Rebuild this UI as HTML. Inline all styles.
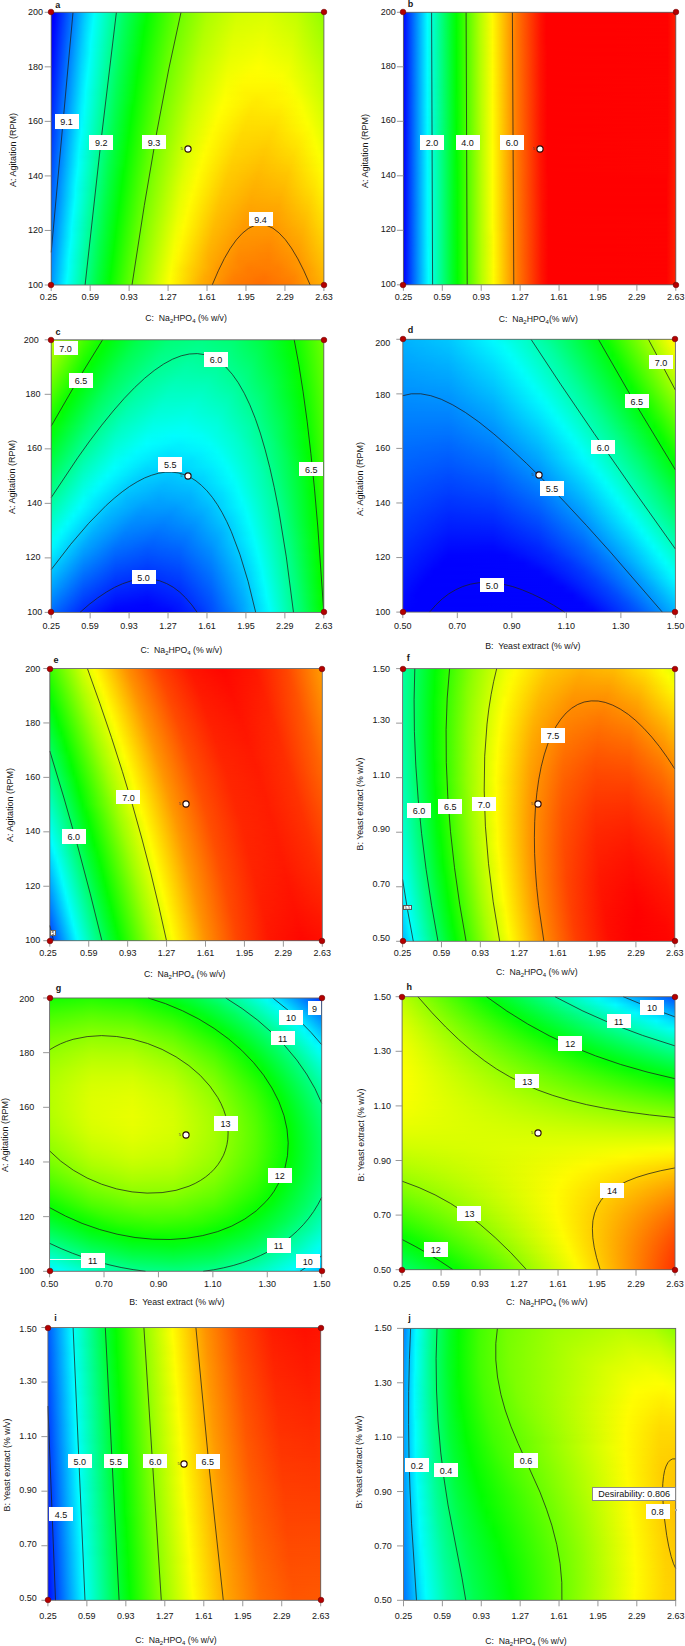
<!DOCTYPE html><html><head><meta charset="utf-8"><style>
*{margin:0;padding:0;box-sizing:border-box}
html,body{width:685px;height:1646px;background:#fff;overflow:hidden;position:relative;font-family:"Liberation Sans",sans-serif;color:#161616}
.F{position:absolute;overflow:hidden}
.L{position:absolute;left:0;top:0;width:100%;height:100%}
.t{position:absolute;font-size:9px;line-height:10px;white-space:nowrap}
.yt{text-align:right;transform:translateY(-50%)}
.xt{transform:translate(-50%,-50%)}
.ttl{position:absolute;font-size:9px;line-height:10px;white-space:nowrap;transform:translate(-50%,-50%)}
.ttl sub{font-size:6px;vertical-align:-2px;line-height:0}
.yl{transform:translate(-50%,-50%) rotate(-90deg)}
.lt{position:absolute;font-size:9px;font-weight:bold;line-height:10px}
.lb{position:absolute;background:#fff;font-size:9px;text-align:center;color:#111;white-space:nowrap;overflow:hidden}
.lb.n{padding-top:1px}
svg{position:absolute;left:0;top:0}
</style></head><body><div class="F" style="left:51.20px;top:12.30px;width:272.70px;height:272.70px"><div class="L" style="background:linear-gradient(90deg,#0000ff 0.5px,#0002ff 3.5px,#00c7ff 33.5px,#00fffc 43.5px,#00ff61 73.5px,#01ff00 96.5px,#66ff00 126.5px,#abff00 156.5px,#d1ff00 186.5px,#d8ff00 216.5px,#c0ff00 246.5px,#92ff00 272.5px)"></div><div class="L" style="background:linear-gradient(90deg,#0000ff 0.5px,#0000ff 2.5px,#00ccff 33.5px,#00fffd 42.5px,#00ff60 72.5px,#03ff00 95.5px,#68ff00 125.5px,#afff00 155.5px,#d6ff00 185.5px,#deff00 215.5px,#c7ff00 245.5px,#97ff00 272.5px);-webkit-mask-image:linear-gradient(180deg,transparent 0.0px,#000 8.0px);mask-image:linear-gradient(180deg,transparent 0.0px,#000 8.0px)"></div><div class="L" style="background:linear-gradient(90deg,#0000ff 0.5px,#000bff 3.5px,#00d1ff 33.5px,#00fffe 41.5px,#00ff60 71.5px,#00ff00 93.5px,#6aff00 124.5px,#b2ff00 154.5px,#daff00 184.5px,#e3ff00 214.5px,#cdff00 244.5px,#9dff00 272.5px);-webkit-mask-image:linear-gradient(180deg,transparent 8.0px,#000 16.0px);mask-image:linear-gradient(180deg,transparent 8.0px,#000 16.0px)"></div><div class="L" style="background:linear-gradient(90deg,#0000ff 0.5px,#0017ff 4.5px,#00dcff 34.5px,#00ffff 40.5px,#00ff60 70.5px,#01ff00 92.5px,#69ff00 122.5px,#b3ff00 152.5px,#deff00 182.5px,#e9ff00 212.5px,#d5ff00 242.5px,#a2ff00 272.5px);-webkit-mask-image:linear-gradient(180deg,transparent 16.0px,#000 24.0px);mask-image:linear-gradient(180deg,transparent 16.0px,#000 24.0px)"></div><div class="L" style="background:linear-gradient(90deg,#0000ff 0.5px,#00c8ff 30.5px,#00feff 39.5px,#00ff5b 70.5px,#02ff00 91.5px,#6cff00 121.5px,#b6ff00 151.5px,#e2ff00 181.5px,#eeff00 211.5px,#dbff00 241.5px,#aaff00 271.5px,#a7ff00 272.5px);-webkit-mask-image:linear-gradient(180deg,transparent 24.0px,#000 32.0px);mask-image:linear-gradient(180deg,transparent 24.0px,#000 32.0px)"></div><div class="L" style="background:linear-gradient(90deg,#0005ff 0.5px,#00cdff 30.5px,#00fffb 39.5px,#00ff5b 69.5px,#03ff00 90.5px,#6eff00 120.5px,#b9ff00 150.5px,#e6ff00 180.5px,#f4ff00 210.5px,#e2ff00 240.5px,#b1ff00 270.5px,#adff00 272.5px);-webkit-mask-image:linear-gradient(180deg,transparent 32.0px,#000 40.0px);mask-image:linear-gradient(180deg,transparent 32.0px,#000 40.0px)"></div><div class="L" style="background:linear-gradient(90deg,#0009ff 0.5px,#00d2ff 30.5px,#00fffc 38.5px,#00ff5b 68.5px,#00ff01 88.5px,#70ff00 119.5px,#bdff00 149.5px,#eaff00 179.5px,#f9ff00 209.5px,#e8ff00 239.5px,#b9ff00 269.5px,#b2ff00 272.5px);-webkit-mask-image:linear-gradient(180deg,transparent 40.0px,#000 48.0px);mask-image:linear-gradient(180deg,transparent 40.0px,#000 48.0px)"></div><div class="L" style="background:linear-gradient(90deg,#000eff 0.5px,#00d7ff 30.5px,#00fffd 37.5px,#00ff5b 67.5px,#00ff00 87.5px,#6eff00 117.5px,#beff00 147.5px,#edff00 177.5px,#feff00 207.5px,#f0ff00 237.5px,#c2ff00 267.5px,#b7ff00 272.5px);-webkit-mask-image:linear-gradient(180deg,transparent 48.0px,#000 56.0px);mask-image:linear-gradient(180deg,transparent 48.0px,#000 56.0px)"></div><div class="L" style="background:linear-gradient(90deg,#0013ff 0.5px,#00dcff 30.5px,#00fffe 36.5px,#00ff5a 66.5px,#01ff00 86.5px,#70ff00 116.5px,#c1ff00 146.5px,#f2ff00 176.5px,#fffc00 198.5px,#faff00 231.5px,#d3ff00 261.5px,#bdff00 272.5px);-webkit-mask-image:linear-gradient(180deg,transparent 56.0px,#000 64.0px);mask-image:linear-gradient(180deg,transparent 56.0px,#000 64.0px)"></div><div class="L" style="background:linear-gradient(90deg,#0018ff 0.5px,#00e1ff 30.5px,#00ffff 35.5px,#00ff5a 65.5px,#02ff00 85.5px,#72ff00 115.5px,#c4ff00 145.5px,#f6ff00 175.5px,#fffa00 192.5px,#fff900 222.5px,#f8ff00 239.5px,#c9ff00 269.5px,#c2ff00 272.5px);-webkit-mask-image:linear-gradient(180deg,transparent 64.0px,#000 72.0px);mask-image:linear-gradient(180deg,transparent 64.0px,#000 72.0px)"></div><div class="L" style="background:linear-gradient(90deg,#001dff 0.5px,#00e6ff 30.5px,#00feff 34.5px,#00ff55 65.5px,#03ff00 84.5px,#74ff00 114.5px,#c7ff00 144.5px,#faff00 174.5px,#fff400 194.5px,#fff400 224.5px,#faff00 242.5px,#c8ff00 272.5px);-webkit-mask-image:linear-gradient(180deg,transparent 72.0px,#000 80.0px);mask-image:linear-gradient(180deg,transparent 72.0px,#000 80.0px)"></div><div class="L" style="background:linear-gradient(90deg,#0022ff 0.5px,#00ebff 30.5px,#00fffb 34.5px,#00ff55 64.5px,#03ff00 83.5px,#76ff00 113.5px,#c9ff00 143.5px,#feff00 173.5px,#ffeb00 205.5px,#fff700 235.5px,#f8ff00 248.5px,#cdff00 272.5px);-webkit-mask-image:linear-gradient(180deg,transparent 80.0px,#000 88.0px);mask-image:linear-gradient(180deg,transparent 80.0px,#000 88.0px)"></div><div class="L" style="background:linear-gradient(90deg,#0027ff 0.5px,#00f0ff 30.5px,#00fffc 33.5px,#00ff55 63.5px,#00ff00 81.5px,#75ff00 111.5px,#caff00 141.5px,#ffff00 170.5px,#ffe700 200.5px,#ffee00 230.5px,#fbff00 250.5px,#d2ff00 272.5px);-webkit-mask-image:linear-gradient(180deg,transparent 88.0px,#000 96.0px);mask-image:linear-gradient(180deg,transparent 88.0px,#000 96.0px)"></div><div class="L" style="background:linear-gradient(90deg,#002cff 0.5px,#00f5ff 30.5px,#00fff7 33.5px,#00ff50 63.5px,#00ff00 80.5px,#76ff00 110.5px,#cdff00 140.5px,#fffe00 167.5px,#ffe200 197.5px,#ffe600 227.5px,#fbff00 253.5px,#d8ff00 272.5px);-webkit-mask-image:linear-gradient(180deg,transparent 96.0px,#000 104.0px);mask-image:linear-gradient(180deg,transparent 96.0px,#000 104.0px)"></div><div class="L" style="background:linear-gradient(90deg,#0031ff 0.5px,#00faff 30.5px,#00ffec 34.5px,#00ff46 64.5px,#01ff00 79.5px,#78ff00 109.5px,#d0ff00 139.5px,#fffd00 164.5px,#ffde00 194.5px,#ffdf00 224.5px,#fcff00 256.5px,#ddff00 272.5px);-webkit-mask-image:linear-gradient(180deg,transparent 104.0px,#000 112.0px);mask-image:linear-gradient(180deg,transparent 104.0px,#000 112.0px)"></div><div class="L" style="background:linear-gradient(90deg,#0036ff 0.5px,#00ffff 30.5px,#00ff55 60.5px,#02ff00 78.5px,#7aff00 108.5px,#d3ff00 138.5px,#fffc00 161.5px,#ffdb00 191.5px,#ffd800 221.5px,#fff500 251.5px,#f9ff00 261.5px,#e3ff00 272.5px);-webkit-mask-image:linear-gradient(180deg,transparent 112.0px,#000 120.0px);mask-image:linear-gradient(180deg,transparent 112.0px,#000 120.0px)"></div><div class="L" style="background:linear-gradient(90deg,#003bff 0.5px,#00feff 29.5px,#00ff4b 61.5px,#02ff00 77.5px,#7bff00 107.5px,#d5ff00 137.5px,#fffc00 158.5px,#ffd700 188.5px,#ffd200 218.5px,#ffeb00 248.5px,#fbff00 263.5px,#e8ff00 272.5px);-webkit-mask-image:linear-gradient(180deg,transparent 120.0px,#000 128.0px);mask-image:linear-gradient(180deg,transparent 120.0px,#000 128.0px)"></div><div class="L" style="background:linear-gradient(90deg,#0040ff 0.5px,#00fcff 28.5px,#00ff41 62.5px,#03ff00 76.5px,#7dff00 106.5px,#d8ff00 136.5px,#fffc00 155.5px,#ffd400 185.5px,#ffcb00 215.5px,#ffe200 245.5px,#fcff00 265.5px,#eeff00 272.5px);-webkit-mask-image:linear-gradient(180deg,transparent 128.0px,#000 136.0px);mask-image:linear-gradient(180deg,transparent 128.0px,#000 136.0px)"></div><div class="L" style="background:linear-gradient(90deg,#0045ff 0.5px,#00fbff 27.5px,#00ff37 63.5px,#03ff00 75.5px,#7fff00 105.5px,#dbff00 135.5px,#fffd00 152.5px,#ffd200 182.5px,#ffc600 212.5px,#ffd900 242.5px,#fcff00 268.5px,#f3ff00 272.5px);-webkit-mask-image:linear-gradient(180deg,transparent 136.0px,#000 144.0px);mask-image:linear-gradient(180deg,transparent 136.0px,#000 144.0px)"></div><div class="L" style="background:linear-gradient(90deg,#004aff 0.5px,#00fffe 27.5px,#00ff51 57.5px,#04ff00 74.5px,#80ff00 104.5px,#ddff00 134.5px,#fffc00 150.5px,#ffce00 180.5px,#ffc000 210.5px,#ffd100 240.5px,#fbff00 271.5px,#f9ff00 272.5px);-webkit-mask-image:linear-gradient(180deg,transparent 144.0px,#000 152.0px);mask-image:linear-gradient(180deg,transparent 144.0px,#000 152.0px)"></div><div class="L" style="background:linear-gradient(90deg,#004fff 0.5px,#00ffff 26.5px,#00ff51 56.5px,#00ff00 72.5px,#82ff00 103.5px,#e0ff00 133.5px,#fffd00 147.5px,#ffcc00 177.5px,#ffbb00 207.5px,#ffc800 237.5px,#fff500 267.5px,#feff00 272.5px);-webkit-mask-image:linear-gradient(180deg,transparent 152.0px,#000 160.0px);mask-image:linear-gradient(180deg,transparent 152.0px,#000 160.0px)"></div><div class="L" style="background:linear-gradient(90deg,#0054ff 0.5px,#00feff 25.5px,#00ff46 57.5px,#00ff00 71.5px,#80ff00 101.5px,#e0ff00 131.5px,#fffc00 145.5px,#ffc900 175.5px,#ffb500 205.5px,#ffc100 235.5px,#ffec00 265.5px,#fffa00 272.5px);-webkit-mask-image:linear-gradient(180deg,transparent 160.0px,#000 168.0px);mask-image:linear-gradient(180deg,transparent 160.0px,#000 168.0px)"></div><div class="L" style="background:linear-gradient(90deg,#0059ff 0.5px,#00fcff 24.5px,#00ff3c 58.5px,#00ff00 70.5px,#81ff00 100.5px,#e3ff00 130.5px,#fffb00 143.5px,#ffc600 173.5px,#ffb000 203.5px,#ffba00 233.5px,#ffe300 263.5px,#fff500 272.5px);-webkit-mask-image:linear-gradient(180deg,transparent 168.0px,#000 176.0px);mask-image:linear-gradient(180deg,transparent 168.0px,#000 176.0px)"></div><div class="L" style="background:linear-gradient(90deg,#005eff 0.5px,#00fffd 24.5px,#00ff4c 54.5px,#01ff00 69.5px,#82ff00 99.5px,#e5ff00 129.5px,#fffd00 140.5px,#ffc500 170.5px,#ffac00 200.5px,#ffb200 230.5px,#ffd800 260.5px,#ffef00 272.5px);-webkit-mask-image:linear-gradient(180deg,transparent 176.0px,#000 184.0px);mask-image:linear-gradient(180deg,transparent 176.0px,#000 184.0px)"></div><div class="L" style="background:linear-gradient(90deg,#0063ff 0.5px,#00fffe 23.5px,#00ff4c 53.5px,#01ff00 68.5px,#84ff00 98.5px,#e8ff00 128.5px,#fffc00 138.5px,#ffc200 168.5px,#ffa700 198.5px,#ffab00 228.5px,#ffcf00 258.5px,#ffea00 272.5px);-webkit-mask-image:linear-gradient(180deg,transparent 184.0px,#000 192.0px);mask-image:linear-gradient(180deg,transparent 184.0px,#000 192.0px)"></div><div class="L" style="background:linear-gradient(90deg,#0068ff 0.5px,#00ffff 22.5px,#00ff4c 52.5px,#01ff00 67.5px,#85ff00 97.5px,#eaff00 127.5px,#fffc00 136.5px,#ffc000 166.5px,#ffa200 196.5px,#ffa400 226.5px,#ffc600 256.5px,#ffe400 272.5px);-webkit-mask-image:linear-gradient(180deg,transparent 192.0px,#000 200.0px);mask-image:linear-gradient(180deg,transparent 192.0px,#000 200.0px)"></div><div class="L" style="background:linear-gradient(90deg,#006dff 0.5px,#00fdff 21.5px,#00ff3c 54.5px,#01ff00 66.5px,#87ff00 96.5px,#ecff00 126.5px,#fffc00 134.5px,#ffbd00 164.5px,#ff9e00 194.5px,#ff9e00 224.5px,#ffbd00 254.5px,#ffdf00 272.5px);-webkit-mask-image:linear-gradient(180deg,transparent 200.0px,#000 208.0px);mask-image:linear-gradient(180deg,transparent 200.0px,#000 208.0px)"></div><div class="L" style="background:linear-gradient(90deg,#0072ff 0.5px,#00fcff 20.5px,#00ff32 55.5px,#02ff00 65.5px,#88ff00 95.5px,#efff00 125.5px,#fffc00 132.5px,#ffbb00 162.5px,#ff9a00 192.5px,#ff9700 222.5px,#ffb400 252.5px,#ffd900 272.5px);-webkit-mask-image:linear-gradient(180deg,transparent 208.0px,#000 216.0px);mask-image:linear-gradient(180deg,transparent 208.0px,#000 216.0px)"></div><div class="L" style="background:linear-gradient(90deg,#0077ff 0.5px,#00fffd 20.5px,#00ff48 50.5px,#02ff00 64.5px,#89ff00 94.5px,#f1ff00 124.5px,#fff900 131.5px,#ffb700 161.5px,#ff9500 191.5px,#ff9200 221.5px,#ffad00 251.5px,#ffd300 272.5px);-webkit-mask-image:linear-gradient(180deg,transparent 216.0px,#000 224.0px);mask-image:linear-gradient(180deg,transparent 216.0px,#000 224.0px)"></div><div class="L" style="background:linear-gradient(90deg,#007cff 0.5px,#00fffe 19.5px,#00ff48 49.5px,#02ff00 63.5px,#8aff00 93.5px,#f4ff00 123.5px,#fff900 129.5px,#ffb500 159.5px,#ff9100 189.5px,#ff8b00 219.5px,#ffa500 249.5px,#ffce00 272.5px);-webkit-mask-image:linear-gradient(180deg,transparent 224.0px,#000 232.0px);mask-image:linear-gradient(180deg,transparent 224.0px,#000 232.0px)"></div><div class="L" style="background:linear-gradient(90deg,#0081ff 0.5px,#00feff 18.5px,#00ff43 49.5px,#02ff00 62.5px,#8cff00 92.5px,#f6ff00 122.5px,#fff900 127.5px,#ffb300 157.5px,#ff8d00 187.5px,#ff8500 217.5px,#ff9d00 247.5px,#ffc800 272.5px);-webkit-mask-image:linear-gradient(180deg,transparent 232.0px,#000 240.0px);mask-image:linear-gradient(180deg,transparent 232.0px,#000 240.0px)"></div><div class="L" style="background:linear-gradient(90deg,#0086ff 0.5px,#00fdff 17.5px,#00ff33 51.5px,#02ff00 61.5px,#8dff00 91.5px,#f8ff00 121.5px,#fff400 127.5px,#ffae00 157.5px,#ff8700 187.5px,#ff8000 217.5px,#ff9700 247.5px,#ffc300 272.5px);-webkit-mask-image:linear-gradient(180deg,transparent 240.0px,#000 248.0px);mask-image:linear-gradient(180deg,transparent 240.0px,#000 248.0px)"></div><div class="L" style="background:linear-gradient(90deg,#008cff 0.5px,#00fffc 17.5px,#00ff44 47.5px,#02ff00 60.5px,#8eff00 90.5px,#faff00 120.5px,#ffd400 137.5px,#ff9800 167.5px,#ff7c00 197.5px,#ff7f00 227.5px,#ffa000 257.5px,#ffbd00 272.5px);-webkit-mask-image:linear-gradient(180deg,transparent 248.0px,#000 256.0px);mask-image:linear-gradient(180deg,transparent 248.0px,#000 256.0px)"></div><div class="L" style="background:linear-gradient(90deg,#0091ff 0.5px,#00fffe 16.5px,#00ff44 46.5px,#02ff00 59.5px,#8fff00 89.5px,#fdff00 119.5px,#ffab00 153.5px,#ff8000 183.5px,#ff7400 213.5px,#ff8700 243.5px,#ffb700 272.5px);-webkit-mask-image:linear-gradient(180deg,transparent 256.0px,#000 264.0px);mask-image:linear-gradient(180deg,transparent 256.0px,#000 264.0px)"></div><div class="L" style="background:linear-gradient(90deg,#0096ff 0.5px,#00ffff 15.5px,#00ff45 45.5px,#02ff00 58.5px,#90ff00 88.5px,#ffff00 118.5px,#ffb000 148.5px,#ff7f00 178.5px,#ff6e00 208.5px,#ff7c00 238.5px,#ffa900 268.5px,#ffb200 272.5px);-webkit-mask-image:linear-gradient(180deg,transparent 264.0px,#000 272.0px);mask-image:linear-gradient(180deg,transparent 264.0px,#000 272.0px)"></div><div class="L" style="background:linear-gradient(90deg,#0096ff 0.5px,#00ffff 15.5px,#00ff44 45.5px,#03ff00 58.5px,#91ff00 88.5px,#fcff00 117.5px,#ffa900 151.5px,#ff7c00 181.5px,#ff6e00 211.5px,#ff7f00 241.5px,#ffaf00 271.5px,#ffb100 272.5px);-webkit-mask-image:linear-gradient(180deg,transparent 272.0px,#000 272.7px);mask-image:linear-gradient(180deg,transparent 272.0px,#000 272.7px)"></div></div><div class="F" style="left:403.40px;top:12.30px;width:272.40px;height:272.50px"><div class="L" style="background:linear-gradient(90deg,#0007ff 0.5px,#00ffff 24.5px,#00ff27 48.5px,#03ff00 53.5px,#b5ff00 77.5px,#fdff00 88.5px,#ff7200 114.5px,#ff0e00 138.5px,#ff0000 143.5px,#ff0200 264.5px,#ff1e00 272.5px)"></div><div class="L" style="background:linear-gradient(90deg,#0007ff 0.5px,#00ffff 24.5px,#00ff1f 49.5px,#02ff00 53.5px,#b5ff00 77.5px,#fffb00 89.5px,#ff7700 113.5px,#ff1200 137.5px,#ff0000 143.5px,#ff0200 264.5px,#ff1e00 272.5px);-webkit-mask-image:linear-gradient(180deg,transparent 0.0px,#000 8.0px);mask-image:linear-gradient(180deg,transparent 0.0px,#000 8.0px)"></div><div class="L" style="background:linear-gradient(90deg,#0007ff 0.5px,#00feff 24.5px,#00ff1f 49.5px,#02ff00 53.5px,#b5ff00 77.5px,#fffb00 89.5px,#ff7700 113.5px,#ff1200 137.5px,#ff0000 143.5px,#ff0200 264.5px,#ff1e00 272.5px);-webkit-mask-image:linear-gradient(180deg,transparent 8.0px,#000 16.0px);mask-image:linear-gradient(180deg,transparent 8.0px,#000 16.0px)"></div><div class="L" style="background:linear-gradient(90deg,#0006ff 0.5px,#00feff 24.5px,#00ff1f 49.5px,#02ff00 53.5px,#b5ff00 77.5px,#fffb00 89.5px,#ff7700 113.5px,#ff1200 137.5px,#ff0000 143.5px,#ff0200 264.5px,#ff1e00 272.5px);-webkit-mask-image:linear-gradient(180deg,transparent 16.0px,#000 24.0px);mask-image:linear-gradient(180deg,transparent 16.0px,#000 24.0px)"></div><div class="L" style="background:linear-gradient(90deg,#0006ff 0.5px,#00feff 24.5px,#00ff17 50.5px,#02ff00 53.5px,#b5ff00 77.5px,#fffc00 89.5px,#ff7700 113.5px,#ff1200 137.5px,#ff0000 143.5px,#ff0200 264.5px,#ff1e00 272.5px);-webkit-mask-image:linear-gradient(180deg,transparent 24.0px,#000 32.0px);mask-image:linear-gradient(180deg,transparent 24.0px,#000 32.0px)"></div><div class="L" style="background:linear-gradient(90deg,#0006ff 0.5px,#00fdff 24.5px,#00ff17 50.5px,#01ff00 53.5px,#b4ff00 77.5px,#fffc00 89.5px,#ff7800 113.5px,#ff1300 137.5px,#ff0000 144.5px,#ff0200 264.5px,#ff1e00 272.5px);-webkit-mask-image:linear-gradient(180deg,transparent 32.0px,#000 40.0px);mask-image:linear-gradient(180deg,transparent 32.0px,#000 40.0px)"></div><div class="L" style="background:linear-gradient(90deg,#0005ff 0.5px,#00fdff 24.5px,#00ff18 50.5px,#01ff00 53.5px,#b4ff00 77.5px,#fffc00 89.5px,#ff7800 113.5px,#ff1300 137.5px,#ff0000 144.5px,#ff0200 264.5px,#ff1e00 272.5px);-webkit-mask-image:linear-gradient(180deg,transparent 40.0px,#000 48.0px);mask-image:linear-gradient(180deg,transparent 40.0px,#000 48.0px)"></div><div class="L" style="background:linear-gradient(90deg,#0005ff 0.5px,#00fdff 24.5px,#00ff10 51.5px,#01ff00 53.5px,#b4ff00 77.5px,#fffc00 89.5px,#ff7800 113.5px,#ff1300 137.5px,#ff0000 144.5px,#ff0200 264.5px,#ff1f00 272.5px);-webkit-mask-image:linear-gradient(180deg,transparent 48.0px,#000 56.0px);mask-image:linear-gradient(180deg,transparent 48.0px,#000 56.0px)"></div><div class="L" style="background:linear-gradient(90deg,#0005ff 0.5px,#00fdff 24.5px,#00ff10 51.5px,#01ff00 53.5px,#b4ff00 77.5px,#fffd00 89.5px,#ff7800 113.5px,#ff1300 137.5px,#ff0000 144.5px,#ff0300 264.5px,#ff1f00 272.5px);-webkit-mask-image:linear-gradient(180deg,transparent 56.0px,#000 64.0px);mask-image:linear-gradient(180deg,transparent 56.0px,#000 64.0px)"></div><div class="L" style="background:linear-gradient(90deg,#0005ff 0.5px,#00fcff 24.5px,#00ff10 51.5px,#00ff00 53.5px,#b3ff00 77.5px,#fffd00 89.5px,#ff7900 113.5px,#ff1300 137.5px,#ff0000 144.5px,#ff0300 264.5px,#ff1f00 272.5px);-webkit-mask-image:linear-gradient(180deg,transparent 64.0px,#000 72.0px);mask-image:linear-gradient(180deg,transparent 64.0px,#000 72.0px)"></div><div class="L" style="background:linear-gradient(90deg,#0004ff 0.5px,#00fcff 24.5px,#00ff08 52.5px,#00ff00 53.5px,#b3ff00 77.5px,#fffd00 89.5px,#ff7900 113.5px,#ff1400 137.5px,#ff0000 144.5px,#ff0300 264.5px,#ff1f00 272.5px);-webkit-mask-image:linear-gradient(180deg,transparent 72.0px,#000 80.0px);mask-image:linear-gradient(180deg,transparent 72.0px,#000 80.0px)"></div><div class="L" style="background:linear-gradient(90deg,#0004ff 0.5px,#00fcff 24.5px,#00ff08 52.5px,#08ff00 54.5px,#baff00 78.5px,#fffd00 89.5px,#ff7900 113.5px,#ff1400 137.5px,#ff0000 144.5px,#ff0300 264.5px,#ff1f00 272.5px);-webkit-mask-image:linear-gradient(180deg,transparent 80.0px,#000 88.0px);mask-image:linear-gradient(180deg,transparent 80.0px,#000 88.0px)"></div><div class="L" style="background:linear-gradient(90deg,#0004ff 0.5px,#00fcff 24.5px,#00ff09 52.5px,#08ff00 54.5px,#b9ff00 78.5px,#fffd00 89.5px,#ff7900 113.5px,#ff1400 137.5px,#ff0000 144.5px,#ff0300 264.5px,#ff1f00 272.5px);-webkit-mask-image:linear-gradient(180deg,transparent 88.0px,#000 96.0px);mask-image:linear-gradient(180deg,transparent 88.0px,#000 96.0px)"></div><div class="L" style="background:linear-gradient(90deg,#0003ff 0.5px,#00fbff 24.5px,#00ff09 52.5px,#07ff00 54.5px,#b9ff00 78.5px,#fffe00 89.5px,#ff7900 113.5px,#ff1400 137.5px,#ff0000 144.5px,#ff0300 264.5px,#ff1f00 272.5px);-webkit-mask-image:linear-gradient(180deg,transparent 96.0px,#000 104.0px);mask-image:linear-gradient(180deg,transparent 96.0px,#000 104.0px)"></div><div class="L" style="background:linear-gradient(90deg,#0003ff 0.5px,#00fbff 24.5px,#00ff01 53.5px,#b9ff00 78.5px,#fffe00 89.5px,#ff7a00 113.5px,#ff1400 137.5px,#ff0000 144.5px,#ff0300 264.5px,#ff1f00 272.5px);-webkit-mask-image:linear-gradient(180deg,transparent 104.0px,#000 112.0px);mask-image:linear-gradient(180deg,transparent 104.0px,#000 112.0px)"></div><div class="L" style="background:linear-gradient(90deg,#0003ff 0.5px,#00fbff 24.5px,#00ff44 45.5px,#00ff01 53.5px,#bfff00 79.5px,#fffe00 89.5px,#ff7a00 113.5px,#ff1500 137.5px,#ff0000 144.5px,#ff0300 264.5px,#ff2000 272.5px);-webkit-mask-image:linear-gradient(180deg,transparent 112.0px,#000 120.0px);mask-image:linear-gradient(180deg,transparent 112.0px,#000 120.0px)"></div><div class="L" style="background:linear-gradient(90deg,#0003ff 0.5px,#00fbff 24.5px,#00ffaf 33.5px,#00ff01 53.5px,#bfff00 79.5px,#fffe00 89.5px,#ff7a00 113.5px,#ff1500 137.5px,#ff0000 144.5px,#ff0400 264.5px,#ff2000 272.5px);-webkit-mask-image:linear-gradient(180deg,transparent 120.0px,#000 128.0px);mask-image:linear-gradient(180deg,transparent 120.0px,#000 128.0px)"></div><div class="L" style="background:linear-gradient(90deg,#0002ff 0.5px,#00faff 24.5px,#00ffcb 30.5px,#00ff02 53.5px,#bfff00 79.5px,#ffff00 89.5px,#ff7a00 113.5px,#ff1500 137.5px,#ff0000 144.5px,#ff0400 264.5px,#ff2000 272.5px);-webkit-mask-image:linear-gradient(180deg,transparent 128.0px,#000 136.0px);mask-image:linear-gradient(180deg,transparent 128.0px,#000 136.0px)"></div><div class="L" style="background:linear-gradient(90deg,#0002ff 0.5px,#00faff 24.5px,#00ffd4 29.5px,#00ff02 53.5px,#bfff00 79.5px,#ffff00 89.5px,#ff7a00 113.5px,#ff1500 137.5px,#ff0000 144.5px,#ff0400 264.5px,#ff2000 272.5px);-webkit-mask-image:linear-gradient(180deg,transparent 136.0px,#000 144.0px);mask-image:linear-gradient(180deg,transparent 136.0px,#000 144.0px)"></div><div class="L" style="background:linear-gradient(90deg,#0002ff 0.5px,#00faff 24.5px,#00ffde 28.5px,#00ff0a 52.5px,#06ff00 54.5px,#b8ff00 78.5px,#ffff00 89.5px,#ff7b00 113.5px,#ff1500 137.5px,#ff0000 144.5px,#ff0400 264.5px,#ff2000 272.5px);-webkit-mask-image:linear-gradient(180deg,transparent 144.0px,#000 152.0px);mask-image:linear-gradient(180deg,transparent 144.0px,#000 152.0px)"></div><div class="L" style="background:linear-gradient(90deg,#0001ff 0.5px,#00f9ff 24.5px,#00ffe8 27.5px,#00ff13 51.5px,#06ff00 54.5px,#b8ff00 78.5px,#ffff00 89.5px,#ff7b00 113.5px,#ff1600 137.5px,#ff0000 144.5px,#ff0400 264.5px,#ff2000 272.5px);-webkit-mask-image:linear-gradient(180deg,transparent 152.0px,#000 160.0px);mask-image:linear-gradient(180deg,transparent 152.0px,#000 160.0px)"></div><div class="L" style="background:linear-gradient(90deg,#0001ff 0.5px,#00f9ff 24.5px,#00ffe8 27.5px,#00ff13 51.5px,#05ff00 54.5px,#b7ff00 78.5px,#feff00 89.5px,#ff7600 114.5px,#ff1200 138.5px,#ff0000 145.5px,#ff0100 263.5px,#ff2000 272.5px);-webkit-mask-image:linear-gradient(180deg,transparent 160.0px,#000 168.0px);mask-image:linear-gradient(180deg,transparent 160.0px,#000 168.0px)"></div><div class="L" style="background:linear-gradient(90deg,#0001ff 0.5px,#00f9ff 24.5px,#00fff2 26.5px,#00ff1c 50.5px,#05ff00 54.5px,#b7ff00 78.5px,#feff00 89.5px,#ff7600 114.5px,#ff1200 138.5px,#ff0000 145.5px,#ff0100 263.5px,#ff2000 272.5px);-webkit-mask-image:linear-gradient(180deg,transparent 168.0px,#000 176.0px);mask-image:linear-gradient(180deg,transparent 168.0px,#000 176.0px)"></div><div class="L" style="background:linear-gradient(90deg,#0001ff 0.5px,#00f9ff 24.5px,#00fff2 26.5px,#00ff1c 50.5px,#05ff00 54.5px,#b7ff00 78.5px,#feff00 89.5px,#ff7700 114.5px,#ff1300 138.5px,#ff0000 145.5px,#ff0100 263.5px,#ff2100 272.5px);-webkit-mask-image:linear-gradient(180deg,transparent 176.0px,#000 184.0px);mask-image:linear-gradient(180deg,transparent 176.0px,#000 184.0px)"></div><div class="L" style="background:linear-gradient(90deg,#0000ff 0.5px,#00f8ff 24.5px,#00fff2 26.5px,#00ff1c 50.5px,#05ff00 54.5px,#b7ff00 78.5px,#feff00 89.5px,#ff7200 115.5px,#ff0f00 139.5px,#ff0000 145.5px,#ff0100 263.5px,#ff2100 272.5px);-webkit-mask-image:linear-gradient(180deg,transparent 184.0px,#000 192.0px);mask-image:linear-gradient(180deg,transparent 184.0px,#000 192.0px)"></div><div class="L" style="background:linear-gradient(90deg,#0000ff 0.5px,#00f8ff 24.5px,#00fff3 26.5px,#00ff1c 50.5px,#04ff00 54.5px,#b6ff00 78.5px,#feff00 89.5px,#ff7200 115.5px,#ff1000 139.5px,#ff0000 145.5px,#ff0100 263.5px,#ff2100 272.5px);-webkit-mask-image:linear-gradient(180deg,transparent 192.0px,#000 200.0px);mask-image:linear-gradient(180deg,transparent 192.0px,#000 200.0px)"></div><div class="L" style="background:linear-gradient(90deg,#0000ff 0.5px,#00f8ff 24.5px,#00fff3 26.5px,#00ff1d 50.5px,#04ff00 54.5px,#b6ff00 78.5px,#fdff00 89.5px,#ff7300 115.5px,#ff1000 139.5px,#ff0000 145.5px,#ff0200 263.5px,#ff2100 272.5px);-webkit-mask-image:linear-gradient(180deg,transparent 200.0px,#000 208.0px);mask-image:linear-gradient(180deg,transparent 200.0px,#000 208.0px)"></div><div class="L" style="background:linear-gradient(90deg,#0000ff 0.5px,#00f8ff 24.5px,#00fff3 26.5px,#00ff1d 50.5px,#04ff00 54.5px,#b6ff00 78.5px,#fdff00 89.5px,#ff7300 115.5px,#ff1000 139.5px,#ff0000 145.5px,#ff0200 263.5px,#ff2100 272.5px);-webkit-mask-image:linear-gradient(180deg,transparent 208.0px,#000 216.0px);mask-image:linear-gradient(180deg,transparent 208.0px,#000 216.0px)"></div><div class="L" style="background:linear-gradient(90deg,#0000ff 0.5px,#00f7ff 24.5px,#00fff3 26.5px,#00ff1d 50.5px,#04ff00 54.5px,#b6ff00 78.5px,#fffb00 90.5px,#ff7800 114.5px,#ff1400 138.5px,#ff0000 145.5px,#ff0200 263.5px,#ff2100 272.5px);-webkit-mask-image:linear-gradient(180deg,transparent 216.0px,#000 224.0px);mask-image:linear-gradient(180deg,transparent 216.0px,#000 224.0px)"></div><div class="L" style="background:linear-gradient(90deg,#0000ff 0.5px,#00f7ff 24.5px,#00fff4 26.5px,#00ff1d 50.5px,#03ff00 54.5px,#b5ff00 78.5px,#fffb00 90.5px,#ff7800 114.5px,#ff1400 138.5px,#ff0000 145.5px,#ff0200 263.5px,#ff2100 272.5px);-webkit-mask-image:linear-gradient(180deg,transparent 224.0px,#000 232.0px);mask-image:linear-gradient(180deg,transparent 224.0px,#000 232.0px)"></div><div class="L" style="background:linear-gradient(90deg,#0000ff 0.5px,#00f7ff 24.5px,#00fffe 25.5px,#00ff26 49.5px,#03ff00 54.5px,#b5ff00 78.5px,#fffb00 90.5px,#ff7800 114.5px,#ff1400 138.5px,#ff0000 145.5px,#ff0200 263.5px,#ff2100 272.5px);-webkit-mask-image:linear-gradient(180deg,transparent 232.0px,#000 240.0px);mask-image:linear-gradient(180deg,transparent 232.0px,#000 240.0px)"></div><div class="L" style="background:linear-gradient(90deg,#0000ff 0.5px,#00f7ff 24.5px,#00fffe 25.5px,#00ff26 49.5px,#03ff00 54.5px,#b5ff00 78.5px,#fffc00 90.5px,#ff7800 114.5px,#ff1400 138.5px,#ff0000 145.5px,#ff0200 263.5px,#ff2100 272.5px);-webkit-mask-image:linear-gradient(180deg,transparent 240.0px,#000 248.0px);mask-image:linear-gradient(180deg,transparent 240.0px,#000 248.0px)"></div><div class="L" style="background:linear-gradient(90deg,#0000ff 0.5px,#00fffe 25.5px,#00ff26 49.5px,#03ff00 54.5px,#b5ff00 78.5px,#fffc00 90.5px,#ff7900 114.5px,#ff1400 138.5px,#ff0000 145.5px,#ff0200 263.5px,#ff2200 272.5px);-webkit-mask-image:linear-gradient(180deg,transparent 248.0px,#000 256.0px);mask-image:linear-gradient(180deg,transparent 248.0px,#000 256.0px)"></div><div class="L" style="background:linear-gradient(90deg,#0000ff 0.5px,#00fffe 25.5px,#00ff27 49.5px,#02ff00 54.5px,#b4ff00 78.5px,#fffc00 90.5px,#ff7900 114.5px,#ff1500 138.5px,#ff0000 145.5px,#ff0200 263.5px,#ff2200 272.5px);-webkit-mask-image:linear-gradient(180deg,transparent 256.0px,#000 264.0px);mask-image:linear-gradient(180deg,transparent 256.0px,#000 264.0px)"></div><div class="L" style="background:linear-gradient(90deg,#0000ff 0.5px,#00ffff 25.5px,#00ff27 49.5px,#02ff00 54.5px,#b4ff00 78.5px,#fffc00 90.5px,#ff7900 114.5px,#ff1500 138.5px,#ff0000 145.5px,#ff0300 263.5px,#ff2200 272.5px);-webkit-mask-image:linear-gradient(180deg,transparent 264.0px,#000 272.0px);mask-image:linear-gradient(180deg,transparent 264.0px,#000 272.0px)"></div><div class="L" style="background:linear-gradient(90deg,#0000ff 0.5px,#00ffff 25.5px,#00ff27 49.5px,#02ff00 54.5px,#b4ff00 78.5px,#fffc00 90.5px,#ff7900 114.5px,#ff1500 138.5px,#ff0000 145.5px,#ff0300 263.5px,#ff2200 272.5px);-webkit-mask-image:linear-gradient(180deg,transparent 272.0px,#000 272.5px);mask-image:linear-gradient(180deg,transparent 272.0px,#000 272.5px)"></div></div><div class="F" style="left:51.20px;top:339.80px;width:272.60px;height:272.60px"><div class="L" style="background:linear-gradient(90deg,#c8ff00 0.5px,#47ff00 32.5px,#00ff02 55.5px,#00ff4d 87.5px,#00ff78 119.5px,#00ff84 151.5px,#00ff70 183.5px,#00ff3c 215.5px,#02ff00 240.5px,#6eff00 272.5px)"></div><div class="L" style="background:linear-gradient(90deg,#b6ff00 0.5px,#37ff00 32.5px,#00ff03 50.5px,#00ff51 82.5px,#00ff7f 114.5px,#00ff8e 146.5px,#00ff7d 178.5px,#00ff4d 210.5px,#03ff00 242.5px,#6bff00 272.5px);-webkit-mask-image:linear-gradient(180deg,transparent 0.0px,#000 8.0px);mask-image:linear-gradient(180deg,transparent 0.0px,#000 8.0px)"></div><div class="L" style="background:linear-gradient(90deg,#a4ff00 0.5px,#27ff00 32.5px,#00ff03 45.5px,#00ff54 77.5px,#00ff86 109.5px,#00ff98 141.5px,#00ff8a 173.5px,#00ff5d 205.5px,#00ff10 237.5px,#05ff00 244.5px,#68ff00 272.5px);-webkit-mask-image:linear-gradient(180deg,transparent 8.0px,#000 16.0px);mask-image:linear-gradient(180deg,transparent 8.0px,#000 16.0px)"></div><div class="L" style="background:linear-gradient(90deg,#93ff00 0.5px,#17ff00 32.5px,#00ff03 40.5px,#00ff58 72.5px,#00ff8c 104.5px,#00ffa2 136.5px,#00ff97 168.5px,#00ff6d 200.5px,#00ff24 232.5px,#03ff00 245.5px,#65ff00 272.5px);-webkit-mask-image:linear-gradient(180deg,transparent 16.0px,#000 24.0px);mask-image:linear-gradient(180deg,transparent 16.0px,#000 24.0px)"></div><div class="L" style="background:linear-gradient(90deg,#81ff00 0.5px,#07ff00 32.5px,#00ff0a 37.5px,#00ff5f 69.5px,#00ff95 101.5px,#00ffac 133.5px,#00ffa2 165.5px,#00ff7a 197.5px,#00ff31 229.5px,#02ff00 246.5px,#62ff00 272.5px);-webkit-mask-image:linear-gradient(180deg,transparent 24.0px,#000 32.0px);mask-image:linear-gradient(180deg,transparent 24.0px,#000 32.0px)"></div><div class="L" style="background:linear-gradient(90deg,#6fff00 0.5px,#00ff00 29.5px,#00ff5b 61.5px,#00ff98 93.5px,#00ffb4 125.5px,#00ffb1 157.5px,#00ff8e 189.5px,#00ff4c 221.5px,#04ff00 248.5px,#5fff00 272.5px);-webkit-mask-image:linear-gradient(180deg,transparent 32.0px,#000 40.0px);mask-image:linear-gradient(180deg,transparent 32.0px,#000 40.0px)"></div><div class="L" style="background:linear-gradient(90deg,#5dff00 0.5px,#00ff02 25.5px,#00ff60 57.5px,#00ff9f 89.5px,#00ffbe 121.5px,#00ffbd 153.5px,#00ff9c 185.5px,#00ff5c 217.5px,#03ff00 249.5px,#5bff00 272.5px);-webkit-mask-image:linear-gradient(180deg,transparent 40.0px,#000 48.0px);mask-image:linear-gradient(180deg,transparent 40.0px,#000 48.0px)"></div><div class="L" style="background:linear-gradient(90deg,#4bff00 0.5px,#00ff02 20.5px,#00ff63 52.5px,#00ffa4 84.5px,#00ffc6 116.5px,#00ffc9 148.5px,#00ffac 180.5px,#00ff6f 212.5px,#00ff12 244.5px,#02ff00 250.5px,#58ff00 272.5px);-webkit-mask-image:linear-gradient(180deg,transparent 48.0px,#000 56.0px);mask-image:linear-gradient(180deg,transparent 48.0px,#000 56.0px)"></div><div class="L" style="background:linear-gradient(90deg,#39ff00 0.5px,#00ff01 15.5px,#00ff65 47.5px,#00ffaa 79.5px,#00ffcf 111.5px,#00ffd5 143.5px,#00ffbb 175.5px,#00ff81 207.5px,#00ff28 239.5px,#02ff00 251.5px,#55ff00 272.5px);-webkit-mask-image:linear-gradient(180deg,transparent 56.0px,#000 64.0px);mask-image:linear-gradient(180deg,transparent 56.0px,#000 64.0px)"></div><div class="L" style="background:linear-gradient(90deg,#27ff00 0.5px,#00ff03 11.5px,#00ff6a 43.5px,#00ffb1 75.5px,#00ffd8 107.5px,#00ffe0 139.5px,#00ffc8 171.5px,#00ff91 203.5px,#00ff3a 235.5px,#01ff00 252.5px,#52ff00 272.5px);-webkit-mask-image:linear-gradient(180deg,transparent 64.0px,#000 72.0px);mask-image:linear-gradient(180deg,transparent 64.0px,#000 72.0px)"></div><div class="L" style="background:linear-gradient(90deg,#16ff00 0.5px,#00ff02 6.5px,#00ff6b 38.5px,#00ffb6 70.5px,#00ffe0 102.5px,#00ffeb 134.5px,#00ffd7 166.5px,#00ffa2 198.5px,#00ff4f 230.5px,#01ff00 253.5px,#4fff00 272.5px);-webkit-mask-image:linear-gradient(180deg,transparent 72.0px,#000 80.0px);mask-image:linear-gradient(180deg,transparent 72.0px,#000 80.0px)"></div><div class="L" style="background:linear-gradient(90deg,#04ff00 0.5px,#00ff7b 38.5px,#00ffc4 70.5px,#00ffec 102.5px,#00fff6 134.5px,#00ffdf 166.5px,#00ffaa 198.5px,#00ff54 230.5px,#01ff00 254.5px,#4cff00 272.5px);-webkit-mask-image:linear-gradient(180deg,transparent 80.0px,#000 88.0px);mask-image:linear-gradient(180deg,transparent 80.0px,#000 88.0px)"></div><div class="L" style="background:linear-gradient(90deg,#00ff0e 0.5px,#00ff7a 32.5px,#00ffc7 64.5px,#00fff4 96.5px,#00fdff 122.5px,#00fff8 150.5px,#00ffd0 182.5px,#00ff89 214.5px,#00ff22 246.5px,#05ff00 256.5px,#49ff00 272.5px);-webkit-mask-image:linear-gradient(180deg,transparent 88.0px,#000 96.0px);mask-image:linear-gradient(180deg,transparent 88.0px,#000 96.0px)"></div><div class="L" style="background:linear-gradient(90deg,#00ff20 0.5px,#00ff8a 32.5px,#00ffd5 64.5px,#00ffff 95.5px,#00f2ff 127.5px,#00fffa 158.5px,#00ffc9 190.5px,#00ff78 222.5px,#00ff07 254.5px,#09ff00 258.5px,#46ff00 272.5px);-webkit-mask-image:linear-gradient(180deg,transparent 96.0px,#000 104.0px);mask-image:linear-gradient(180deg,transparent 96.0px,#000 104.0px)"></div><div class="L" style="background:linear-gradient(90deg,#00ff31 0.5px,#00ff9a 32.5px,#00ffe3 64.5px,#00fcff 85.5px,#00e7ff 117.5px,#00f2ff 149.5px,#00fffa 166.5px,#00ffbf 198.5px,#00ff64 230.5px,#01ff00 257.5px,#43ff00 272.5px);-webkit-mask-image:linear-gradient(180deg,transparent 104.0px,#000 112.0px);mask-image:linear-gradient(180deg,transparent 104.0px,#000 112.0px)"></div><div class="L" style="background:linear-gradient(90deg,#00ff43 0.5px,#00ffaa 32.5px,#00fff2 64.5px,#00faff 76.5px,#00deff 108.5px,#00e1ff 140.5px,#00fffb 171.5px,#00ffb9 203.5px,#00ff58 235.5px,#02ff00 258.5px,#40ff00 272.5px);-webkit-mask-image:linear-gradient(180deg,transparent 112.0px,#000 120.0px);mask-image:linear-gradient(180deg,transparent 112.0px,#000 120.0px)"></div><div class="L" style="background:linear-gradient(90deg,#00ff55 0.5px,#00ffba 32.5px,#00fffe 63.5px,#00d8ff 96.5px,#00d2ff 128.5px,#00ebff 160.5px,#00fffb 176.5px,#00ffb3 208.5px,#00ff4b 240.5px,#02ff00 259.5px,#3dff00 272.5px);-webkit-mask-image:linear-gradient(180deg,transparent 120.0px,#000 128.0px);mask-image:linear-gradient(180deg,transparent 120.0px,#000 128.0px)"></div><div class="L" style="background:linear-gradient(90deg,#00ff67 0.5px,#00ffca 32.5px,#00feff 56.5px,#00d2ff 88.5px,#00c5ff 120.5px,#00d8ff 152.5px,#00fffc 180.5px,#00ffae 212.5px,#00ff40 244.5px,#03ff00 260.5px,#3aff00 272.5px);-webkit-mask-image:linear-gradient(180deg,transparent 128.0px,#000 136.0px);mask-image:linear-gradient(180deg,transparent 128.0px,#000 136.0px)"></div><div class="L" style="background:linear-gradient(90deg,#00ff78 0.5px,#00ffda 32.5px,#00fdff 49.5px,#00cbff 81.5px,#00b9ff 113.5px,#00c7ff 145.5px,#00f5ff 177.5px,#00fff9 185.5px,#00ffa4 217.5px,#00ff30 249.5px,#04ff00 261.5px,#37ff00 272.5px);-webkit-mask-image:linear-gradient(180deg,transparent 136.0px,#000 144.0px);mask-image:linear-gradient(180deg,transparent 136.0px,#000 144.0px)"></div><div class="L" style="background:linear-gradient(90deg,#00ff8a 0.5px,#00ffea 32.5px,#00faff 43.5px,#00c5ff 75.5px,#00afff 107.5px,#00b8ff 139.5px,#00e1ff 171.5px,#00fffc 187.5px,#00ffa4 219.5px,#00ff2c 251.5px,#00ff00 261.5px,#34ff00 272.5px);-webkit-mask-image:linear-gradient(180deg,transparent 144.0px,#000 152.0px);mask-image:linear-gradient(180deg,transparent 144.0px,#000 152.0px)"></div><div class="L" style="background:linear-gradient(90deg,#00ff9c 0.5px,#00fffa 32.5px,#00ebff 43.5px,#00b7ff 75.5px,#00a3ff 107.5px,#00aeff 139.5px,#00d9ff 171.5px,#00fffd 190.5px,#00ffa0 222.5px,#00ff23 254.5px,#01ff00 262.5px,#31ff00 272.5px);-webkit-mask-image:linear-gradient(180deg,transparent 152.0px,#000 160.0px);mask-image:linear-gradient(180deg,transparent 152.0px,#000 160.0px)"></div><div class="L" style="background:linear-gradient(90deg,#00ffad 0.5px,#00feff 28.5px,#00bdff 60.5px,#009cff 92.5px,#009aff 124.5px,#00b8ff 156.5px,#00f5ff 188.5px,#00fffa 194.5px,#00ff97 226.5px,#00ff15 258.5px,#03ff00 263.5px,#2eff00 272.5px);-webkit-mask-image:linear-gradient(180deg,transparent 160.0px,#000 168.0px);mask-image:linear-gradient(180deg,transparent 160.0px,#000 168.0px)"></div><div class="L" style="background:linear-gradient(90deg,#00ffbf 0.5px,#00fdff 22.5px,#00b8ff 54.5px,#0092ff 86.5px,#008cff 118.5px,#00a6ff 150.5px,#00dfff 182.5px,#00fffc 196.5px,#00ff95 228.5px,#00ff0f 260.5px,#04ff00 264.5px,#2bff00 272.5px);-webkit-mask-image:linear-gradient(180deg,transparent 168.0px,#000 176.0px);mask-image:linear-gradient(180deg,transparent 168.0px,#000 176.0px)"></div><div class="L" style="background:linear-gradient(90deg,#00ffd1 0.5px,#00fdff 16.5px,#00b4ff 48.5px,#008aff 80.5px,#0080ff 112.5px,#0095ff 144.5px,#00caff 176.5px,#00fffd 198.5px,#00ff93 230.5px,#00ff09 262.5px,#06ff00 265.5px,#29ff00 272.5px);-webkit-mask-image:linear-gradient(180deg,transparent 176.0px,#000 184.0px);mask-image:linear-gradient(180deg,transparent 176.0px,#000 184.0px)"></div><div class="L" style="background:linear-gradient(90deg,#00ffe2 0.5px,#00fdff 10.5px,#00b0ff 42.5px,#0082ff 74.5px,#0073ff 106.5px,#0084ff 138.5px,#00b5ff 170.5px,#00fffb 201.5px,#00ff8c 233.5px,#02ff00 265.5px,#26ff00 272.5px);-webkit-mask-image:linear-gradient(180deg,transparent 184.0px,#000 192.0px);mask-image:linear-gradient(180deg,transparent 184.0px,#000 192.0px)"></div><div class="L" style="background:linear-gradient(90deg,#00fff4 0.5px,#00f8ff 6.5px,#00a8ff 38.5px,#0078ff 70.5px,#0067ff 102.5px,#0076ff 134.5px,#00a5ff 166.5px,#00f3ff 198.5px,#00fffc 203.5px,#00ff89 235.5px,#04ff00 266.5px,#23ff00 272.5px);-webkit-mask-image:linear-gradient(180deg,transparent 192.0px,#000 200.0px);mask-image:linear-gradient(180deg,transparent 192.0px,#000 200.0px)"></div><div class="L" style="background:linear-gradient(90deg,#00f9ff 0.5px,#00a5ff 32.5px,#0070ff 64.5px,#005bff 96.5px,#0066ff 128.5px,#0091ff 160.5px,#00dbff 192.5px,#00fffc 205.5px,#00ff86 237.5px,#01ff00 266.5px,#20ff00 272.5px);-webkit-mask-image:linear-gradient(180deg,transparent 200.0px,#000 208.0px);mask-image:linear-gradient(180deg,transparent 200.0px,#000 208.0px)"></div><div class="L" style="background:linear-gradient(90deg,#00e7ff 0.5px,#0095ff 32.5px,#0062ff 64.5px,#004fff 96.5px,#005cff 128.5px,#0088ff 160.5px,#00d4ff 192.5px,#00fffc 207.5px,#00ff82 239.5px,#03ff00 267.5px,#1dff00 272.5px);-webkit-mask-image:linear-gradient(180deg,transparent 208.0px,#000 216.0px);mask-image:linear-gradient(180deg,transparent 208.0px,#000 216.0px)"></div><div class="L" style="background:linear-gradient(90deg,#00d5ff 0.5px,#0085ff 32.5px,#0054ff 64.5px,#0043ff 96.5px,#0051ff 128.5px,#007fff 160.5px,#00ccff 192.5px,#00fffc 209.5px,#00ff7e 241.5px,#00ff00 267.5px,#1aff00 272.5px);-webkit-mask-image:linear-gradient(180deg,transparent 216.0px,#000 224.0px);mask-image:linear-gradient(180deg,transparent 216.0px,#000 224.0px)"></div><div class="L" style="background:linear-gradient(90deg,#00c4ff 0.5px,#0075ff 32.5px,#0046ff 64.5px,#0036ff 96.5px,#0046ff 128.5px,#0076ff 160.5px,#00c5ff 192.5px,#00fffb 211.5px,#00ff79 243.5px,#02ff00 268.5px,#17ff00 272.5px);-webkit-mask-image:linear-gradient(180deg,transparent 224.0px,#000 232.0px);mask-image:linear-gradient(180deg,transparent 224.0px,#000 232.0px)"></div><div class="L" style="background:linear-gradient(90deg,#00b2ff 0.5px,#0065ff 32.5px,#0038ff 64.5px,#002aff 96.5px,#003cff 128.5px,#006dff 160.5px,#00beff 192.5px,#00fffd 212.5px,#00ff79 244.5px,#00ff01 268.5px,#15ff00 272.5px);-webkit-mask-image:linear-gradient(180deg,transparent 232.0px,#000 240.0px);mask-image:linear-gradient(180deg,transparent 232.0px,#000 240.0px)"></div><div class="L" style="background:linear-gradient(90deg,#00a1ff 0.5px,#0055ff 32.5px,#002aff 64.5px,#001eff 96.5px,#0031ff 128.5px,#0064ff 160.5px,#00b7ff 192.5px,#00fffc 214.5px,#00ff74 246.5px,#01ff00 269.5px,#12ff00 272.5px);-webkit-mask-image:linear-gradient(180deg,transparent 240.0px,#000 248.0px);mask-image:linear-gradient(180deg,transparent 240.0px,#000 248.0px)"></div><div class="L" style="background:linear-gradient(90deg,#008fff 0.5px,#0046ff 32.5px,#001cff 64.5px,#0011ff 96.5px,#0027ff 128.5px,#005bff 160.5px,#00b0ff 192.5px,#00fffe 215.5px,#00ff73 247.5px,#04ff00 270.5px,#0fff00 272.5px);-webkit-mask-image:linear-gradient(180deg,transparent 248.0px,#000 256.0px);mask-image:linear-gradient(180deg,transparent 248.0px,#000 256.0px)"></div><div class="L" style="background:linear-gradient(90deg,#007eff 0.5px,#0036ff 32.5px,#000eff 64.5px,#0005ff 96.5px,#001cff 128.5px,#0053ff 160.5px,#00a9ff 192.5px,#00fffc 217.5px,#00ff6e 249.5px,#01ff00 270.5px,#0cff00 272.5px);-webkit-mask-image:linear-gradient(180deg,transparent 256.0px,#000 264.0px);mask-image:linear-gradient(180deg,transparent 256.0px,#000 264.0px)"></div><div class="L" style="background:linear-gradient(90deg,#006cff 0.5px,#0026ff 32.5px,#0000ff 63.5px,#0004ff 116.5px,#0031ff 148.5px,#007dff 180.5px,#00e9ff 212.5px,#00fffa 219.5px,#00ff68 251.5px,#04ff00 271.5px,#09ff00 272.5px);-webkit-mask-image:linear-gradient(180deg,transparent 264.0px,#000 272.0px);mask-image:linear-gradient(180deg,transparent 264.0px,#000 272.0px)"></div><div class="L" style="background:linear-gradient(90deg,#006bff 0.5px,#0025ff 32.5px,#0000ff 62.5px,#0004ff 116.5px,#0030ff 148.5px,#007cff 180.5px,#00e8ff 212.5px,#00fffa 219.5px,#00ff68 251.5px,#04ff00 271.5px,#09ff00 272.5px);-webkit-mask-image:linear-gradient(180deg,transparent 272.0px,#000 272.6px);mask-image:linear-gradient(180deg,transparent 272.0px,#000 272.6px)"></div></div><div class="F" style="left:402.80px;top:339.30px;width:272.60px;height:272.80px"><div class="L" style="background:linear-gradient(90deg,#00b3ff 0.5px,#00c8ff 45.5px,#00fcff 90.5px,#00ffc8 123.5px,#00ff5d 168.5px,#02ff00 200.5px,#a3ff00 245.5px,#fffd00 268.5px,#ffec00 272.5px)"></div><div class="L" style="background:linear-gradient(90deg,#00aeff 0.5px,#00c1ff 45.5px,#00f3ff 90.5px,#00fffa 101.5px,#00ffa1 146.5px,#00ff28 191.5px,#04ff00 205.5px,#a6ff00 250.5px,#fffd00 272.5px);-webkit-mask-image:linear-gradient(180deg,transparent 0.0px,#000 8.0px);mask-image:linear-gradient(180deg,transparent 0.0px,#000 8.0px)"></div><div class="L" style="background:linear-gradient(90deg,#00a9ff 0.5px,#00baff 45.5px,#00eaff 90.5px,#00fffc 106.5px,#00ffa1 151.5px,#00ff27 196.5px,#02ff00 209.5px,#a5ff00 254.5px,#efff00 272.5px);-webkit-mask-image:linear-gradient(180deg,transparent 8.0px,#000 16.0px);mask-image:linear-gradient(180deg,transparent 8.0px,#000 16.0px)"></div><div class="L" style="background:linear-gradient(90deg,#00a4ff 0.5px,#00b2ff 45.5px,#00e0ff 90.5px,#00fffc 112.5px,#00ff9f 157.5px,#00ff22 202.5px,#04ff00 214.5px,#a8ff00 259.5px,#ddff00 272.5px);-webkit-mask-image:linear-gradient(180deg,transparent 16.0px,#000 24.0px);mask-image:linear-gradient(180deg,transparent 16.0px,#000 24.0px)"></div><div class="L" style="background:linear-gradient(90deg,#009fff 0.5px,#00abff 45.5px,#00d7ff 90.5px,#00fffc 118.5px,#00ff9d 163.5px,#00ff1e 208.5px,#02ff00 218.5px,#a7ff00 263.5px,#ccff00 272.5px);-webkit-mask-image:linear-gradient(180deg,transparent 24.0px,#000 32.0px);mask-image:linear-gradient(180deg,transparent 24.0px,#000 32.0px)"></div><div class="L" style="background:linear-gradient(90deg,#009aff 0.5px,#00a4ff 45.5px,#00ceff 90.5px,#00fffb 124.5px,#00ff9a 169.5px,#00ff1a 214.5px,#04ff00 223.5px,#aaff00 268.5px,#baff00 272.5px);-webkit-mask-image:linear-gradient(180deg,transparent 32.0px,#000 40.0px);mask-image:linear-gradient(180deg,transparent 32.0px,#000 40.0px)"></div><div class="L" style="background:linear-gradient(90deg,#0095ff 0.5px,#009dff 45.5px,#00c5ff 90.5px,#00fffb 130.5px,#00ff98 175.5px,#00ff16 220.5px,#05ff00 228.5px,#a9ff00 272.5px);-webkit-mask-image:linear-gradient(180deg,transparent 40.0px,#000 48.0px);mask-image:linear-gradient(180deg,transparent 40.0px,#000 48.0px)"></div><div class="L" style="background:linear-gradient(90deg,#008fff 0.5px,#0096ff 45.5px,#00bcff 90.5px,#00fffb 136.5px,#00ff96 181.5px,#00ff11 226.5px,#03ff00 232.5px,#97ff00 272.5px);-webkit-mask-image:linear-gradient(180deg,transparent 48.0px,#000 56.0px);mask-image:linear-gradient(180deg,transparent 48.0px,#000 56.0px)"></div><div class="L" style="background:linear-gradient(90deg,#008aff 0.5px,#008fff 45.5px,#00b2ff 90.5px,#00f5ff 135.5px,#00fff9 143.5px,#00ff91 188.5px,#00ff0a 233.5px,#07ff00 238.5px,#85ff00 272.5px);-webkit-mask-image:linear-gradient(180deg,transparent 56.0px,#000 64.0px);mask-image:linear-gradient(180deg,transparent 56.0px,#000 64.0px)"></div><div class="L" style="background:linear-gradient(90deg,#0085ff 0.5px,#0087ff 45.5px,#00a9ff 90.5px,#00eaff 135.5px,#00fffb 148.5px,#00ff92 193.5px,#00ff09 238.5px,#09ff00 243.5px,#74ff00 272.5px);-webkit-mask-image:linear-gradient(180deg,transparent 64.0px,#000 72.0px);mask-image:linear-gradient(180deg,transparent 64.0px,#000 72.0px)"></div><div class="L" style="background:linear-gradient(90deg,#0080ff 0.5px,#0080ff 45.5px,#00a0ff 90.5px,#00dfff 135.5px,#00fffb 154.5px,#00ff90 199.5px,#00ff04 244.5px,#2dff00 258.5px,#62ff00 272.5px);-webkit-mask-image:linear-gradient(180deg,transparent 72.0px,#000 80.0px);mask-image:linear-gradient(180deg,transparent 72.0px,#000 80.0px)"></div><div class="L" style="background:linear-gradient(90deg,#007bff 0.5px,#0079ff 45.5px,#0096ff 90.5px,#00d3ff 135.5px,#00fffb 160.5px,#00ff8d 205.5px,#03ff00 251.5px,#50ff00 272.5px);-webkit-mask-image:linear-gradient(180deg,transparent 80.0px,#000 88.0px);mask-image:linear-gradient(180deg,transparent 80.0px,#000 88.0px)"></div><div class="L" style="background:linear-gradient(90deg,#0076ff 0.5px,#0072ff 45.5px,#008dff 90.5px,#00c8ff 135.5px,#00fffb 166.5px,#00ff8b 211.5px,#04ff00 256.5px,#3fff00 272.5px);-webkit-mask-image:linear-gradient(180deg,transparent 88.0px,#000 96.0px);mask-image:linear-gradient(180deg,transparent 88.0px,#000 96.0px)"></div><div class="L" style="background:linear-gradient(90deg,#0071ff 0.5px,#006aff 45.5px,#0084ff 90.5px,#00bdff 135.5px,#00fffb 172.5px,#00ff89 217.5px,#01ff00 260.5px,#2dff00 272.5px);-webkit-mask-image:linear-gradient(180deg,transparent 96.0px,#000 104.0px);mask-image:linear-gradient(180deg,transparent 96.0px,#000 104.0px)"></div><div class="L" style="background:linear-gradient(90deg,#006bff 0.5px,#0063ff 45.5px,#007aff 90.5px,#00b1ff 135.5px,#00fffb 178.5px,#00ff87 223.5px,#02ff00 265.5px,#1bff00 272.5px);-webkit-mask-image:linear-gradient(180deg,transparent 104.0px,#000 112.0px);mask-image:linear-gradient(180deg,transparent 104.0px,#000 112.0px)"></div><div class="L" style="background:linear-gradient(90deg,#0066ff 0.5px,#005cff 45.5px,#0071ff 90.5px,#00a6ff 135.5px,#00faff 180.5px,#00ffeb 191.5px,#00ff70 236.5px,#02ff00 270.5px,#0aff00 272.5px);-webkit-mask-image:linear-gradient(180deg,transparent 112.0px,#000 120.0px);mask-image:linear-gradient(180deg,transparent 112.0px,#000 120.0px)"></div><div class="L" style="background:linear-gradient(90deg,#0061ff 0.5px,#0055ff 45.5px,#0068ff 90.5px,#009aff 135.5px,#00ecff 180.5px,#00fffb 190.5px,#00ff83 235.5px,#00ff08 272.5px);-webkit-mask-image:linear-gradient(180deg,transparent 120.0px,#000 128.0px);mask-image:linear-gradient(180deg,transparent 120.0px,#000 128.0px)"></div><div class="L" style="background:linear-gradient(90deg,#005cff 0.5px,#004dff 45.5px,#005eff 90.5px,#008fff 135.5px,#00dfff 180.5px,#00fffb 196.5px,#00ff81 241.5px,#00ff1a 272.5px);-webkit-mask-image:linear-gradient(180deg,transparent 128.0px,#000 136.0px);mask-image:linear-gradient(180deg,transparent 128.0px,#000 136.0px)"></div><div class="L" style="background:linear-gradient(90deg,#0056ff 0.5px,#0046ff 45.5px,#0055ff 90.5px,#0083ff 135.5px,#00d1ff 180.5px,#00fffb 202.5px,#00ff7f 247.5px,#00ff2c 272.5px);-webkit-mask-image:linear-gradient(180deg,transparent 136.0px,#000 144.0px);mask-image:linear-gradient(180deg,transparent 136.0px,#000 144.0px)"></div><div class="L" style="background:linear-gradient(90deg,#0051ff 0.5px,#003fff 45.5px,#004cff 90.5px,#0078ff 135.5px,#00c4ff 180.5px,#00fffb 208.5px,#00ff7d 253.5px,#00ff3e 272.5px);-webkit-mask-image:linear-gradient(180deg,transparent 144.0px,#000 152.0px);mask-image:linear-gradient(180deg,transparent 144.0px,#000 152.0px)"></div><div class="L" style="background:linear-gradient(90deg,#004cff 0.5px,#0037ff 45.5px,#0042ff 90.5px,#006cff 135.5px,#00b6ff 180.5px,#00fffb 214.5px,#00ff7a 259.5px,#00ff4f 272.5px);-webkit-mask-image:linear-gradient(180deg,transparent 152.0px,#000 160.0px);mask-image:linear-gradient(180deg,transparent 152.0px,#000 160.0px)"></div><div class="L" style="background:linear-gradient(90deg,#0047ff 0.5px,#0030ff 45.5px,#0039ff 90.5px,#0061ff 135.5px,#00a8ff 180.5px,#00fffb 220.5px,#00ff78 265.5px,#00ff61 272.5px);-webkit-mask-image:linear-gradient(180deg,transparent 160.0px,#000 168.0px);mask-image:linear-gradient(180deg,transparent 160.0px,#000 168.0px)"></div><div class="L" style="background:linear-gradient(90deg,#0041ff 0.5px,#0028ff 45.5px,#002fff 90.5px,#0055ff 135.5px,#009bff 180.5px,#00fffc 226.5px,#00ff76 271.5px,#00ff73 272.5px);-webkit-mask-image:linear-gradient(180deg,transparent 168.0px,#000 176.0px);mask-image:linear-gradient(180deg,transparent 168.0px,#000 176.0px)"></div><div class="L" style="background:linear-gradient(90deg,#003cff 0.5px,#0021ff 45.5px,#0026ff 90.5px,#004aff 135.5px,#008dff 180.5px,#00f0ff 225.5px,#00fff9 233.5px,#00ff85 272.5px);-webkit-mask-image:linear-gradient(180deg,transparent 176.0px,#000 184.0px);mask-image:linear-gradient(180deg,transparent 176.0px,#000 184.0px)"></div><div class="L" style="background:linear-gradient(90deg,#0037ff 0.5px,#001aff 45.5px,#001cff 90.5px,#003eff 135.5px,#0080ff 180.5px,#00e0ff 225.5px,#00fffc 238.5px,#00ff97 272.5px);-webkit-mask-image:linear-gradient(180deg,transparent 184.0px,#000 192.0px);mask-image:linear-gradient(180deg,transparent 184.0px,#000 192.0px)"></div><div class="L" style="background:linear-gradient(90deg,#0031ff 0.5px,#0012ff 45.5px,#0013ff 90.5px,#0033ff 135.5px,#0072ff 180.5px,#00d1ff 225.5px,#00fffc 244.5px,#00ffa9 272.5px);-webkit-mask-image:linear-gradient(180deg,transparent 192.0px,#000 200.0px);mask-image:linear-gradient(180deg,transparent 192.0px,#000 200.0px)"></div><div class="L" style="background:linear-gradient(90deg,#002cff 0.5px,#000bff 45.5px,#0009ff 90.5px,#0027ff 135.5px,#0064ff 180.5px,#00c1ff 225.5px,#00fffc 250.5px,#00ffbb 272.5px);-webkit-mask-image:linear-gradient(180deg,transparent 200.0px,#000 208.0px);mask-image:linear-gradient(180deg,transparent 200.0px,#000 208.0px)"></div><div class="L" style="background:linear-gradient(90deg,#0026ff 0.5px,#0003ff 45.5px,#0004ff 102.5px,#0028ff 147.5px,#006cff 192.5px,#00cfff 237.5px,#00fffc 256.5px,#00ffcc 272.5px);-webkit-mask-image:linear-gradient(180deg,transparent 208.0px,#000 216.0px);mask-image:linear-gradient(180deg,transparent 208.0px,#000 216.0px)"></div><div class="L" style="background:linear-gradient(90deg,#0021ff 0.5px,#0000ff 40.5px,#0004ff 120.5px,#0032ff 165.5px,#0080ff 210.5px,#00eeff 255.5px,#00fffc 262.5px,#00ffde 272.5px);-webkit-mask-image:linear-gradient(180deg,transparent 216.0px,#000 224.0px);mask-image:linear-gradient(180deg,transparent 216.0px,#000 224.0px)"></div><div class="L" style="background:linear-gradient(90deg,#001cff 0.5px,#0000ff 31.5px,#0004ff 135.5px,#003bff 180.5px,#0092ff 225.5px,#00fffc 268.5px,#00fff0 272.5px);-webkit-mask-image:linear-gradient(180deg,transparent 224.0px,#000 232.0px);mask-image:linear-gradient(180deg,transparent 224.0px,#000 232.0px)"></div><div class="L" style="background:linear-gradient(90deg,#0016ff 0.5px,#0000ff 24.5px,#0004ff 147.5px,#0041ff 192.5px,#009eff 237.5px,#00fcff 272.5px);-webkit-mask-image:linear-gradient(180deg,transparent 232.0px,#000 240.0px);mask-image:linear-gradient(180deg,transparent 232.0px,#000 240.0px)"></div><div class="L" style="background:linear-gradient(90deg,#0011ff 0.5px,#0000ff 18.5px,#0004ff 159.5px,#0048ff 204.5px,#00abff 249.5px,#00eaff 272.5px);-webkit-mask-image:linear-gradient(180deg,transparent 240.0px,#000 248.0px);mask-image:linear-gradient(180deg,transparent 240.0px,#000 248.0px)"></div><div class="L" style="background:linear-gradient(90deg,#000bff 0.5px,#0000ff 13.5px,#0003ff 169.5px,#004cff 214.5px,#00b4ff 259.5px,#00d8ff 272.5px);-webkit-mask-image:linear-gradient(180deg,transparent 248.0px,#000 256.0px);mask-image:linear-gradient(180deg,transparent 248.0px,#000 256.0px)"></div><div class="L" style="background:linear-gradient(90deg,#0006ff 0.5px,#0000ff 15.5px,#0003ff 179.5px,#0050ff 224.5px,#00bdff 269.5px,#00c6ff 272.5px);-webkit-mask-image:linear-gradient(180deg,transparent 256.0px,#000 264.0px);mask-image:linear-gradient(180deg,transparent 256.0px,#000 264.0px)"></div><div class="L" style="background:linear-gradient(90deg,#0000ff 0.5px,#0003ff 189.5px,#0056ff 234.5px,#00b4ff 272.5px);-webkit-mask-image:linear-gradient(180deg,transparent 264.0px,#000 272.0px);mask-image:linear-gradient(180deg,transparent 264.0px,#000 272.0px)"></div><div class="L" style="background:linear-gradient(90deg,#0000ff 0.5px,#0003ff 190.5px,#0056ff 235.5px,#00b2ff 272.5px);-webkit-mask-image:linear-gradient(180deg,transparent 272.0px,#000 272.8px);mask-image:linear-gradient(180deg,transparent 272.0px,#000 272.8px)"></div></div><div class="F" style="left:49.80px;top:668.50px;width:272.50px;height:272.20px"><div class="L" style="background:linear-gradient(90deg,#39ff00 0.5px,#d0ff00 32.5px,#fffd00 44.5px,#ff9100 76.5px,#ff4300 108.5px,#ff1500 140.5px,#ff0600 172.5px,#ff1600 204.5px,#ff4500 236.5px,#ff9300 268.5px,#ff9f00 272.5px)"></div><div class="L" style="background:linear-gradient(90deg,#2bff00 0.5px,#c4ff00 32.5px,#fffd00 47.5px,#ff9100 79.5px,#ff4500 111.5px,#ff1700 143.5px,#ff0900 175.5px,#ff1900 207.5px,#ff4900 239.5px,#ff9800 271.5px,#ff9b00 272.5px);-webkit-mask-image:linear-gradient(180deg,transparent 0.0px,#000 8.0px);mask-image:linear-gradient(180deg,transparent 0.0px,#000 8.0px)"></div><div class="L" style="background:linear-gradient(90deg,#1cff00 0.5px,#b8ff00 32.5px,#fffd00 50.5px,#ff9200 82.5px,#ff4600 114.5px,#ff1900 146.5px,#ff0b00 178.5px,#ff1c00 210.5px,#ff4d00 242.5px,#ff9600 272.5px);-webkit-mask-image:linear-gradient(180deg,transparent 8.0px,#000 16.0px);mask-image:linear-gradient(180deg,transparent 8.0px,#000 16.0px)"></div><div class="L" style="background:linear-gradient(90deg,#0dff00 0.5px,#abff00 32.5px,#fffc00 53.5px,#ff9200 85.5px,#ff4700 117.5px,#ff1a00 149.5px,#ff0d00 181.5px,#ff1f00 213.5px,#ff5000 245.5px,#ff9200 272.5px);-webkit-mask-image:linear-gradient(180deg,transparent 16.0px,#000 24.0px);mask-image:linear-gradient(180deg,transparent 16.0px,#000 24.0px)"></div><div class="L" style="background:linear-gradient(90deg,#00ff01 0.5px,#acff00 35.5px,#fffc00 56.5px,#ff9200 88.5px,#ff4700 120.5px,#ff1c00 152.5px,#ff0f00 184.5px,#ff2200 216.5px,#ff5400 248.5px,#ff8d00 272.5px);-webkit-mask-image:linear-gradient(180deg,transparent 24.0px,#000 32.0px);mask-image:linear-gradient(180deg,transparent 24.0px,#000 32.0px)"></div><div class="L" style="background:linear-gradient(90deg,#00ff10 0.5px,#00ff00 3.5px,#a0ff00 35.5px,#ffff00 58.5px,#ff9500 90.5px,#ff4a00 122.5px,#ff1e00 154.5px,#ff1100 186.5px,#ff2300 218.5px,#ff5500 250.5px,#ff8900 272.5px);-webkit-mask-image:linear-gradient(180deg,transparent 32.0px,#000 40.0px);mask-image:linear-gradient(180deg,transparent 32.0px,#000 40.0px)"></div><div class="L" style="background:linear-gradient(90deg,#00ff1f 0.5px,#02ff00 6.5px,#a1ff00 38.5px,#fffe00 61.5px,#ff9500 93.5px,#ff4a00 125.5px,#ff1f00 157.5px,#ff1300 189.5px,#ff2600 221.5px,#ff5800 253.5px,#ff8400 272.5px);-webkit-mask-image:linear-gradient(180deg,transparent 40.0px,#000 48.0px);mask-image:linear-gradient(180deg,transparent 40.0px,#000 48.0px)"></div><div class="L" style="background:linear-gradient(90deg,#00ff2e 0.5px,#00ff01 8.5px,#a7ff00 42.5px,#fffd00 64.5px,#ff9400 96.5px,#ff4b00 128.5px,#ff2000 160.5px,#ff1500 192.5px,#ff2800 224.5px,#ff5b00 256.5px,#ff8000 272.5px);-webkit-mask-image:linear-gradient(180deg,transparent 48.0px,#000 56.0px);mask-image:linear-gradient(180deg,transparent 48.0px,#000 56.0px)"></div><div class="L" style="background:linear-gradient(90deg,#00ff3c 0.5px,#01ff00 11.5px,#a0ff00 43.5px,#feff00 66.5px,#ff9400 99.5px,#ff4b00 131.5px,#ff2100 163.5px,#ff1600 195.5px,#ff2a00 227.5px,#ff5e00 259.5px,#ff7c00 272.5px);-webkit-mask-image:linear-gradient(180deg,transparent 56.0px,#000 64.0px);mask-image:linear-gradient(180deg,transparent 56.0px,#000 64.0px)"></div><div class="L" style="background:linear-gradient(90deg,#00ff4b 0.5px,#04ff00 14.5px,#a2ff00 46.5px,#fffe00 69.5px,#ff9600 101.5px,#ff4d00 133.5px,#ff2200 165.5px,#ff1700 197.5px,#ff2b00 229.5px,#ff5e00 261.5px,#ff7700 272.5px);-webkit-mask-image:linear-gradient(180deg,transparent 64.0px,#000 72.0px);mask-image:linear-gradient(180deg,transparent 64.0px,#000 72.0px)"></div><div class="L" style="background:linear-gradient(90deg,#00ff5a 0.5px,#01ff00 16.5px,#9fff00 48.5px,#fffd00 72.5px,#ff9500 104.5px,#ff4d00 136.5px,#ff2300 168.5px,#ff1900 200.5px,#ff2d00 232.5px,#ff6100 264.5px,#ff7300 272.5px);-webkit-mask-image:linear-gradient(180deg,transparent 72.0px,#000 80.0px);mask-image:linear-gradient(180deg,transparent 72.0px,#000 80.0px)"></div><div class="L" style="background:linear-gradient(90deg,#00ff69 0.5px,#04ff00 19.5px,#a1ff00 51.5px,#ffff00 74.5px,#ff9700 106.5px,#ff4e00 138.5px,#ff2400 170.5px,#ff1a00 202.5px,#ff2e00 234.5px,#ff6100 266.5px,#ff6e00 272.5px);-webkit-mask-image:linear-gradient(180deg,transparent 80.0px,#000 88.0px);mask-image:linear-gradient(180deg,transparent 80.0px,#000 88.0px)"></div><div class="L" style="background:linear-gradient(90deg,#00ff77 0.5px,#01ff00 21.5px,#9fff00 53.5px,#fffd00 77.5px,#ff9600 109.5px,#ff4e00 141.5px,#ff2500 173.5px,#ff1a00 205.5px,#ff2f00 237.5px,#ff6400 269.5px,#ff6a00 272.5px);-webkit-mask-image:linear-gradient(180deg,transparent 88.0px,#000 96.0px);mask-image:linear-gradient(180deg,transparent 88.0px,#000 96.0px)"></div><div class="L" style="background:linear-gradient(90deg,#00ff86 0.5px,#00ff01 23.5px,#aaff00 58.5px,#fffc00 80.5px,#ff9500 112.5px,#ff4d00 144.5px,#ff2500 176.5px,#ff1b00 208.5px,#ff3100 240.5px,#ff6600 272.5px);-webkit-mask-image:linear-gradient(180deg,transparent 96.0px,#000 104.0px);mask-image:linear-gradient(180deg,transparent 96.0px,#000 104.0px)"></div><div class="L" style="background:linear-gradient(90deg,#00ff95 0.5px,#02ff00 26.5px,#9fff00 58.5px,#fffd00 82.5px,#ff9600 114.5px,#ff4e00 146.5px,#ff2600 178.5px,#ff1c00 210.5px,#ff3100 242.5px,#ff6100 272.5px);-webkit-mask-image:linear-gradient(180deg,transparent 104.0px,#000 112.0px);mask-image:linear-gradient(180deg,transparent 104.0px,#000 112.0px)"></div><div class="L" style="background:linear-gradient(90deg,#00ffa4 0.5px,#00ff00 28.5px,#a2ff00 61.5px,#ffff00 84.5px,#ff9800 116.5px,#ff4f00 148.5px,#ff2600 180.5px,#ff1c00 212.5px,#ff3100 244.5px,#ff5d00 272.5px);-webkit-mask-image:linear-gradient(180deg,transparent 112.0px,#000 120.0px);mask-image:linear-gradient(180deg,transparent 112.0px,#000 120.0px)"></div><div class="L" style="background:linear-gradient(90deg,#00ffb3 0.5px,#00ff02 30.5px,#adff00 66.5px,#fffd00 87.5px,#ff9600 119.5px,#ff4e00 151.5px,#ff2600 183.5px,#ff1c00 215.5px,#ff3200 247.5px,#ff5900 272.5px);-webkit-mask-image:linear-gradient(180deg,transparent 120.0px,#000 128.0px);mask-image:linear-gradient(180deg,transparent 120.0px,#000 128.0px)"></div><div class="L" style="background:linear-gradient(90deg,#00ffc2 0.5px,#00ff04 32.5px,#4aff00 47.5px,#daff00 79.5px,#fffe00 89.5px,#ff9700 121.5px,#ff4f00 153.5px,#ff2600 185.5px,#ff1d00 217.5px,#ff3200 249.5px,#ff5400 272.5px);-webkit-mask-image:linear-gradient(180deg,transparent 128.0px,#000 136.0px);mask-image:linear-gradient(180deg,transparent 128.0px,#000 136.0px)"></div><div class="L" style="background:linear-gradient(90deg,#00ffd1 0.5px,#00ff11 32.5px,#05ff00 36.5px,#a2ff00 68.5px,#ffff00 91.5px,#ff9800 123.5px,#ff5000 155.5px,#ff2600 187.5px,#ff1c00 219.5px,#ff3100 251.5px,#ff5000 272.5px);-webkit-mask-image:linear-gradient(180deg,transparent 136.0px,#000 144.0px);mask-image:linear-gradient(180deg,transparent 136.0px,#000 144.0px)"></div><div class="L" style="background:linear-gradient(90deg,#00ffe0 0.5px,#00ff1e 32.5px,#03ff00 38.5px,#a0ff00 70.5px,#fffc00 94.5px,#ff9600 126.5px,#ff4e00 158.5px,#ff2600 190.5px,#ff1c00 222.5px,#ff3200 254.5px,#ff4c00 272.5px);-webkit-mask-image:linear-gradient(180deg,transparent 144.0px,#000 152.0px);mask-image:linear-gradient(180deg,transparent 144.0px,#000 152.0px)"></div><div class="L" style="background:linear-gradient(90deg,#00ffee 0.5px,#00ff2a 32.5px,#02ff00 40.5px,#9fff00 72.5px,#fffd00 96.5px,#ff9600 128.5px,#ff4e00 160.5px,#ff2600 192.5px,#ff1c00 224.5px,#ff3100 256.5px,#ff4800 272.5px);-webkit-mask-image:linear-gradient(180deg,transparent 152.0px,#000 160.0px);mask-image:linear-gradient(180deg,transparent 152.0px,#000 160.0px)"></div><div class="L" style="background:linear-gradient(90deg,#00fffd 0.5px,#00ff37 32.5px,#01ff00 42.5px,#9eff00 74.5px,#fffe00 98.5px,#ff9700 130.5px,#ff4e00 162.5px,#ff2500 194.5px,#ff1b00 226.5px,#ff3000 258.5px,#ff4300 272.5px);-webkit-mask-image:linear-gradient(180deg,transparent 160.0px,#000 168.0px);mask-image:linear-gradient(180deg,transparent 160.0px,#000 168.0px)"></div><div class="L" style="background:linear-gradient(90deg,#00f2ff 0.5px,#00ffff 2.5px,#00ff38 34.5px,#00ff00 44.5px,#a2ff00 77.5px,#fffe00 100.5px,#ff9700 132.5px,#ff4e00 164.5px,#ff2500 196.5px,#ff1b00 228.5px,#ff2f00 260.5px,#ff3f00 272.5px);-webkit-mask-image:linear-gradient(180deg,transparent 168.0px,#000 176.0px);mask-image:linear-gradient(180deg,transparent 168.0px,#000 176.0px)"></div><div class="L" style="background:linear-gradient(90deg,#00e3ff 0.5px,#00feff 4.5px,#00ff2e 38.5px,#04ff00 47.5px,#a1ff00 79.5px,#ffff00 102.5px,#ff9700 134.5px,#ff4e00 166.5px,#ff2400 198.5px,#ff1a00 230.5px,#ff2e00 262.5px,#ff3b00 272.5px);-webkit-mask-image:linear-gradient(180deg,transparent 176.0px,#000 184.0px);mask-image:linear-gradient(180deg,transparent 176.0px,#000 184.0px)"></div><div class="L" style="background:linear-gradient(90deg,#00d4ff 0.5px,#00fffb 7.5px,#00ff34 39.5px,#03ff00 49.5px,#a1ff00 81.5px,#ffff00 104.5px,#ff9700 136.5px,#ff4e00 168.5px,#ff2400 200.5px,#ff1900 232.5px,#ff2d00 264.5px,#ff3700 272.5px);-webkit-mask-image:linear-gradient(180deg,transparent 184.0px,#000 192.0px);mask-image:linear-gradient(180deg,transparent 184.0px,#000 192.0px)"></div><div class="L" style="background:linear-gradient(90deg,#00c5ff 0.5px,#00fffc 9.5px,#00ff35 41.5px,#03ff00 51.5px,#a1ff00 83.5px,#ffff00 106.5px,#ff9700 138.5px,#ff4d00 170.5px,#ff2300 202.5px,#ff1800 234.5px,#ff2c00 266.5px,#ff3300 272.5px);-webkit-mask-image:linear-gradient(180deg,transparent 192.0px,#000 200.0px);mask-image:linear-gradient(180deg,transparent 192.0px,#000 200.0px)"></div><div class="L" style="background:linear-gradient(90deg,#00b6ff 0.5px,#00fffd 11.5px,#00ff36 43.5px,#02ff00 53.5px,#a0ff00 85.5px,#ffff00 108.5px,#ff9600 140.5px,#ff4d00 172.5px,#ff2200 204.5px,#ff1600 236.5px,#ff2a00 268.5px,#ff2f00 272.5px);-webkit-mask-image:linear-gradient(180deg,transparent 200.0px,#000 208.0px);mask-image:linear-gradient(180deg,transparent 200.0px,#000 208.0px)"></div><div class="L" style="background:linear-gradient(90deg,#00a7ff 0.5px,#00fffd 13.5px,#00ff36 45.5px,#02ff00 55.5px,#a0ff00 87.5px,#ffff00 110.5px,#ff9600 142.5px,#ff4c00 174.5px,#ff2100 206.5px,#ff1500 238.5px,#ff2800 270.5px,#ff2a00 272.5px);-webkit-mask-image:linear-gradient(180deg,transparent 208.0px,#000 216.0px);mask-image:linear-gradient(180deg,transparent 208.0px,#000 216.0px)"></div><div class="L" style="background:linear-gradient(90deg,#0098ff 0.5px,#00fffe 15.5px,#00ff36 47.5px,#02ff00 57.5px,#a0ff00 89.5px,#ffff00 112.5px,#ff9500 144.5px,#ff4b00 176.5px,#ff2000 208.5px,#ff1300 240.5px,#ff2600 272.5px);-webkit-mask-image:linear-gradient(180deg,transparent 216.0px,#000 224.0px);mask-image:linear-gradient(180deg,transparent 216.0px,#000 224.0px)"></div><div class="L" style="background:linear-gradient(90deg,#0089ff 0.5px,#00ffff 17.5px,#00ff37 49.5px,#02ff00 59.5px,#a1ff00 91.5px,#fffe00 114.5px,#ff9400 146.5px,#ff4a00 178.5px,#ff1e00 210.5px,#ff1200 242.5px,#ff2200 272.5px);-webkit-mask-image:linear-gradient(180deg,transparent 224.0px,#000 232.0px);mask-image:linear-gradient(180deg,transparent 224.0px,#000 232.0px)"></div><div class="L" style="background:linear-gradient(90deg,#007aff 0.5px,#00ffff 19.5px,#00ff37 51.5px,#02ff00 61.5px,#a1ff00 93.5px,#fffd00 116.5px,#ff9300 148.5px,#ff4800 180.5px,#ff1d00 212.5px,#ff1000 244.5px,#ff1e00 272.5px);-webkit-mask-image:linear-gradient(180deg,transparent 232.0px,#000 240.0px);mask-image:linear-gradient(180deg,transparent 232.0px,#000 240.0px)"></div><div class="L" style="background:linear-gradient(90deg,#006aff 0.5px,#00ffff 21.5px,#00ff36 53.5px,#02ff00 63.5px,#a2ff00 95.5px,#fffd00 118.5px,#ff9200 150.5px,#ff4700 182.5px,#ff1b00 214.5px,#ff0e00 246.5px,#ff1a00 272.5px);-webkit-mask-image:linear-gradient(180deg,transparent 240.0px,#000 248.0px);mask-image:linear-gradient(180deg,transparent 240.0px,#000 248.0px)"></div><div class="L" style="background:linear-gradient(90deg,#005bff 0.5px,#00ffff 23.5px,#00ff36 55.5px,#02ff00 65.5px,#a2ff00 97.5px,#fffc00 120.5px,#ff9100 152.5px,#ff4600 184.5px,#ff1900 216.5px,#ff0c00 248.5px,#ff1600 272.5px);-webkit-mask-image:linear-gradient(180deg,transparent 248.0px,#000 256.0px);mask-image:linear-gradient(180deg,transparent 248.0px,#000 256.0px)"></div><div class="L" style="background:linear-gradient(90deg,#004cff 0.5px,#00ffff 25.5px,#00ff36 57.5px,#03ff00 67.5px,#a3ff00 99.5px,#ffff00 121.5px,#ff9300 153.5px,#ff4600 185.5px,#ff1800 217.5px,#ff0900 249.5px,#ff1200 272.5px);-webkit-mask-image:linear-gradient(180deg,transparent 256.0px,#000 264.0px);mask-image:linear-gradient(180deg,transparent 256.0px,#000 264.0px)"></div><div class="L" style="background:linear-gradient(90deg,#003dff 0.5px,#00ffff 27.5px,#00ff35 59.5px,#03ff00 69.5px,#a4ff00 101.5px,#fffd00 123.5px,#ff9100 155.5px,#ff4400 187.5px,#ff1600 219.5px,#ff0700 251.5px,#ff0e00 272.5px);-webkit-mask-image:linear-gradient(180deg,transparent 264.0px,#000 272.0px);mask-image:linear-gradient(180deg,transparent 264.0px,#000 272.0px)"></div><div class="L" style="background:linear-gradient(90deg,#003dff 0.5px,#00ffff 27.5px,#00ff35 59.5px,#03ff00 69.5px,#a4ff00 101.5px,#fffe00 123.5px,#ff9100 155.5px,#ff4400 187.5px,#ff1600 219.5px,#ff0700 251.5px,#ff0e00 272.5px);-webkit-mask-image:linear-gradient(180deg,transparent 272.0px,#000 272.2px);mask-image:linear-gradient(180deg,transparent 272.0px,#000 272.2px)"></div></div><div class="F" style="left:402.60px;top:668.60px;width:272.20px;height:272.70px"><div class="L" style="background:linear-gradient(90deg,#00ff9e 0.5px,#00ff02 32.5px,#8aff00 68.5px,#eaff00 101.5px,#fffc00 112.5px,#ffc600 145.5px,#ffb100 178.5px,#ffbb00 211.5px,#ffe500 244.5px,#fcff00 259.5px,#ddff00 272.5px)"></div><div class="L" style="background:linear-gradient(90deg,#00ff9d 0.5px,#00ff04 31.5px,#95ff00 70.5px,#f4ff00 103.5px,#fffa00 110.5px,#ffc100 143.5px,#ffa800 176.5px,#ffaf00 209.5px,#ffd500 242.5px,#fcff00 265.5px,#ebff00 272.5px);-webkit-mask-image:linear-gradient(180deg,transparent 0.0px,#000 8.0px);mask-image:linear-gradient(180deg,transparent 0.0px,#000 8.0px)"></div><div class="L" style="background:linear-gradient(90deg,#00ff9c 0.5px,#00ff02 31.5px,#8fff00 67.5px,#f2ff00 100.5px,#fffb00 107.5px,#ffbe00 140.5px,#ffa000 173.5px,#ffa200 206.5px,#ffc400 239.5px,#fbff00 271.5px,#f9ff00 272.5px);-webkit-mask-image:linear-gradient(180deg,transparent 8.0px,#000 16.0px);mask-image:linear-gradient(180deg,transparent 8.0px,#000 16.0px)"></div><div class="L" style="background:linear-gradient(90deg,#00ff9c 0.5px,#00ff00 31.5px,#88ff00 64.5px,#efff00 97.5px,#fffa00 105.5px,#ffba00 138.5px,#ff9900 171.5px,#ff9700 204.5px,#ffb600 237.5px,#fff300 270.5px,#fff800 272.5px);-webkit-mask-image:linear-gradient(180deg,transparent 16.0px,#000 24.0px);mask-image:linear-gradient(180deg,transparent 16.0px,#000 24.0px)"></div><div class="L" style="background:linear-gradient(90deg,#00ff9c 0.5px,#00ff03 30.5px,#99ff00 68.5px,#ffff00 101.5px,#ffb800 135.5px,#ff9200 168.5px,#ff8d00 201.5px,#ffa600 234.5px,#ffe000 267.5px,#ffeb00 272.5px);-webkit-mask-image:linear-gradient(180deg,transparent 24.0px,#000 32.0px);mask-image:linear-gradient(180deg,transparent 24.0px,#000 32.0px)"></div><div class="L" style="background:linear-gradient(90deg,#00ff9d 0.5px,#00ff02 30.5px,#98ff00 67.5px,#feff00 99.5px,#ffb200 135.5px,#ff8b00 168.5px,#ff8300 201.5px,#ff9c00 234.5px,#ffd400 267.5px,#ffdf00 272.5px);-webkit-mask-image:linear-gradient(180deg,transparent 32.0px,#000 40.0px);mask-image:linear-gradient(180deg,transparent 32.0px,#000 40.0px)"></div><div class="L" style="background:linear-gradient(90deg,#00ff9d 0.5px,#00ff02 30.5px,#97ff00 66.5px,#ffff00 98.5px,#ffb300 131.5px,#ff8700 164.5px,#ff7a00 197.5px,#ff8d00 230.5px,#ffbf00 263.5px,#ffd300 272.5px);-webkit-mask-image:linear-gradient(180deg,transparent 40.0px,#000 48.0px);mask-image:linear-gradient(180deg,transparent 40.0px,#000 48.0px)"></div><div class="L" style="background:linear-gradient(90deg,#00ff9f 0.5px,#00ff01 30.5px,#95ff00 65.5px,#ffff00 97.5px,#ffb000 130.5px,#ff8100 163.5px,#ff7200 196.5px,#ff8200 229.5px,#ffb200 262.5px,#ffc700 272.5px);-webkit-mask-image:linear-gradient(180deg,transparent 48.0px,#000 56.0px);mask-image:linear-gradient(180deg,transparent 48.0px,#000 56.0px)"></div><div class="L" style="background:linear-gradient(90deg,#00ffa0 0.5px,#00ff01 30.5px,#97ff00 65.5px,#fffe00 96.5px,#ffad00 129.5px,#ff7c00 162.5px,#ff6a00 195.5px,#ff7800 228.5px,#ffa500 261.5px,#ffbb00 272.5px);-webkit-mask-image:linear-gradient(180deg,transparent 56.0px,#000 64.0px);mask-image:linear-gradient(180deg,transparent 56.0px,#000 64.0px)"></div><div class="L" style="background:linear-gradient(90deg,#00ffa2 0.5px,#00ff02 30.5px,#9cff00 66.5px,#ffff00 95.5px,#ffab00 128.5px,#ff7700 161.5px,#ff6300 194.5px,#ff6e00 227.5px,#ff9900 260.5px,#ffb000 272.5px);-webkit-mask-image:linear-gradient(180deg,transparent 64.0px,#000 72.0px);mask-image:linear-gradient(180deg,transparent 64.0px,#000 72.0px)"></div><div class="L" style="background:linear-gradient(90deg,#00ffa4 0.5px,#00ff03 30.5px,#a4ff00 68.5px,#feff00 94.5px,#ffa700 128.5px,#ff7200 161.5px,#ff5c00 194.5px,#ff6500 227.5px,#ff8f00 260.5px,#ffa500 272.5px);-webkit-mask-image:linear-gradient(180deg,transparent 72.0px,#000 80.0px);mask-image:linear-gradient(180deg,transparent 72.0px,#000 80.0px)"></div><div class="L" style="background:linear-gradient(90deg,#00ffa7 0.5px,#00ff04 30.5px,#a9ff00 69.5px,#fffe00 94.5px,#ffa600 127.5px,#ff6e00 160.5px,#ff5500 193.5px,#ff5c00 226.5px,#ff8300 259.5px,#ff9b00 272.5px);-webkit-mask-image:linear-gradient(180deg,transparent 80.0px,#000 88.0px);mask-image:linear-gradient(180deg,transparent 80.0px,#000 88.0px)"></div><div class="L" style="background:linear-gradient(90deg,#00ffaa 0.5px,#00ff00 31.5px,#95ff00 64.5px,#ffff00 93.5px,#ffa500 126.5px,#ff6a00 159.5px,#ff4f00 192.5px,#ff5400 225.5px,#ff7800 258.5px,#ff9100 272.5px);-webkit-mask-image:linear-gradient(180deg,transparent 88.0px,#000 96.0px);mask-image:linear-gradient(180deg,transparent 88.0px,#000 96.0px)"></div><div class="L" style="background:linear-gradient(90deg,#00ffad 0.5px,#00ff02 31.5px,#a1ff00 67.5px,#fffe00 93.5px,#ffa200 126.5px,#ff6600 159.5px,#ff4900 192.5px,#ff4c00 225.5px,#ff6f00 258.5px,#ff8700 272.5px);-webkit-mask-image:linear-gradient(180deg,transparent 96.0px,#000 104.0px);mask-image:linear-gradient(180deg,transparent 96.0px,#000 104.0px)"></div><div class="L" style="background:linear-gradient(90deg,#00ffb0 0.5px,#00ff04 31.5px,#8cff00 62.5px,#fdff00 92.5px,#ff9b00 128.5px,#ff5f00 161.5px,#ff4300 194.5px,#ff4600 227.5px,#ff6900 260.5px,#ff7e00 272.5px);-webkit-mask-image:linear-gradient(180deg,transparent 104.0px,#000 112.0px);mask-image:linear-gradient(180deg,transparent 104.0px,#000 112.0px)"></div><div class="L" style="background:linear-gradient(90deg,#00ffb4 0.5px,#00ff01 32.5px,#a4ff00 68.5px,#fffd00 93.5px,#ff9e00 126.5px,#ff5e00 159.5px,#ff3f00 192.5px,#ff3e00 225.5px,#ff5e00 258.5px,#ff7500 272.5px);-webkit-mask-image:linear-gradient(180deg,transparent 112.0px,#000 120.0px);mask-image:linear-gradient(180deg,transparent 112.0px,#000 120.0px)"></div><div class="L" style="background:linear-gradient(90deg,#00ffb9 0.5px,#00ff04 32.5px,#54ff00 50.5px,#deff00 83.5px,#fffd00 93.5px,#ff9c00 126.5px,#ff5b00 159.5px,#ff3a00 192.5px,#ff3800 225.5px,#ff5600 258.5px,#ff6c00 272.5px);-webkit-mask-image:linear-gradient(180deg,transparent 120.0px,#000 128.0px);mask-image:linear-gradient(180deg,transparent 120.0px,#000 128.0px)"></div><div class="L" style="background:linear-gradient(90deg,#00ffbd 0.5px,#00ff02 33.5px,#aaff00 70.5px,#fffd00 93.5px,#ff9b00 126.5px,#ff5800 159.5px,#ff3500 192.5px,#ff3200 225.5px,#ff4e00 258.5px,#ff6400 272.5px);-webkit-mask-image:linear-gradient(180deg,transparent 128.0px,#000 136.0px);mask-image:linear-gradient(180deg,transparent 128.0px,#000 136.0px)"></div><div class="L" style="background:linear-gradient(90deg,#00ffc2 0.5px,#00ff06 33.5px,#0fff00 37.5px,#a9ff00 70.5px,#fffd00 93.5px,#ff9a00 126.5px,#ff5500 159.5px,#ff3100 192.5px,#ff2c00 225.5px,#ff4700 258.5px,#ff5c00 272.5px);-webkit-mask-image:linear-gradient(180deg,transparent 136.0px,#000 144.0px);mask-image:linear-gradient(180deg,transparent 136.0px,#000 144.0px)"></div><div class="L" style="background:linear-gradient(90deg,#00ffc8 0.5px,#00ff09 33.5px,#06ff00 36.5px,#a2ff00 69.5px,#fffe00 93.5px,#ff9900 126.5px,#ff5300 159.5px,#ff2d00 192.5px,#ff2700 225.5px,#ff4000 258.5px,#ff5400 272.5px);-webkit-mask-image:linear-gradient(180deg,transparent 144.0px,#000 152.0px);mask-image:linear-gradient(180deg,transparent 144.0px,#000 152.0px)"></div><div class="L" style="background:linear-gradient(90deg,#00ffcd 0.5px,#00ff0d 33.5px,#08ff00 37.5px,#a4ff00 70.5px,#fffc00 94.5px,#ff9600 127.5px,#ff5000 160.5px,#ff2900 193.5px,#ff2200 226.5px,#ff3a00 259.5px,#ff4d00 272.5px);-webkit-mask-image:linear-gradient(180deg,transparent 152.0px,#000 160.0px);mask-image:linear-gradient(180deg,transparent 152.0px,#000 160.0px)"></div><div class="L" style="background:linear-gradient(90deg,#00ffd3 0.5px,#00ff12 33.5px,#03ff00 37.5px,#a1ff00 70.5px,#fffd00 94.5px,#ff9600 127.5px,#ff4e00 160.5px,#ff2600 193.5px,#ff1d00 226.5px,#ff3400 259.5px,#ff4600 272.5px);-webkit-mask-image:linear-gradient(180deg,transparent 160.0px,#000 168.0px);mask-image:linear-gradient(180deg,transparent 160.0px,#000 168.0px)"></div><div class="L" style="background:linear-gradient(90deg,#00ffda 0.5px,#00ff17 33.5px,#04ff00 38.5px,#a3ff00 71.5px,#ffff00 94.5px,#ff9600 127.5px,#ff4d00 160.5px,#ff2300 193.5px,#ff1900 226.5px,#ff2e00 259.5px,#ff3f00 272.5px);-webkit-mask-image:linear-gradient(180deg,transparent 168.0px,#000 176.0px);mask-image:linear-gradient(180deg,transparent 168.0px,#000 176.0px)"></div><div class="L" style="background:linear-gradient(90deg,#00ffe1 0.5px,#00ff1c 33.5px,#05ff00 39.5px,#a4ff00 72.5px,#fffe00 95.5px,#ff9400 128.5px,#ff4a00 161.5px,#ff2000 194.5px,#ff1500 227.5px,#ff2900 260.5px,#ff3900 272.5px);-webkit-mask-image:linear-gradient(180deg,transparent 176.0px,#000 184.0px);mask-image:linear-gradient(180deg,transparent 176.0px,#000 184.0px)"></div><div class="L" style="background:linear-gradient(90deg,#00ffe8 0.5px,#00ff21 33.5px,#00ff01 39.5px,#a5ff00 73.5px,#fffd00 96.5px,#ff9200 129.5px,#ff4800 162.5px,#ff1d00 195.5px,#ff1100 228.5px,#ff2500 261.5px,#ff3300 272.5px);-webkit-mask-image:linear-gradient(180deg,transparent 184.0px,#000 192.0px);mask-image:linear-gradient(180deg,transparent 184.0px,#000 192.0px)"></div><div class="L" style="background:linear-gradient(90deg,#00ffef 0.5px,#00ff27 33.5px,#00ff01 40.5px,#a5ff00 74.5px,#fffc00 97.5px,#ff9100 130.5px,#ff4600 163.5px,#ff1a00 196.5px,#ff0e00 229.5px,#ff2100 262.5px,#ff2d00 272.5px);-webkit-mask-image:linear-gradient(180deg,transparent 192.0px,#000 200.0px);mask-image:linear-gradient(180deg,transparent 192.0px,#000 200.0px)"></div><div class="L" style="background:linear-gradient(90deg,#00fff7 0.5px,#00ff2d 33.5px,#04ff00 42.5px,#a5ff00 75.5px,#ffff00 97.5px,#ff9200 130.5px,#ff4500 163.5px,#ff1800 196.5px,#ff0b00 229.5px,#ff1c00 262.5px,#ff2800 272.5px);-webkit-mask-image:linear-gradient(180deg,transparent 200.0px,#000 208.0px);mask-image:linear-gradient(180deg,transparent 200.0px,#000 208.0px)"></div><div class="L" style="background:linear-gradient(90deg,#00ffff 0.5px,#00ff34 33.5px,#03ff00 43.5px,#a5ff00 76.5px,#ffff00 98.5px,#ff9100 131.5px,#ff4400 164.5px,#ff1600 197.5px,#ff0800 230.5px,#ff1900 263.5px,#ff2300 272.5px);-webkit-mask-image:linear-gradient(180deg,transparent 208.0px,#000 216.0px);mask-image:linear-gradient(180deg,transparent 208.0px,#000 216.0px)"></div><div class="L" style="background:linear-gradient(90deg,#00f7ff 0.5px,#00fff3 3.5px,#00ff2a 36.5px,#02ff00 44.5px,#a5ff00 77.5px,#ffff00 99.5px,#ff9100 132.5px,#ff4300 165.5px,#ff1400 198.5px,#ff0500 231.5px,#ff1600 264.5px,#ff1f00 272.5px);-webkit-mask-image:linear-gradient(180deg,transparent 216.0px,#000 224.0px);mask-image:linear-gradient(180deg,transparent 216.0px,#000 224.0px)"></div><div class="L" style="background:linear-gradient(90deg,#00eeff 0.5px,#00fffc 3.5px,#00ff31 36.5px,#01ff00 45.5px,#a4ff00 78.5px,#ffff00 100.5px,#ff9000 133.5px,#ff4200 166.5px,#ff1300 199.5px,#ff0300 232.5px,#ff1300 265.5px,#ff1a00 272.5px);-webkit-mask-image:linear-gradient(180deg,transparent 224.0px,#000 232.0px);mask-image:linear-gradient(180deg,transparent 224.0px,#000 232.0px)"></div><div class="L" style="background:linear-gradient(90deg,#00e5ff 0.5px,#00fffe 4.5px,#00ff33 37.5px,#00ff01 46.5px,#a8ff00 80.5px,#fffb00 102.5px,#ff8d00 135.5px,#ff3f00 168.5px,#ff1000 201.5px,#ff0100 234.5px,#ff1100 267.5px,#ff1700 272.5px);-webkit-mask-image:linear-gradient(180deg,transparent 232.0px,#000 240.0px);mask-image:linear-gradient(180deg,transparent 232.0px,#000 240.0px)"></div><div class="L" style="background:linear-gradient(90deg,#00dbff 0.5px,#00fffa 6.5px,#00ff2f 39.5px,#03ff00 48.5px,#a6ff00 81.5px,#fffc00 103.5px,#ff8e00 136.5px,#ff3f00 169.5px,#ff0f00 202.5px,#ff0000 233.5px,#ff0c00 264.5px,#ff1300 272.5px);-webkit-mask-image:linear-gradient(180deg,transparent 240.0px,#000 248.0px);mask-image:linear-gradient(180deg,transparent 240.0px,#000 248.0px)"></div><div class="L" style="background:linear-gradient(90deg,#00d1ff 0.5px,#00fffd 7.5px,#00ff31 40.5px,#01ff00 49.5px,#a5ff00 82.5px,#fffd00 104.5px,#ff8e00 137.5px,#ff3e00 170.5px,#ff0e00 203.5px,#ff0000 232.5px,#ff0700 262.5px,#ff1000 272.5px);-webkit-mask-image:linear-gradient(180deg,transparent 248.0px,#000 256.0px);mask-image:linear-gradient(180deg,transparent 248.0px,#000 256.0px)"></div><div class="L" style="background:linear-gradient(90deg,#00c7ff 0.5px,#00fdff 8.5px,#00ff23 44.5px,#04ff00 51.5px,#a8ff00 84.5px,#ffff00 105.5px,#ff8f00 138.5px,#ff3f00 171.5px,#ff0e00 204.5px,#ff0000 230.5px,#ff0600 263.5px,#ff0d00 272.5px);-webkit-mask-image:linear-gradient(180deg,transparent 256.0px,#000 264.0px);mask-image:linear-gradient(180deg,transparent 256.0px,#000 264.0px)"></div><div class="L" style="background:linear-gradient(90deg,#00bdff 0.5px,#00fffd 10.5px,#00ff31 43.5px,#01ff00 52.5px,#a6ff00 85.5px,#fffc00 107.5px,#ff8d00 140.5px,#ff3d00 173.5px,#ff0d00 206.5px,#ff0000 231.5px,#ff0500 265.5px,#ff0b00 272.5px);-webkit-mask-image:linear-gradient(180deg,transparent 264.0px,#000 272.0px);mask-image:linear-gradient(180deg,transparent 264.0px,#000 272.0px)"></div><div class="L" style="background:linear-gradient(90deg,#00bcff 0.5px,#00fffe 10.5px,#00ff32 43.5px,#01ff00 52.5px,#a5ff00 85.5px,#fffd00 107.5px,#ff8d00 140.5px,#ff3d00 173.5px,#ff0d00 206.5px,#ff0000 231.5px,#ff0500 265.5px,#ff0b00 272.5px);-webkit-mask-image:linear-gradient(180deg,transparent 272.0px,#000 272.7px);mask-image:linear-gradient(180deg,transparent 272.0px,#000 272.7px)"></div></div><div class="F" style="left:49.60px;top:998.00px;width:272.10px;height:273.30px"><div class="L" style="background:linear-gradient(90deg,#13ff00 0.5px,#22ff00 41.5px,#12ff00 82.5px,#00ff04 104.5px,#00ff44 145.5px,#00ffa4 186.5px,#00feff 217.5px,#0067ff 258.5px,#002dff 272.5px)"></div><div class="L" style="background:linear-gradient(90deg,#2bff00 0.5px,#3cff00 41.5px,#2eff00 82.5px,#00ff04 126.5px,#00ff53 167.5px,#00ffc2 208.5px,#00fbff 228.5px,#005fff 269.5px,#0052ff 272.5px);-webkit-mask-image:linear-gradient(180deg,transparent 0.0px,#000 8.0px);mask-image:linear-gradient(180deg,transparent 0.0px,#000 8.0px)"></div><div class="L" style="background:linear-gradient(90deg,#42ff00 0.5px,#55ff00 41.5px,#48ff00 82.5px,#1dff00 123.5px,#00ff04 143.5px,#00ff5e 184.5px,#00ffd8 225.5px,#00fdff 237.5px,#0075ff 272.5px);-webkit-mask-image:linear-gradient(180deg,transparent 8.0px,#000 16.0px);mask-image:linear-gradient(180deg,transparent 8.0px,#000 16.0px)"></div><div class="L" style="background:linear-gradient(90deg,#56ff00 0.5px,#6bff00 41.5px,#60ff00 82.5px,#37ff00 123.5px,#00ff04 157.5px,#00ff67 198.5px,#00ffe9 239.5px,#00fcff 246.5px,#0096ff 272.5px);-webkit-mask-image:linear-gradient(180deg,transparent 16.0px,#000 24.0px);mask-image:linear-gradient(180deg,transparent 16.0px,#000 24.0px)"></div><div class="L" style="background:linear-gradient(90deg,#69ff00 0.5px,#7fff00 41.5px,#77ff00 82.5px,#4fff00 123.5px,#08ff00 164.5px,#00ff08 171.5px,#00ff73 212.5px,#00fcff 254.5px,#00b5ff 272.5px);-webkit-mask-image:linear-gradient(180deg,transparent 24.0px,#000 32.0px);mask-image:linear-gradient(180deg,transparent 24.0px,#000 32.0px)"></div><div class="L" style="background:linear-gradient(90deg,#79ff00 0.5px,#92ff00 41.5px,#8bff00 82.5px,#65ff00 123.5px,#20ff00 164.5px,#00ff04 180.5px,#00ff74 221.5px,#00fdff 261.5px,#00d2ff 272.5px);-webkit-mask-image:linear-gradient(180deg,transparent 32.0px,#000 40.0px);mask-image:linear-gradient(180deg,transparent 32.0px,#000 40.0px)"></div><div class="L" style="background:linear-gradient(90deg,#88ff00 0.5px,#a2ff00 41.5px,#9dff00 82.5px,#79ff00 123.5px,#36ff00 164.5px,#00ff03 189.5px,#00ff78 230.5px,#00fdff 268.5px,#00edff 272.5px);-webkit-mask-image:linear-gradient(180deg,transparent 40.0px,#000 48.0px);mask-image:linear-gradient(180deg,transparent 40.0px,#000 48.0px)"></div><div class="L" style="background:linear-gradient(90deg,#95ff00 0.5px,#b1ff00 41.5px,#aeff00 82.5px,#8bff00 123.5px,#4aff00 164.5px,#00ff04 198.5px,#00ff7f 239.5px,#00fff8 272.5px);-webkit-mask-image:linear-gradient(180deg,transparent 48.0px,#000 56.0px);mask-image:linear-gradient(180deg,transparent 48.0px,#000 56.0px)"></div><div class="L" style="background:linear-gradient(90deg,#9fff00 0.5px,#bdff00 41.5px,#bcff00 82.5px,#9cff00 123.5px,#5cff00 164.5px,#00ff03 205.5px,#00ff81 246.5px,#00ffe1 272.5px);-webkit-mask-image:linear-gradient(180deg,transparent 56.0px,#000 64.0px);mask-image:linear-gradient(180deg,transparent 56.0px,#000 64.0px)"></div><div class="L" style="background:linear-gradient(90deg,#a8ff00 0.5px,#c8ff00 41.5px,#c8ff00 82.5px,#aaff00 123.5px,#6cff00 164.5px,#0fff00 205.5px,#00ff04 212.5px,#00ff86 253.5px,#00ffcc 272.5px);-webkit-mask-image:linear-gradient(180deg,transparent 64.0px,#000 72.0px);mask-image:linear-gradient(180deg,transparent 64.0px,#000 72.0px)"></div><div class="L" style="background:linear-gradient(90deg,#aeff00 0.5px,#d0ff00 41.5px,#d3ff00 82.5px,#b6ff00 123.5px,#7aff00 164.5px,#1fff00 205.5px,#00ff04 218.5px,#00ff89 259.5px,#00ffb9 272.5px);-webkit-mask-image:linear-gradient(180deg,transparent 72.0px,#000 80.0px);mask-image:linear-gradient(180deg,transparent 72.0px,#000 80.0px)"></div><div class="L" style="background:linear-gradient(90deg,#b3ff00 0.5px,#d7ff00 41.5px,#dbff00 82.5px,#c0ff00 123.5px,#86ff00 164.5px,#2dff00 205.5px,#00ff04 223.5px,#00ff8a 264.5px,#00ffa8 272.5px);-webkit-mask-image:linear-gradient(180deg,transparent 80.0px,#000 88.0px);mask-image:linear-gradient(180deg,transparent 80.0px,#000 88.0px)"></div><div class="L" style="background:linear-gradient(90deg,#b6ff00 0.5px,#dbff00 41.5px,#e1ff00 82.5px,#c9ff00 123.5px,#90ff00 164.5px,#39ff00 205.5px,#00ff03 227.5px,#00ff8a 268.5px,#00ff99 272.5px);-webkit-mask-image:linear-gradient(180deg,transparent 88.0px,#000 96.0px);mask-image:linear-gradient(180deg,transparent 88.0px,#000 96.0px)"></div><div class="L" style="background:linear-gradient(90deg,#b6ff00 0.5px,#deff00 41.5px,#e6ff00 82.5px,#cfff00 123.5px,#98ff00 164.5px,#43ff00 205.5px,#00ff03 231.5px,#00ff8c 272.5px);-webkit-mask-image:linear-gradient(180deg,transparent 96.0px,#000 104.0px);mask-image:linear-gradient(180deg,transparent 96.0px,#000 104.0px)"></div><div class="L" style="background:linear-gradient(90deg,#b5ff00 0.5px,#deff00 41.5px,#e8ff00 82.5px,#d3ff00 123.5px,#9fff00 164.5px,#4bff00 205.5px,#00ff03 234.5px,#00ff81 272.5px);-webkit-mask-image:linear-gradient(180deg,transparent 104.0px,#000 112.0px);mask-image:linear-gradient(180deg,transparent 104.0px,#000 112.0px)"></div><div class="L" style="background:linear-gradient(90deg,#b1ff00 0.5px,#ddff00 41.5px,#e9ff00 82.5px,#d5ff00 123.5px,#a3ff00 164.5px,#51ff00 205.5px,#00ff02 236.5px,#00ff78 272.5px);-webkit-mask-image:linear-gradient(180deg,transparent 112.0px,#000 120.0px);mask-image:linear-gradient(180deg,transparent 112.0px,#000 120.0px)"></div><div class="L" style="background:linear-gradient(90deg,#acff00 0.5px,#d9ff00 41.5px,#e7ff00 82.5px,#d6ff00 123.5px,#a5ff00 164.5px,#55ff00 205.5px,#00ff02 238.5px,#00ff71 272.5px);-webkit-mask-image:linear-gradient(180deg,transparent 120.0px,#000 128.0px);mask-image:linear-gradient(180deg,transparent 120.0px,#000 128.0px)"></div><div class="L" style="background:linear-gradient(90deg,#a5ff00 0.5px,#d4ff00 41.5px,#e3ff00 82.5px,#d4ff00 123.5px,#a5ff00 164.5px,#57ff00 205.5px,#00ff02 239.5px,#00ff6c 272.5px);-webkit-mask-image:linear-gradient(180deg,transparent 128.0px,#000 136.0px);mask-image:linear-gradient(180deg,transparent 128.0px,#000 136.0px)"></div><div class="L" style="background:linear-gradient(90deg,#9bff00 0.5px,#ccff00 41.5px,#deff00 82.5px,#d0ff00 123.5px,#a3ff00 164.5px,#57ff00 205.5px,#00ff03 240.5px,#00ff69 272.5px);-webkit-mask-image:linear-gradient(180deg,transparent 136.0px,#000 144.0px);mask-image:linear-gradient(180deg,transparent 136.0px,#000 144.0px)"></div><div class="L" style="background:linear-gradient(90deg,#90ff00 0.5px,#c3ff00 41.5px,#d6ff00 82.5px,#caff00 123.5px,#9fff00 164.5px,#55ff00 205.5px,#00ff03 240.5px,#00ff68 272.5px);-webkit-mask-image:linear-gradient(180deg,transparent 144.0px,#000 152.0px);mask-image:linear-gradient(180deg,transparent 144.0px,#000 152.0px)"></div><div class="L" style="background:linear-gradient(90deg,#83ff00 0.5px,#b7ff00 41.5px,#cdff00 82.5px,#c3ff00 123.5px,#99ff00 164.5px,#51ff00 205.5px,#00ff03 239.5px,#00ff69 272.5px);-webkit-mask-image:linear-gradient(180deg,transparent 152.0px,#000 160.0px);mask-image:linear-gradient(180deg,transparent 152.0px,#000 160.0px)"></div><div class="L" style="background:linear-gradient(90deg,#73ff00 0.5px,#aaff00 41.5px,#c1ff00 82.5px,#b9ff00 123.5px,#92ff00 164.5px,#4bff00 205.5px,#00ff02 237.5px,#00ff6c 272.5px);-webkit-mask-image:linear-gradient(180deg,transparent 160.0px,#000 168.0px);mask-image:linear-gradient(180deg,transparent 160.0px,#000 168.0px)"></div><div class="L" style="background:linear-gradient(90deg,#62ff00 0.5px,#9aff00 41.5px,#b3ff00 82.5px,#adff00 123.5px,#88ff00 164.5px,#43ff00 205.5px,#00ff03 235.5px,#00ff70 272.5px);-webkit-mask-image:linear-gradient(180deg,transparent 168.0px,#000 176.0px);mask-image:linear-gradient(180deg,transparent 168.0px,#000 176.0px)"></div><div class="L" style="background:linear-gradient(90deg,#4fff00 0.5px,#89ff00 41.5px,#a4ff00 82.5px,#9fff00 123.5px,#7cff00 164.5px,#39ff00 205.5px,#00ff04 232.5px,#00ff77 272.5px);-webkit-mask-image:linear-gradient(180deg,transparent 176.0px,#000 184.0px);mask-image:linear-gradient(180deg,transparent 176.0px,#000 184.0px)"></div><div class="L" style="background:linear-gradient(90deg,#39ff00 0.5px,#75ff00 41.5px,#92ff00 82.5px,#90ff00 123.5px,#6eff00 164.5px,#2dff00 205.5px,#00ff03 227.5px,#00ff74 268.5px,#00ff80 272.5px);-webkit-mask-image:linear-gradient(180deg,transparent 184.0px,#000 192.0px);mask-image:linear-gradient(180deg,transparent 184.0px,#000 192.0px)"></div><div class="L" style="background:linear-gradient(90deg,#22ff00 0.5px,#60ff00 41.5px,#7fff00 82.5px,#7eff00 123.5px,#5eff00 164.5px,#1fff00 205.5px,#00ff04 222.5px,#00ff6f 263.5px,#00ff8b 272.5px);-webkit-mask-image:linear-gradient(180deg,transparent 192.0px,#000 200.0px);mask-image:linear-gradient(180deg,transparent 192.0px,#000 200.0px)"></div><div class="L" style="background:linear-gradient(90deg,#09ff00 0.5px,#49ff00 41.5px,#69ff00 82.5px,#6aff00 123.5px,#4cff00 164.5px,#0fff00 205.5px,#00ff04 215.5px,#00ff68 256.5px,#00ff98 272.5px);-webkit-mask-image:linear-gradient(180deg,transparent 200.0px,#000 208.0px);mask-image:linear-gradient(180deg,transparent 200.0px,#000 208.0px)"></div><div class="L" style="background:linear-gradient(90deg,#00ff13 0.5px,#04ff00 12.5px,#3cff00 53.5px,#56ff00 94.5px,#50ff00 135.5px,#2aff00 176.5px,#00ff03 205.5px,#00ff5d 246.5px,#00ffa7 272.5px);-webkit-mask-image:linear-gradient(180deg,transparent 208.0px,#000 216.0px);mask-image:linear-gradient(180deg,transparent 208.0px,#000 216.0px)"></div><div class="L" style="background:linear-gradient(90deg,#00ff30 0.5px,#03ff00 29.5px,#31ff00 70.5px,#3fff00 111.5px,#2eff00 152.5px,#00ff04 194.5px,#00ff54 235.5px,#00ffb8 272.5px);-webkit-mask-image:linear-gradient(180deg,transparent 216.0px,#000 224.0px);mask-image:linear-gradient(180deg,transparent 216.0px,#000 224.0px)"></div><div class="L" style="background:linear-gradient(90deg,#00ff4f 0.5px,#00ff0a 41.5px,#06ff00 54.5px,#22ff00 95.5px,#1fff00 136.5px,#00ff03 177.5px,#00ff45 218.5px,#00ffa5 259.5px,#00ffcb 272.5px);-webkit-mask-image:linear-gradient(180deg,transparent 224.0px,#000 232.0px);mask-image:linear-gradient(180deg,transparent 224.0px,#000 232.0px)"></div><div class="L" style="background:linear-gradient(90deg,#00ff70 0.5px,#00ff29 41.5px,#00ff01 82.5px,#07ff00 126.5px,#00ff06 153.5px,#00ff33 194.5px,#00ff80 235.5px,#00ffdf 272.5px);-webkit-mask-image:linear-gradient(180deg,transparent 232.0px,#000 240.0px);mask-image:linear-gradient(180deg,transparent 232.0px,#000 240.0px)"></div><div class="L" style="background:linear-gradient(90deg,#00ff94 0.5px,#00ff4b 41.5px,#00ff21 82.5px,#00ff16 123.5px,#00ff2b 164.5px,#00ff5e 205.5px,#00ffb1 246.5px,#00fff6 272.5px);-webkit-mask-image:linear-gradient(180deg,transparent 240.0px,#000 248.0px);mask-image:linear-gradient(180deg,transparent 240.0px,#000 248.0px)"></div><div class="L" style="background:linear-gradient(90deg,#00ffb9 0.5px,#00ff6e 41.5px,#00ff42 82.5px,#00ff36 123.5px,#00ff48 164.5px,#00ff7a 205.5px,#00ffcb 246.5px,#00fdff 267.5px,#00efff 272.5px);-webkit-mask-image:linear-gradient(180deg,transparent 248.0px,#000 256.0px);mask-image:linear-gradient(180deg,transparent 248.0px,#000 256.0px)"></div><div class="L" style="background:linear-gradient(90deg,#00ffe0 0.5px,#00ff93 41.5px,#00ff66 82.5px,#00ff57 123.5px,#00ff68 164.5px,#00ff98 205.5px,#00ffe8 246.5px,#00fcff 257.5px,#00d4ff 272.5px);-webkit-mask-image:linear-gradient(180deg,transparent 256.0px,#000 264.0px);mask-image:linear-gradient(180deg,transparent 256.0px,#000 264.0px)"></div><div class="L" style="background:linear-gradient(90deg,#00f5ff 0.5px,#00fff8 8.5px,#00ffaf 49.5px,#00ff86 90.5px,#00ff7b 131.5px,#00ff90 172.5px,#00ffc5 213.5px,#00fdff 244.5px,#00b7ff 272.5px);-webkit-mask-image:linear-gradient(180deg,transparent 264.0px,#000 272.0px);mask-image:linear-gradient(180deg,transparent 264.0px,#000 272.0px)"></div><div class="L" style="background:linear-gradient(90deg,#00eeff 0.5px,#00fffa 10.5px,#00ffb3 51.5px,#00ff8b 92.5px,#00ff82 133.5px,#00ff98 174.5px,#00ffcd 215.5px,#00fcff 242.5px,#00b2ff 272.5px);-webkit-mask-image:linear-gradient(180deg,transparent 272.0px,#000 273.3px);mask-image:linear-gradient(180deg,transparent 272.0px,#000 273.3px)"></div></div><div class="F" style="left:402.10px;top:996.70px;width:272.90px;height:273.00px"><div class="L" style="background:linear-gradient(90deg,#b7ff00 0.5px,#00ff04 83.5px,#00fbff 196.5px,#004fff 272.5px)"></div><div class="L" style="background:linear-gradient(90deg,#c4ff00 0.5px,#00ff04 94.5px,#00fcff 213.5px,#007eff 272.5px);-webkit-mask-image:linear-gradient(180deg,transparent 0.0px,#000 8.0px);mask-image:linear-gradient(180deg,transparent 0.0px,#000 8.0px)"></div><div class="L" style="background:linear-gradient(90deg,#cfff00 0.5px,#00ff02 105.5px,#00fbff 233.5px,#00acff 272.5px);-webkit-mask-image:linear-gradient(180deg,transparent 8.0px,#000 16.0px);mask-image:linear-gradient(180deg,transparent 8.0px,#000 16.0px)"></div><div class="L" style="background:linear-gradient(90deg,#daff00 0.5px,#00ff03 118.5px,#00fbff 254.5px,#00d9ff 272.5px);-webkit-mask-image:linear-gradient(180deg,transparent 16.0px,#000 24.0px);mask-image:linear-gradient(180deg,transparent 16.0px,#000 24.0px)"></div><div class="L" style="background:linear-gradient(90deg,#e3ff00 0.5px,#00ff03 132.5px,#00fff9 272.5px);-webkit-mask-image:linear-gradient(180deg,transparent 24.0px,#000 32.0px);mask-image:linear-gradient(180deg,transparent 24.0px,#000 32.0px)"></div><div class="L" style="background:linear-gradient(90deg,#eaff00 0.5px,#00ff03 147.5px,#00ffcf 272.5px);-webkit-mask-image:linear-gradient(180deg,transparent 32.0px,#000 40.0px);mask-image:linear-gradient(180deg,transparent 32.0px,#000 40.0px)"></div><div class="L" style="background:linear-gradient(90deg,#f1ff00 0.5px,#00ff04 164.5px,#00ffa6 272.5px);-webkit-mask-image:linear-gradient(180deg,transparent 40.0px,#000 48.0px);mask-image:linear-gradient(180deg,transparent 40.0px,#000 48.0px)"></div><div class="L" style="background:linear-gradient(90deg,#f6ff00 0.5px,#00ff04 183.5px,#00ff7e 272.5px);-webkit-mask-image:linear-gradient(180deg,transparent 48.0px,#000 56.0px);mask-image:linear-gradient(180deg,transparent 48.0px,#000 56.0px)"></div><div class="L" style="background:linear-gradient(90deg,#f9ff00 0.5px,#00ff04 205.5px,#00ff57 272.5px);-webkit-mask-image:linear-gradient(180deg,transparent 56.0px,#000 64.0px);mask-image:linear-gradient(180deg,transparent 56.0px,#000 64.0px)"></div><div class="L" style="background:linear-gradient(90deg,#fcff00 0.5px,#00ff03 230.5px,#00ff32 272.5px);-webkit-mask-image:linear-gradient(180deg,transparent 64.0px,#000 72.0px);mask-image:linear-gradient(180deg,transparent 64.0px,#000 72.0px)"></div><div class="L" style="background:linear-gradient(90deg,#fdff00 0.5px,#00ff03 261.5px,#00ff0e 272.5px);-webkit-mask-image:linear-gradient(180deg,transparent 72.0px,#000 80.0px);mask-image:linear-gradient(180deg,transparent 72.0px,#000 80.0px)"></div><div class="L" style="background:linear-gradient(90deg,#fdff00 0.5px,#14ff00 272.5px);-webkit-mask-image:linear-gradient(180deg,transparent 80.0px,#000 88.0px);mask-image:linear-gradient(180deg,transparent 80.0px,#000 88.0px)"></div><div class="L" style="background:linear-gradient(90deg,#fbff00 0.5px,#36ff00 272.5px);-webkit-mask-image:linear-gradient(180deg,transparent 88.0px,#000 96.0px);mask-image:linear-gradient(180deg,transparent 88.0px,#000 96.0px)"></div><div class="L" style="background:linear-gradient(90deg,#f9ff00 0.5px,#56ff00 272.5px);-webkit-mask-image:linear-gradient(180deg,transparent 96.0px,#000 104.0px);mask-image:linear-gradient(180deg,transparent 96.0px,#000 104.0px)"></div><div class="L" style="background:linear-gradient(90deg,#f5ff00 0.5px,#74ff00 272.5px);-webkit-mask-image:linear-gradient(180deg,transparent 104.0px,#000 112.0px);mask-image:linear-gradient(180deg,transparent 104.0px,#000 112.0px)"></div><div class="L" style="background:linear-gradient(90deg,#efff00 0.5px,#92ff00 272.5px);-webkit-mask-image:linear-gradient(180deg,transparent 112.0px,#000 120.0px);mask-image:linear-gradient(180deg,transparent 112.0px,#000 120.0px)"></div><div class="L" style="background:linear-gradient(90deg,#e9ff00 0.5px,#aeff00 272.5px);-webkit-mask-image:linear-gradient(180deg,transparent 120.0px,#000 128.0px);mask-image:linear-gradient(180deg,transparent 120.0px,#000 128.0px)"></div><div class="L" style="background:linear-gradient(90deg,#e1ff00 0.5px,#c9ff00 272.5px);-webkit-mask-image:linear-gradient(180deg,transparent 128.0px,#000 136.0px);mask-image:linear-gradient(180deg,transparent 128.0px,#000 136.0px)"></div><div class="L" style="background:linear-gradient(90deg,#d8ff00 0.5px,#e2ff00 272.5px);-webkit-mask-image:linear-gradient(180deg,transparent 136.0px,#000 144.0px);mask-image:linear-gradient(180deg,transparent 136.0px,#000 144.0px)"></div><div class="L" style="background:linear-gradient(90deg,#cdff00 0.5px,#faff00 272.5px);-webkit-mask-image:linear-gradient(180deg,transparent 144.0px,#000 152.0px);mask-image:linear-gradient(180deg,transparent 144.0px,#000 152.0px)"></div><div class="L" style="background:linear-gradient(90deg,#c1ff00 0.5px,#fffb00 222.5px,#ffed00 272.5px);-webkit-mask-image:linear-gradient(180deg,transparent 152.0px,#000 160.0px);mask-image:linear-gradient(180deg,transparent 152.0px,#000 160.0px)"></div><div class="L" style="background:linear-gradient(90deg,#b4ff00 0.5px,#fffb00 185.5px,#ffd700 272.5px);-webkit-mask-image:linear-gradient(180deg,transparent 160.0px,#000 168.0px);mask-image:linear-gradient(180deg,transparent 160.0px,#000 168.0px)"></div><div class="L" style="background:linear-gradient(90deg,#a6ff00 0.5px,#fffb00 168.5px,#ffc300 272.5px);-webkit-mask-image:linear-gradient(180deg,transparent 168.0px,#000 176.0px);mask-image:linear-gradient(180deg,transparent 168.0px,#000 176.0px)"></div><div class="L" style="background:linear-gradient(90deg,#96ff00 0.5px,#fffc00 159.5px,#ffb000 272.5px);-webkit-mask-image:linear-gradient(180deg,transparent 176.0px,#000 184.0px);mask-image:linear-gradient(180deg,transparent 176.0px,#000 184.0px)"></div><div class="L" style="background:linear-gradient(90deg,#85ff00 0.5px,#fffb00 155.5px,#ff9e00 272.5px);-webkit-mask-image:linear-gradient(180deg,transparent 184.0px,#000 192.0px);mask-image:linear-gradient(180deg,transparent 184.0px,#000 192.0px)"></div><div class="L" style="background:linear-gradient(90deg,#73ff00 0.5px,#fffc00 153.5px,#ff8e00 272.5px);-webkit-mask-image:linear-gradient(180deg,transparent 192.0px,#000 200.0px);mask-image:linear-gradient(180deg,transparent 192.0px,#000 200.0px)"></div><div class="L" style="background:linear-gradient(90deg,#5fff00 0.5px,#fffc00 153.5px,#ff7f00 272.5px);-webkit-mask-image:linear-gradient(180deg,transparent 200.0px,#000 208.0px);mask-image:linear-gradient(180deg,transparent 200.0px,#000 208.0px)"></div><div class="L" style="background:linear-gradient(90deg,#4aff00 0.5px,#fffc00 154.5px,#ff7100 272.5px);-webkit-mask-image:linear-gradient(180deg,transparent 208.0px,#000 216.0px);mask-image:linear-gradient(180deg,transparent 208.0px,#000 216.0px)"></div><div class="L" style="background:linear-gradient(90deg,#34ff00 0.5px,#fffc00 156.5px,#ff6400 272.5px);-webkit-mask-image:linear-gradient(180deg,transparent 216.0px,#000 224.0px);mask-image:linear-gradient(180deg,transparent 216.0px,#000 224.0px)"></div><div class="L" style="background:linear-gradient(90deg,#1dff00 0.5px,#fffb00 159.5px,#ff5900 272.5px);-webkit-mask-image:linear-gradient(180deg,transparent 224.0px,#000 232.0px);mask-image:linear-gradient(180deg,transparent 224.0px,#000 232.0px)"></div><div class="L" style="background:linear-gradient(90deg,#04ff00 0.5px,#fffc00 161.5px,#ff4f00 272.5px);-webkit-mask-image:linear-gradient(180deg,transparent 232.0px,#000 240.0px);mask-image:linear-gradient(180deg,transparent 232.0px,#000 240.0px)"></div><div class="L" style="background:linear-gradient(90deg,#00ff16 0.5px,#04ff00 15.5px,#fffb00 165.5px,#ff4600 272.5px);-webkit-mask-image:linear-gradient(180deg,transparent 240.0px,#000 248.0px);mask-image:linear-gradient(180deg,transparent 240.0px,#000 248.0px)"></div><div class="L" style="background:linear-gradient(90deg,#00ff31 0.5px,#04ff00 29.5px,#fffc00 168.5px,#ff3f00 272.5px);-webkit-mask-image:linear-gradient(180deg,transparent 248.0px,#000 256.0px);mask-image:linear-gradient(180deg,transparent 248.0px,#000 256.0px)"></div><div class="L" style="background:linear-gradient(90deg,#00ff4e 0.5px,#02ff00 41.5px,#fffb00 172.5px,#ff3900 272.5px);-webkit-mask-image:linear-gradient(180deg,transparent 256.0px,#000 264.0px);mask-image:linear-gradient(180deg,transparent 256.0px,#000 264.0px)"></div><div class="L" style="background:linear-gradient(90deg,#00ff6c 0.5px,#03ff00 53.5px,#fffb00 176.5px,#ff3400 272.5px);-webkit-mask-image:linear-gradient(180deg,transparent 264.0px,#000 272.0px);mask-image:linear-gradient(180deg,transparent 264.0px,#000 272.0px)"></div><div class="L" style="background:linear-gradient(90deg,#00ff70 0.5px,#04ff00 55.5px,#fffc00 176.5px,#ff3400 272.5px);-webkit-mask-image:linear-gradient(180deg,transparent 272.0px,#000 273.0px);mask-image:linear-gradient(180deg,transparent 272.0px,#000 273.0px)"></div></div><div class="F" style="left:47.90px;top:1327.50px;width:272.80px;height:272.80px"><div class="L" style="background:linear-gradient(90deg,#005cff 0.5px,#00fffd 24.5px,#00ff35 57.5px,#01ff00 67.5px,#a0ff00 100.5px,#fffd00 124.5px,#ff9300 157.5px,#ff4800 190.5px,#ff1c00 223.5px,#ff0f00 256.5px,#ff1400 272.5px)"></div><div class="L" style="background:linear-gradient(90deg,#005aff 0.5px,#00ffff 24.5px,#00ff32 58.5px,#04ff00 68.5px,#a3ff00 101.5px,#ffff00 124.5px,#ff9300 158.5px,#ff4900 191.5px,#ff1e00 224.5px,#ff1200 257.5px,#ff1600 272.5px);-webkit-mask-image:linear-gradient(180deg,transparent 0.0px,#000 8.0px);mask-image:linear-gradient(180deg,transparent 0.0px,#000 8.0px)"></div><div class="L" style="background:linear-gradient(90deg,#0058ff 0.5px,#00fcff 24.5px,#00ff1e 62.5px,#02ff00 68.5px,#a0ff00 101.5px,#fffe00 125.5px,#ff9500 158.5px,#ff4b00 191.5px,#ff2000 224.5px,#ff1400 257.5px,#ff1800 272.5px);-webkit-mask-image:linear-gradient(180deg,transparent 8.0px,#000 16.0px);mask-image:linear-gradient(180deg,transparent 8.0px,#000 16.0px)"></div><div class="L" style="background:linear-gradient(90deg,#0055ff 0.5px,#00fffd 25.5px,#00ff36 58.5px,#00ff00 68.5px,#a3ff00 102.5px,#fffc00 126.5px,#ff9400 159.5px,#ff4b00 192.5px,#ff2100 225.5px,#ff1600 258.5px,#ff1a00 272.5px);-webkit-mask-image:linear-gradient(180deg,transparent 16.0px,#000 24.0px);mask-image:linear-gradient(180deg,transparent 16.0px,#000 24.0px)"></div><div class="L" style="background:linear-gradient(90deg,#0053ff 0.5px,#00feff 25.5px,#00ff33 59.5px,#03ff00 69.5px,#a0ff00 102.5px,#fffe00 126.5px,#ff9600 159.5px,#ff4d00 192.5px,#ff2300 225.5px,#ff1800 258.5px,#ff1d00 272.5px);-webkit-mask-image:linear-gradient(180deg,transparent 24.0px,#000 32.0px);mask-image:linear-gradient(180deg,transparent 24.0px,#000 32.0px)"></div><div class="L" style="background:linear-gradient(90deg,#0051ff 0.5px,#00fcff 25.5px,#00ff1f 63.5px,#01ff00 69.5px,#9eff00 102.5px,#fffd00 127.5px,#ff9600 160.5px,#ff4e00 193.5px,#ff2400 226.5px,#ff1a00 259.5px,#ff1f00 272.5px);-webkit-mask-image:linear-gradient(180deg,transparent 32.0px,#000 40.0px);mask-image:linear-gradient(180deg,transparent 32.0px,#000 40.0px)"></div><div class="L" style="background:linear-gradient(90deg,#004fff 0.5px,#00fffe 26.5px,#00ff38 59.5px,#04ff00 70.5px,#a0ff00 103.5px,#ffff00 127.5px,#ff9800 160.5px,#ff5000 193.5px,#ff2600 226.5px,#ff1c00 259.5px,#ff2100 272.5px);-webkit-mask-image:linear-gradient(180deg,transparent 40.0px,#000 48.0px);mask-image:linear-gradient(180deg,transparent 40.0px,#000 48.0px)"></div><div class="L" style="background:linear-gradient(90deg,#004cff 0.5px,#00feff 26.5px,#00ff2f 61.5px,#01ff00 70.5px,#9eff00 103.5px,#fffe00 128.5px,#ff9700 161.5px,#ff5000 194.5px,#ff2800 227.5px,#ff1e00 260.5px,#ff2300 272.5px);-webkit-mask-image:linear-gradient(180deg,transparent 48.0px,#000 56.0px);mask-image:linear-gradient(180deg,transparent 48.0px,#000 56.0px)"></div><div class="L" style="background:linear-gradient(90deg,#004aff 0.5px,#00fcff 26.5px,#00ff21 64.5px,#04ff00 71.5px,#a0ff00 104.5px,#fffc00 129.5px,#ff9700 162.5px,#ff5100 195.5px,#ff2900 228.5px,#ff2100 261.5px,#ff2500 272.5px);-webkit-mask-image:linear-gradient(180deg,transparent 56.0px,#000 64.0px);mask-image:linear-gradient(180deg,transparent 56.0px,#000 64.0px)"></div><div class="L" style="background:linear-gradient(90deg,#0048ff 0.5px,#00fffe 27.5px,#00ff39 60.5px,#02ff00 71.5px,#9eff00 104.5px,#ffff00 129.5px,#ff9900 162.5px,#ff5300 195.5px,#ff2b00 228.5px,#ff2300 261.5px,#ff2700 272.5px);-webkit-mask-image:linear-gradient(180deg,transparent 64.0px,#000 72.0px);mask-image:linear-gradient(180deg,transparent 64.0px,#000 72.0px)"></div><div class="L" style="background:linear-gradient(90deg,#0046ff 0.5px,#00feff 27.5px,#00ff30 62.5px,#00ff00 71.5px,#9cff00 104.5px,#fffd00 130.5px,#ff9900 163.5px,#ff5300 196.5px,#ff2d00 229.5px,#ff2500 262.5px,#ff2900 272.5px);-webkit-mask-image:linear-gradient(180deg,transparent 72.0px,#000 80.0px);mask-image:linear-gradient(180deg,transparent 72.0px,#000 80.0px)"></div><div class="L" style="background:linear-gradient(90deg,#0043ff 0.5px,#00fcff 27.5px,#00ff1d 66.5px,#03ff00 72.5px,#9eff00 105.5px,#ffff00 130.5px,#ff9800 164.5px,#ff5400 197.5px,#ff2e00 230.5px,#ff2700 263.5px,#ff2b00 272.5px);-webkit-mask-image:linear-gradient(180deg,transparent 80.0px,#000 88.0px);mask-image:linear-gradient(180deg,transparent 80.0px,#000 88.0px)"></div><div class="L" style="background:linear-gradient(90deg,#0041ff 0.5px,#00fffe 28.5px,#00ff3a 61.5px,#01ff00 72.5px,#9cff00 105.5px,#fffe00 131.5px,#ff9a00 164.5px,#ff5600 197.5px,#ff3000 230.5px,#ff2900 263.5px,#ff2d00 272.5px);-webkit-mask-image:linear-gradient(180deg,transparent 88.0px,#000 96.0px);mask-image:linear-gradient(180deg,transparent 88.0px,#000 96.0px)"></div><div class="L" style="background:linear-gradient(90deg,#003fff 0.5px,#00feff 28.5px,#00ff31 63.5px,#04ff00 73.5px,#9eff00 106.5px,#fffd00 132.5px,#ff9a00 165.5px,#ff5600 198.5px,#ff3100 231.5px,#ff2c00 264.5px,#ff2f00 272.5px);-webkit-mask-image:linear-gradient(180deg,transparent 96.0px,#000 104.0px);mask-image:linear-gradient(180deg,transparent 96.0px,#000 104.0px)"></div><div class="L" style="background:linear-gradient(90deg,#003dff 0.5px,#00fcff 28.5px,#00ff1e 67.5px,#02ff00 73.5px,#9cff00 106.5px,#ffff00 132.5px,#ff9c00 165.5px,#ff5800 198.5px,#ff3400 231.5px,#ff2e00 264.5px,#ff3100 272.5px);-webkit-mask-image:linear-gradient(180deg,transparent 104.0px,#000 112.0px);mask-image:linear-gradient(180deg,transparent 104.0px,#000 112.0px)"></div><div class="L" style="background:linear-gradient(90deg,#003aff 0.5px,#00fffe 29.5px,#00ff3b 62.5px,#00ff01 73.5px,#9eff00 107.5px,#fffd00 133.5px,#ff9c00 166.5px,#ff5900 199.5px,#ff3500 232.5px,#ff3000 265.5px,#ff3300 272.5px);-webkit-mask-image:linear-gradient(180deg,transparent 112.0px,#000 120.0px);mask-image:linear-gradient(180deg,transparent 112.0px,#000 120.0px)"></div><div class="L" style="background:linear-gradient(90deg,#0038ff 0.5px,#00fdff 29.5px,#00ff2d 65.5px,#02ff00 74.5px,#9cff00 107.5px,#feff00 133.5px,#ff9b00 167.5px,#ff5900 200.5px,#ff3600 233.5px,#ff3200 266.5px,#ff3500 272.5px);-webkit-mask-image:linear-gradient(180deg,transparent 120.0px,#000 128.0px);mask-image:linear-gradient(180deg,transparent 120.0px,#000 128.0px)"></div><div class="L" style="background:linear-gradient(90deg,#0036ff 0.5px,#00fbff 29.5px,#00ff1a 69.5px,#00ff00 74.5px,#99ff00 107.5px,#fffe00 134.5px,#ff9d00 167.5px,#ff5b00 200.5px,#ff3900 233.5px,#ff3500 266.5px,#ff3700 272.5px);-webkit-mask-image:linear-gradient(180deg,transparent 128.0px,#000 136.0px);mask-image:linear-gradient(180deg,transparent 128.0px,#000 136.0px)"></div><div class="L" style="background:linear-gradient(90deg,#0034ff 0.5px,#00ffff 30.5px,#00ff3c 63.5px,#03ff00 75.5px,#9bff00 108.5px,#fffd00 135.5px,#ff9d00 168.5px,#ff5c00 201.5px,#ff3a00 234.5px,#ff3700 267.5px,#ff3900 272.5px);-webkit-mask-image:linear-gradient(180deg,transparent 136.0px,#000 144.0px);mask-image:linear-gradient(180deg,transparent 136.0px,#000 144.0px)"></div><div class="L" style="background:linear-gradient(90deg,#0031ff 0.5px,#00fdff 30.5px,#00ff2e 66.5px,#01ff00 75.5px,#99ff00 108.5px,#ffff00 135.5px,#ff9f00 168.5px,#ff5e00 201.5px,#ff3c00 234.5px,#ff3900 267.5px,#ff3b00 272.5px);-webkit-mask-image:linear-gradient(180deg,transparent 144.0px,#000 152.0px);mask-image:linear-gradient(180deg,transparent 144.0px,#000 152.0px)"></div><div class="L" style="background:linear-gradient(90deg,#002fff 0.5px,#00fbff 30.5px,#00ff1b 70.5px,#04ff00 76.5px,#9bff00 109.5px,#fffe00 136.5px,#ff9f00 169.5px,#ff5f00 202.5px,#ff3e00 235.5px,#ff3b00 268.5px,#ff3d00 272.5px);-webkit-mask-image:linear-gradient(180deg,transparent 152.0px,#000 160.0px);mask-image:linear-gradient(180deg,transparent 152.0px,#000 160.0px)"></div><div class="L" style="background:linear-gradient(90deg,#002dff 0.5px,#00ffff 31.5px,#00ff3d 64.5px,#02ff00 76.5px,#99ff00 109.5px,#feff00 136.5px,#ff9c00 171.5px,#ff5e00 204.5px,#ff3f00 237.5px,#ff3e00 270.5px,#ff3f00 272.5px);-webkit-mask-image:linear-gradient(180deg,transparent 160.0px,#000 168.0px);mask-image:linear-gradient(180deg,transparent 160.0px,#000 168.0px)"></div><div class="L" style="background:linear-gradient(90deg,#002bff 0.5px,#00fdff 31.5px,#00ff2a 68.5px,#00ff01 76.5px,#9bff00 110.5px,#ffff00 137.5px,#ffa100 170.5px,#ff6100 203.5px,#ff4100 236.5px,#ff4000 269.5px,#ff4100 272.5px);-webkit-mask-image:linear-gradient(180deg,transparent 168.0px,#000 176.0px);mask-image:linear-gradient(180deg,transparent 168.0px,#000 176.0px)"></div><div class="L" style="background:linear-gradient(90deg,#0029ff 0.5px,#00fbff 31.5px,#00ffa7 46.5px,#00ff03 76.5px,#a9ff00 114.5px,#fffe00 138.5px,#ffa000 171.5px,#ff6200 204.5px,#ff4300 237.5px,#ff4200 270.5px,#ff4300 272.5px);-webkit-mask-image:linear-gradient(180deg,transparent 176.0px,#000 184.0px);mask-image:linear-gradient(180deg,transparent 176.0px,#000 184.0px)"></div><div class="L" style="background:linear-gradient(90deg,#0026ff 0.5px,#00ffff 32.5px,#00ff3e 65.5px,#00ff00 77.5px,#97ff00 110.5px,#feff00 138.5px,#ff9e00 173.5px,#ff6100 206.5px,#ff4400 239.5px,#ff4500 272.5px);-webkit-mask-image:linear-gradient(180deg,transparent 184.0px,#000 192.0px);mask-image:linear-gradient(180deg,transparent 184.0px,#000 192.0px)"></div><div class="L" style="background:linear-gradient(90deg,#0024ff 0.5px,#00fdff 32.5px,#00ff2b 69.5px,#03ff00 78.5px,#99ff00 111.5px,#ffff00 139.5px,#ffa200 172.5px,#ff6500 205.5px,#ff4600 238.5px,#ff4700 271.5px,#ff4700 272.5px);-webkit-mask-image:linear-gradient(180deg,transparent 192.0px,#000 200.0px);mask-image:linear-gradient(180deg,transparent 192.0px,#000 200.0px)"></div><div class="L" style="background:linear-gradient(90deg,#0022ff 0.5px,#00faff 32.5px,#00ffd2 40.5px,#00ff19 73.5px,#01ff00 78.5px,#97ff00 111.5px,#fffe00 140.5px,#ffa200 173.5px,#ff6500 206.5px,#ff4800 239.5px,#ff4900 272.5px);-webkit-mask-image:linear-gradient(180deg,transparent 200.0px,#000 208.0px);mask-image:linear-gradient(180deg,transparent 200.0px,#000 208.0px)"></div><div class="L" style="background:linear-gradient(90deg,#0020ff 0.5px,#00ffff 33.5px,#00ff3a 67.5px,#04ff00 79.5px,#98ff00 112.5px,#feff00 140.5px,#ffa200 174.5px,#ff6600 207.5px,#ff4a00 240.5px,#ff4b00 272.5px);-webkit-mask-image:linear-gradient(180deg,transparent 208.0px,#000 216.0px);mask-image:linear-gradient(180deg,transparent 208.0px,#000 216.0px)"></div><div class="L" style="background:linear-gradient(90deg,#001dff 0.5px,#00fcff 33.5px,#00ff27 71.5px,#01ff00 79.5px,#96ff00 112.5px,#ffff00 141.5px,#ffa400 174.5px,#ff6800 207.5px,#ff4c00 240.5px,#ff4d00 272.5px);-webkit-mask-image:linear-gradient(180deg,transparent 216.0px,#000 224.0px);mask-image:linear-gradient(180deg,transparent 216.0px,#000 224.0px)"></div><div class="L" style="background:linear-gradient(90deg,#001bff 0.5px,#00faff 33.5px,#00ffe5 38.5px,#00ff29 71.5px,#04ff00 80.5px,#98ff00 113.5px,#fffd00 142.5px,#ffa400 175.5px,#ff6900 208.5px,#ff4d00 241.5px,#ff4f00 272.5px);-webkit-mask-image:linear-gradient(180deg,transparent 224.0px,#000 232.0px);mask-image:linear-gradient(180deg,transparent 224.0px,#000 232.0px)"></div><div class="L" style="background:linear-gradient(90deg,#0019ff 0.5px,#00f8ff 33.5px,#00fff3 36.5px,#00ff36 69.5px,#02ff00 80.5px,#96ff00 113.5px,#feff00 142.5px,#ffa400 176.5px,#ff6a00 209.5px,#ff4f00 242.5px,#ff5100 272.5px);-webkit-mask-image:linear-gradient(180deg,transparent 232.0px,#000 240.0px);mask-image:linear-gradient(180deg,transparent 232.0px,#000 240.0px)"></div><div class="L" style="background:linear-gradient(90deg,#0017ff 0.5px,#00f6ff 33.5px,#00fff5 36.5px,#00ff38 69.5px,#00ff00 80.5px,#94ff00 113.5px,#fffe00 143.5px,#ffa600 176.5px,#ff6c00 209.5px,#ff5100 242.5px,#ff5300 272.5px);-webkit-mask-image:linear-gradient(180deg,transparent 240.0px,#000 248.0px);mask-image:linear-gradient(180deg,transparent 240.0px,#000 248.0px)"></div><div class="L" style="background:linear-gradient(90deg,#0015ff 0.5px,#00f4ff 33.5px,#00fff8 36.5px,#00ff3a 69.5px,#03ff00 81.5px,#96ff00 114.5px,#fdff00 143.5px,#ffa100 179.5px,#ff6a00 212.5px,#ff5200 245.5px,#ff5500 272.5px);-webkit-mask-image:linear-gradient(180deg,transparent 248.0px,#000 256.0px);mask-image:linear-gradient(180deg,transparent 248.0px,#000 256.0px)"></div><div class="L" style="background:linear-gradient(90deg,#0012ff 0.5px,#00f1ff 33.5px,#00fffa 36.5px,#00ff3d 69.5px,#01ff00 81.5px,#94ff00 114.5px,#feff00 144.5px,#ffa500 178.5px,#ff6d00 211.5px,#ff5400 244.5px,#ff5700 272.5px);-webkit-mask-image:linear-gradient(180deg,transparent 256.0px,#000 264.0px);mask-image:linear-gradient(180deg,transparent 256.0px,#000 264.0px)"></div><div class="L" style="background:linear-gradient(90deg,#0010ff 0.5px,#00efff 33.5px,#00fffc 36.5px,#00ff3f 69.5px,#03ff00 82.5px,#96ff00 115.5px,#ffff00 145.5px,#ffa700 178.5px,#ff6f00 211.5px,#ff5600 244.5px,#ff5900 272.5px);-webkit-mask-image:linear-gradient(180deg,transparent 264.0px,#000 272.0px);mask-image:linear-gradient(180deg,transparent 264.0px,#000 272.0px)"></div><div class="L" style="background:linear-gradient(90deg,#0010ff 0.5px,#00efff 33.5px,#00fffc 36.5px,#00ff3f 69.5px,#03ff00 82.5px,#95ff00 115.5px,#ffff00 145.5px,#ffa800 178.5px,#ff7000 211.5px,#ff5700 244.5px,#ff5a00 272.5px);-webkit-mask-image:linear-gradient(180deg,transparent 272.0px,#000 272.8px);mask-image:linear-gradient(180deg,transparent 272.0px,#000 272.8px)"></div></div><div class="F" style="left:403.50px;top:1328.40px;width:272.20px;height:271.90px"><div class="L" style="background:linear-gradient(90deg,#0089ff 0.5px,#00feff 12.5px,#00ff8c 27.5px,#00ff30 43.5px,#00ff00 54.5px,#42ff00 75.5px,#72ff00 102.5px,#9bff00 149.5px,#b8ff00 217.5px,#acff00 248.5px,#8aff00 270.5px,#85ff00 272.5px)"></div><div class="L" style="background:linear-gradient(90deg,#008dff 0.5px,#00f9ff 11.5px,#00fff4 13.5px,#00ff83 28.5px,#00ff24 45.5px,#02ff00 54.5px,#43ff00 75.5px,#76ff00 103.5px,#a2ff00 153.5px,#c3ff00 220.5px,#baff00 250.5px,#99ff00 272.5px);-webkit-mask-image:linear-gradient(180deg,transparent 0.0px,#000 8.0px);mask-image:linear-gradient(180deg,transparent 0.0px,#000 8.0px)"></div><div class="L" style="background:linear-gradient(90deg,#0091ff 0.5px,#00fbff 11.5px,#00ff7b 29.5px,#00ff1f 46.5px,#03ff00 54.5px,#44ff00 75.5px,#77ff00 103.5px,#a8ff00 156.5px,#ceff00 223.5px,#c6ff00 253.5px,#abff00 272.5px);-webkit-mask-image:linear-gradient(180deg,transparent 8.0px,#000 16.0px);mask-image:linear-gradient(180deg,transparent 8.0px,#000 16.0px)"></div><div class="L" style="background:linear-gradient(90deg,#0094ff 0.5px,#00feff 11.5px,#00ff87 27.5px,#00ff28 44.5px,#03ff00 54.5px,#46ff00 76.5px,#7aff00 105.5px,#b5ff00 169.5px,#d9ff00 228.5px,#d2ff00 256.5px,#bcff00 272.5px);-webkit-mask-image:linear-gradient(180deg,transparent 16.0px,#000 24.0px);mask-image:linear-gradient(180deg,transparent 16.0px,#000 24.0px)"></div><div class="L" style="background:linear-gradient(90deg,#0097ff 0.5px,#00fffe 11.5px,#00ff8c 26.5px,#00ff2c 43.5px,#03ff00 54.5px,#46ff00 76.5px,#7aff00 105.5px,#c0ff00 178.5px,#e3ff00 231.5px,#dcff00 259.5px,#ccff00 272.5px);-webkit-mask-image:linear-gradient(180deg,transparent 24.0px,#000 32.0px);mask-image:linear-gradient(180deg,transparent 24.0px,#000 32.0px)"></div><div class="L" style="background:linear-gradient(90deg,#0099ff 0.5px,#00fffd 11.5px,#00ff8c 26.5px,#00ff2d 43.5px,#02ff00 54.5px,#45ff00 76.5px,#7aff00 106.5px,#d8ff00 202.5px,#eeff00 242.5px,#e1ff00 267.5px,#daff00 272.5px);-webkit-mask-image:linear-gradient(180deg,transparent 32.0px,#000 40.0px);mask-image:linear-gradient(180deg,transparent 32.0px,#000 40.0px)"></div><div class="L" style="background:linear-gradient(90deg,#009bff 0.5px,#00faff 10.5px,#00ffeb 13.5px,#00ff7f 28.5px,#00ff25 45.5px,#01ff00 54.5px,#43ff00 76.5px,#79ff00 106.5px,#eaff00 218.5px,#f7ff00 251.5px,#e7ff00 272.5px);-webkit-mask-image:linear-gradient(180deg,transparent 40.0px,#000 48.0px);mask-image:linear-gradient(180deg,transparent 40.0px,#000 48.0px)"></div><div class="L" style="background:linear-gradient(90deg,#009dff 0.5px,#00faff 10.5px,#00ffc4 18.5px,#00ff5d 34.5px,#00ff09 52.5px,#06ff00 56.5px,#48ff00 79.5px,#7fff00 112.5px,#f7ff00 228.5px,#feff00 258.5px,#f3ff00 272.5px);-webkit-mask-image:linear-gradient(180deg,transparent 48.0px,#000 56.0px);mask-image:linear-gradient(180deg,transparent 48.0px,#000 56.0px)"></div><div class="L" style="background:linear-gradient(90deg,#009fff 0.5px,#00fbff 10.5px,#00ff7b 29.5px,#00ff1f 47.5px,#04ff00 56.5px,#45ff00 79.5px,#7dff00 112.5px,#ffff00 231.5px,#fff800 260.5px,#feff00 272.5px);-webkit-mask-image:linear-gradient(180deg,transparent 56.0px,#000 64.0px);mask-image:linear-gradient(180deg,transparent 56.0px,#000 64.0px)"></div><div class="L" style="background:linear-gradient(90deg,#00a0ff 0.5px,#00fbff 10.5px,#00ff7c 29.5px,#00ff22 47.5px,#01ff00 56.5px,#44ff00 80.5px,#7eff00 115.5px,#fffd00 228.5px,#ffef00 258.5px,#fff600 272.5px);-webkit-mask-image:linear-gradient(180deg,transparent 64.0px,#000 72.0px);mask-image:linear-gradient(180deg,transparent 64.0px,#000 72.0px)"></div><div class="L" style="background:linear-gradient(90deg,#00a1ff 0.5px,#00fbff 10.5px,#00ff7e 29.5px,#00ff25 47.5px,#01ff00 57.5px,#42ff00 81.5px,#7eff00 118.5px,#fffd00 225.5px,#ffe900 257.5px,#ffee00 272.5px);-webkit-mask-image:linear-gradient(180deg,transparent 72.0px,#000 80.0px);mask-image:linear-gradient(180deg,transparent 72.0px,#000 80.0px)"></div><div class="L" style="background:linear-gradient(90deg,#00a1ff 0.5px,#00faff 10.5px,#00ffce 17.5px,#00ff6a 33.5px,#00ff14 52.5px,#04ff00 59.5px,#45ff00 84.5px,#83ff00 125.5px,#fffc00 223.5px,#ffe300 256.5px,#ffe600 272.5px);-webkit-mask-image:linear-gradient(180deg,transparent 80.0px,#000 88.0px);mask-image:linear-gradient(180deg,transparent 80.0px,#000 88.0px)"></div><div class="L" style="background:linear-gradient(90deg,#00a2ff 0.5px,#00fffd 11.5px,#00ff8e 27.5px,#00ff34 45.5px,#03ff00 60.5px,#44ff00 86.5px,#88ff00 132.5px,#fffc00 222.5px,#ffde00 255.5px,#ffdf00 272.5px);-webkit-mask-image:linear-gradient(180deg,transparent 88.0px,#000 96.0px);mask-image:linear-gradient(180deg,transparent 88.0px,#000 96.0px)"></div><div class="L" style="background:linear-gradient(90deg,#00a2ff 0.5px,#00fffe 11.5px,#00ff91 27.5px,#00ff37 45.5px,#02ff00 61.5px,#43ff00 88.5px,#91ff00 142.5px,#fffc00 221.5px,#ffda00 255.5px,#ffda00 272.5px);-webkit-mask-image:linear-gradient(180deg,transparent 96.0px,#000 104.0px);mask-image:linear-gradient(180deg,transparent 96.0px,#000 104.0px)"></div><div class="L" style="background:linear-gradient(90deg,#00a2ff 0.5px,#00ffff 11.5px,#00ff94 27.5px,#00ff3b 45.5px,#01ff00 62.5px,#40ff00 89.5px,#fffc00 221.5px,#ffd700 255.5px,#ffd500 272.5px);-webkit-mask-image:linear-gradient(180deg,transparent 104.0px,#000 112.0px);mask-image:linear-gradient(180deg,transparent 104.0px,#000 112.0px)"></div><div class="L" style="background:linear-gradient(90deg,#00a1ff 0.5px,#00fdff 11.5px,#00ff8c 29.5px,#00ff34 48.5px,#01ff00 64.5px,#42ff00 93.5px,#eeff00 208.5px,#fffa00 222.5px,#ffd400 256.5px,#ffd000 272.5px);-webkit-mask-image:linear-gradient(180deg,transparent 112.0px,#000 120.0px);mask-image:linear-gradient(180deg,transparent 112.0px,#000 120.0px)"></div><div class="L" style="background:linear-gradient(90deg,#00a0ff 0.5px,#00fbff 11.5px,#00ff85 31.5px,#00ff31 50.5px,#02ff00 66.5px,#42ff00 96.5px,#dcff00 198.5px,#fffc00 221.5px,#ffd200 256.5px,#ffcd00 272.5px);-webkit-mask-image:linear-gradient(180deg,transparent 120.0px,#000 128.0px);mask-image:linear-gradient(180deg,transparent 120.0px,#000 128.0px)"></div><div class="L" style="background:linear-gradient(90deg,#00a0ff 0.5px,#00fffe 12.5px,#00ff98 28.5px,#00ff41 47.5px,#00ff01 67.5px,#44ff00 101.5px,#d1ff00 193.5px,#fffb00 222.5px,#ffcf00 257.5px,#ffca00 272.5px);-webkit-mask-image:linear-gradient(180deg,transparent 128.0px,#000 136.0px);mask-image:linear-gradient(180deg,transparent 128.0px,#000 136.0px)"></div><div class="L" style="background:linear-gradient(90deg,#009eff 0.5px,#00feff 12.5px,#00ff92 30.5px,#00ff3e 49.5px,#01ff00 70.5px,#43ff00 104.5px,#c8ff00 189.5px,#fffc00 222.5px,#ffce00 257.5px,#ffc800 272.5px);-webkit-mask-image:linear-gradient(180deg,transparent 136.0px,#000 144.0px);mask-image:linear-gradient(180deg,transparent 136.0px,#000 144.0px)"></div><div class="L" style="background:linear-gradient(90deg,#009dff 0.5px,#00fbff 12.5px,#00ff8c 32.5px,#00ff39 52.5px,#00ff00 72.5px,#46ff00 109.5px,#c1ff00 187.5px,#fffc00 223.5px,#ffce00 257.5px,#ffc600 272.5px);-webkit-mask-image:linear-gradient(180deg,transparent 144.0px,#000 152.0px);mask-image:linear-gradient(180deg,transparent 144.0px,#000 152.0px)"></div><div class="L" style="background:linear-gradient(90deg,#009cff 0.5px,#00ffff 13.5px,#00ff9a 30.5px,#00ff45 50.5px,#00ff01 74.5px,#4eff00 118.5px,#c2ff00 189.5px,#fffb00 224.5px,#ffcc00 258.5px,#ffc500 272.5px);-webkit-mask-image:linear-gradient(180deg,transparent 152.0px,#000 160.0px);mask-image:linear-gradient(180deg,transparent 152.0px,#000 160.0px)"></div><div class="L" style="background:linear-gradient(90deg,#009aff 0.5px,#00fcff 13.5px,#00ff90 33.5px,#00ff3d 54.5px,#00ff00 77.5px,#50ff00 123.5px,#c0ff00 190.5px,#fffb00 225.5px,#ffcc00 259.5px,#ffc500 272.5px);-webkit-mask-image:linear-gradient(180deg,transparent 160.0px,#000 168.0px);mask-image:linear-gradient(180deg,transparent 160.0px,#000 168.0px)"></div><div class="L" style="background:linear-gradient(90deg,#0098ff 0.5px,#00fffe 14.5px,#00ff9e 31.5px,#00ff4d 51.5px,#00ff06 77.5px,#0dff00 86.5px,#b6ff00 186.5px,#fffb00 226.5px,#ffcc00 259.5px,#ffc500 272.5px);-webkit-mask-image:linear-gradient(180deg,transparent 168.0px,#000 176.0px);mask-image:linear-gradient(180deg,transparent 168.0px,#000 176.0px)"></div><div class="L" style="background:linear-gradient(90deg,#0096ff 0.5px,#00fcff 14.5px,#00ff95 34.5px,#00ff45 55.5px,#00ff01 82.5px,#afff00 184.5px,#fffd00 226.5px,#ffcd00 259.5px,#ffc500 272.5px);-webkit-mask-image:linear-gradient(180deg,transparent 176.0px,#000 184.0px);mask-image:linear-gradient(180deg,transparent 176.0px,#000 184.0px)"></div><div class="L" style="background:linear-gradient(90deg,#0094ff 0.5px,#00ffff 15.5px,#00ff9e 33.5px,#00ff4e 54.5px,#00ff07 82.5px,#0bff00 91.5px,#a6ff00 181.5px,#fffd00 227.5px,#ffcc00 260.5px,#ffc500 272.5px);-webkit-mask-image:linear-gradient(180deg,transparent 184.0px,#000 192.0px);mask-image:linear-gradient(180deg,transparent 184.0px,#000 192.0px)"></div><div class="L" style="background:linear-gradient(90deg,#0092ff 0.5px,#00fcff 15.5px,#00ff91 37.5px,#00ff41 60.5px,#01ff00 89.5px,#a1ff00 180.5px,#fffc00 228.5px,#ffcd00 260.5px,#ffc600 272.5px);-webkit-mask-image:linear-gradient(180deg,transparent 192.0px,#000 200.0px);mask-image:linear-gradient(180deg,transparent 192.0px,#000 200.0px)"></div><div class="L" style="background:linear-gradient(90deg,#008fff 0.5px,#00feff 16.5px,#00ff9a 36.5px,#00ff4a 59.5px,#00ff00 91.5px,#9aff00 178.5px,#fffc00 229.5px,#ffce00 261.5px,#ffc700 272.5px);-webkit-mask-image:linear-gradient(180deg,transparent 200.0px,#000 208.0px);mask-image:linear-gradient(180deg,transparent 200.0px,#000 208.0px)"></div><div class="L" style="background:linear-gradient(90deg,#008dff 0.5px,#00faff 16.5px,#00ffe2 22.5px,#00ff87 42.5px,#00ff3a 67.5px,#02ff00 95.5px,#97ff00 178.5px,#fffc00 230.5px,#ffcf00 261.5px,#ffc800 272.5px);-webkit-mask-image:linear-gradient(180deg,transparent 208.0px,#000 216.0px);mask-image:linear-gradient(180deg,transparent 208.0px,#000 216.0px)"></div><div class="L" style="background:linear-gradient(90deg,#008aff 0.5px,#00f6ff 16.5px,#00fff6 19.5px,#00ff9c 38.5px,#00ff4c 62.5px,#00ff01 96.5px,#8fff00 175.5px,#fffd00 230.5px,#ffd000 261.5px,#ffc900 272.5px);-webkit-mask-image:linear-gradient(180deg,transparent 216.0px,#000 224.0px);mask-image:linear-gradient(180deg,transparent 216.0px,#000 224.0px)"></div><div class="L" style="background:linear-gradient(90deg,#0088ff 0.5px,#00f8ff 17.5px,#00fff5 20.5px,#00ff98 40.5px,#00ff49 65.5px,#00ff00 99.5px,#93ff00 178.5px,#fffe00 230.5px,#ffd100 261.5px,#ffcb00 272.5px);-webkit-mask-image:linear-gradient(180deg,transparent 224.0px,#000 232.0px);mask-image:linear-gradient(180deg,transparent 224.0px,#000 232.0px)"></div><div class="L" style="background:linear-gradient(90deg,#0085ff 0.5px,#00f5ff 17.5px,#00fff9 20.5px,#00ff9d 40.5px,#00ff4e 65.5px,#00ff00 101.5px,#92ff00 178.5px,#fffd00 231.5px,#ffd200 261.5px,#ffcc00 272.5px);-webkit-mask-image:linear-gradient(180deg,transparent 232.0px,#000 240.0px);mask-image:linear-gradient(180deg,transparent 232.0px,#000 240.0px)"></div><div class="L" style="background:linear-gradient(90deg,#0082ff 0.5px,#00f1ff 17.5px,#00fff7 21.5px,#00ff9e 41.5px,#00ff4d 67.5px,#00ff00 103.5px,#95ff00 180.5px,#fffd00 231.5px,#ffd300 261.5px,#ffcd00 272.5px);-webkit-mask-image:linear-gradient(180deg,transparent 240.0px,#000 248.0px);mask-image:linear-gradient(180deg,transparent 240.0px,#000 248.0px)"></div><div class="L" style="background:linear-gradient(90deg,#0080ff 0.5px,#00edff 17.5px,#00fffb 21.5px,#00ff9e 42.5px,#00ff4e 68.5px,#01ff00 105.5px,#99ff00 182.5px,#fffd00 231.5px,#ffd400 261.5px,#ffce00 272.5px);-webkit-mask-image:linear-gradient(180deg,transparent 248.0px,#000 256.0px);mask-image:linear-gradient(180deg,transparent 248.0px,#000 256.0px)"></div><div class="L" style="background:linear-gradient(90deg,#007dff 0.5px,#00e9ff 17.5px,#00ffff 21.5px,#00ffa2 42.5px,#00ff50 69.5px,#00ff00 106.5px,#9eff00 184.5px,#fffe00 230.5px,#ffd500 260.5px,#ffcf00 272.5px);-webkit-mask-image:linear-gradient(180deg,transparent 256.0px,#000 264.0px);mask-image:linear-gradient(180deg,transparent 256.0px,#000 264.0px)"></div><div class="L" style="background:linear-gradient(90deg,#007aff 0.5px,#00e6ff 17.5px,#00fffe 22.5px,#00ffa2 43.5px,#00ff50 70.5px,#02ff00 108.5px,#aaff00 189.5px,#fffd00 230.5px,#ffd600 259.5px,#ffd000 272.5px);-webkit-mask-image:linear-gradient(180deg,transparent 264.0px,#000 271.9px);mask-image:linear-gradient(180deg,transparent 264.0px,#000 271.9px)"></div></div><svg width="685" height="1646" viewBox="0 0 685 1646"><path d="M51.2 252.4 73.0 12.3 M85.1 285.0 101.2 139.4 116.4 12.3 M132.0 285.0 144.3 205.4 156.8 132.0 168.8 68.9 181.0 12.3 M212.2 285.0 218.3 270.8 224.3 258.6 230.3 248.3 236.3 239.9 242.3 233.3 248.3 228.5 254.3 225.6 257.4 224.9 260.9 224.6 266.9 225.5 272.9 228.2 278.9 232.8 285.4 239.7 291.4 248.0 297.9 258.9 303.9 270.8 310.2 285.0" fill="none" stroke="#1e1e1e" stroke-width="0.75"/><rect x="51.20" y="12.30" width="272.70" height="272.70" fill="none" stroke="#666" stroke-width="0.9"/><line x1="51.20" y1="285.00" x2="51.20" y2="291.00" stroke="#8c8c8c" stroke-width="0.9"/><line x1="90.16" y1="285.00" x2="90.16" y2="291.00" stroke="#8c8c8c" stroke-width="0.9"/><line x1="129.11" y1="285.00" x2="129.11" y2="291.00" stroke="#8c8c8c" stroke-width="0.9"/><line x1="168.07" y1="285.00" x2="168.07" y2="291.00" stroke="#8c8c8c" stroke-width="0.9"/><line x1="207.03" y1="285.00" x2="207.03" y2="291.00" stroke="#8c8c8c" stroke-width="0.9"/><line x1="245.99" y1="285.00" x2="245.99" y2="291.00" stroke="#8c8c8c" stroke-width="0.9"/><line x1="284.94" y1="285.00" x2="284.94" y2="291.00" stroke="#8c8c8c" stroke-width="0.9"/><line x1="323.90" y1="285.00" x2="323.90" y2="291.00" stroke="#8c8c8c" stroke-width="0.9"/><line x1="44.70" y1="285.00" x2="51.20" y2="285.00" stroke="#8c8c8c" stroke-width="0.9"/><line x1="44.70" y1="230.46" x2="51.20" y2="230.46" stroke="#8c8c8c" stroke-width="0.9"/><line x1="44.70" y1="175.92" x2="51.20" y2="175.92" stroke="#8c8c8c" stroke-width="0.9"/><line x1="44.70" y1="121.38" x2="51.20" y2="121.38" stroke="#8c8c8c" stroke-width="0.9"/><line x1="44.70" y1="66.84" x2="51.20" y2="66.84" stroke="#8c8c8c" stroke-width="0.9"/><line x1="44.70" y1="12.30" x2="51.20" y2="12.30" stroke="#8c8c8c" stroke-width="0.9"/><path d="M432.6 284.8 431.6 12.3 M467.2 284.8 466.1 12.3 M513.8 284.8 512.4 12.3" fill="none" stroke="#1e1e1e" stroke-width="0.75"/><rect x="403.40" y="12.30" width="272.40" height="272.50" fill="none" stroke="#666" stroke-width="0.9"/><line x1="403.40" y1="284.80" x2="403.40" y2="290.80" stroke="#8c8c8c" stroke-width="0.9"/><line x1="442.31" y1="284.80" x2="442.31" y2="290.80" stroke="#8c8c8c" stroke-width="0.9"/><line x1="481.23" y1="284.80" x2="481.23" y2="290.80" stroke="#8c8c8c" stroke-width="0.9"/><line x1="520.14" y1="284.80" x2="520.14" y2="290.80" stroke="#8c8c8c" stroke-width="0.9"/><line x1="559.06" y1="284.80" x2="559.06" y2="290.80" stroke="#8c8c8c" stroke-width="0.9"/><line x1="597.97" y1="284.80" x2="597.97" y2="290.80" stroke="#8c8c8c" stroke-width="0.9"/><line x1="636.89" y1="284.80" x2="636.89" y2="290.80" stroke="#8c8c8c" stroke-width="0.9"/><line x1="675.80" y1="284.80" x2="675.80" y2="290.80" stroke="#8c8c8c" stroke-width="0.9"/><line x1="396.90" y1="284.80" x2="403.40" y2="284.80" stroke="#8c8c8c" stroke-width="0.9"/><line x1="396.90" y1="230.30" x2="403.40" y2="230.30" stroke="#8c8c8c" stroke-width="0.9"/><line x1="396.90" y1="175.80" x2="403.40" y2="175.80" stroke="#8c8c8c" stroke-width="0.9"/><line x1="396.90" y1="121.30" x2="403.40" y2="121.30" stroke="#8c8c8c" stroke-width="0.9"/><line x1="396.90" y1="66.80" x2="403.40" y2="66.80" stroke="#8c8c8c" stroke-width="0.9"/><line x1="396.90" y1="12.30" x2="403.40" y2="12.30" stroke="#8c8c8c" stroke-width="0.9"/><path d="M197.2 612.4 191.8 604.9 185.7 597.9 179.7 592.1 173.2 587.2 166.7 583.6 159.7 580.8 152.7 579.3 145.7 578.8 138.2 579.4 130.7 581.0 122.7 583.7 114.7 587.3 106.2 592.2 97.7 597.9 89.2 604.4 80.0 612.4 M255.7 612.4 248.1 581.4 239.9 554.4 231.3 531.6 226.8 521.7 222.0 512.4 217.3 504.5 212.3 497.3 207.0 490.9 201.5 485.4 196.0 480.9 190.3 477.3 184.2 474.6 178.2 472.9 171.7 472.1 165.2 472.2 158.7 473.2 151.7 475.2 144.7 477.9 137.2 481.8 129.7 486.4 122.2 491.8 114.2 498.3 106.2 505.4 88.7 523.3 70.7 544.3 51.2 569.6 M293.5 612.4 286.3 556.9 278.5 508.9 274.3 487.7 269.8 467.6 265.2 449.8 260.3 433.1 255.3 418.5 249.8 404.8 244.3 393.3 238.3 382.8 232.3 374.3 225.8 367.0 219.3 361.5 212.3 357.4 204.8 354.7 197.3 353.6 189.3 354.0 181.2 355.8 172.7 359.1 163.7 364.0 154.2 370.5 144.7 378.2 134.7 387.5 124.2 398.4 113.2 411.0 101.7 425.2 89.7 441.0 77.7 457.8 51.2 497.6 M102.6 339.8 78.2 379.4 51.2 426.1 M323.8 612.4 317.8 527.0 314.5 488.9 310.9 453.8 307.2 421.8 303.1 391.8 298.8 364.5 294.2 339.8" fill="none" stroke="#1e1e1e" stroke-width="0.75"/><rect x="51.20" y="339.80" width="272.60" height="272.60" fill="none" stroke="#666" stroke-width="0.9"/><line x1="51.20" y1="612.40" x2="51.20" y2="618.40" stroke="#8c8c8c" stroke-width="0.9"/><line x1="90.14" y1="612.40" x2="90.14" y2="618.40" stroke="#8c8c8c" stroke-width="0.9"/><line x1="129.09" y1="612.40" x2="129.09" y2="618.40" stroke="#8c8c8c" stroke-width="0.9"/><line x1="168.03" y1="612.40" x2="168.03" y2="618.40" stroke="#8c8c8c" stroke-width="0.9"/><line x1="206.97" y1="612.40" x2="206.97" y2="618.40" stroke="#8c8c8c" stroke-width="0.9"/><line x1="245.91" y1="612.40" x2="245.91" y2="618.40" stroke="#8c8c8c" stroke-width="0.9"/><line x1="284.86" y1="612.40" x2="284.86" y2="618.40" stroke="#8c8c8c" stroke-width="0.9"/><line x1="323.80" y1="612.40" x2="323.80" y2="618.40" stroke="#8c8c8c" stroke-width="0.9"/><line x1="44.70" y1="612.40" x2="51.20" y2="612.40" stroke="#8c8c8c" stroke-width="0.9"/><line x1="44.70" y1="557.88" x2="51.20" y2="557.88" stroke="#8c8c8c" stroke-width="0.9"/><line x1="44.70" y1="503.36" x2="51.20" y2="503.36" stroke="#8c8c8c" stroke-width="0.9"/><line x1="44.70" y1="448.84" x2="51.20" y2="448.84" stroke="#8c8c8c" stroke-width="0.9"/><line x1="44.70" y1="394.32" x2="51.20" y2="394.32" stroke="#8c8c8c" stroke-width="0.9"/><line x1="44.70" y1="339.80" x2="51.20" y2="339.80" stroke="#8c8c8c" stroke-width="0.9"/><path d="M564.6 612.1 553.4 605.1 542.9 599.2 532.3 594.1 522.3 589.9 512.8 586.6 503.8 584.4 494.8 582.9 486.3 582.4 478.3 582.8 470.3 584.2 462.8 586.5 455.8 589.7 448.8 593.8 442.3 598.8 435.8 605.0 429.6 612.1 M662.3 612.1 609.9 551.5 586.4 525.4 564.9 502.3 545.4 482.0 526.8 463.7 509.8 447.8 493.8 433.9 478.8 421.9 465.3 412.4 452.8 404.9 441.3 399.3 430.8 395.7 420.8 393.8 411.3 393.8 402.8 395.7 M675.4 549.0 632.1 488.0 594.1 433.4 560.7 384.3 531.0 339.3 M675.4 469.9 634.6 402.4 598.4 339.3 M675.4 390.1 648.4 339.3" fill="none" stroke="#1e1e1e" stroke-width="0.75"/><rect x="402.80" y="339.30" width="272.60" height="272.80" fill="none" stroke="#666" stroke-width="0.9"/><line x1="402.80" y1="612.10" x2="402.80" y2="618.10" stroke="#8c8c8c" stroke-width="0.9"/><line x1="457.32" y1="612.10" x2="457.32" y2="618.10" stroke="#8c8c8c" stroke-width="0.9"/><line x1="511.84" y1="612.10" x2="511.84" y2="618.10" stroke="#8c8c8c" stroke-width="0.9"/><line x1="566.36" y1="612.10" x2="566.36" y2="618.10" stroke="#8c8c8c" stroke-width="0.9"/><line x1="620.88" y1="612.10" x2="620.88" y2="618.10" stroke="#8c8c8c" stroke-width="0.9"/><line x1="675.40" y1="612.10" x2="675.40" y2="618.10" stroke="#8c8c8c" stroke-width="0.9"/><line x1="396.30" y1="612.10" x2="402.80" y2="612.10" stroke="#8c8c8c" stroke-width="0.9"/><line x1="396.30" y1="557.54" x2="402.80" y2="557.54" stroke="#8c8c8c" stroke-width="0.9"/><line x1="396.30" y1="502.98" x2="402.80" y2="502.98" stroke="#8c8c8c" stroke-width="0.9"/><line x1="396.30" y1="448.42" x2="402.80" y2="448.42" stroke="#8c8c8c" stroke-width="0.9"/><line x1="396.30" y1="393.86" x2="402.80" y2="393.86" stroke="#8c8c8c" stroke-width="0.9"/><line x1="396.30" y1="339.30" x2="402.80" y2="339.30" stroke="#8c8c8c" stroke-width="0.9"/><path d="M53.6 940.7 49.8 925.5 M101.9 940.7 90.1 893.2 77.5 845.6 64.0 798.1 49.8 751.0 M166.5 940.7 158.9 906.7 150.6 872.1 142.0 839.1 132.5 805.1 122.4 771.6 111.5 737.6 99.9 703.5 87.4 668.5" fill="none" stroke="#1e1e1e" stroke-width="0.75"/><rect x="49.80" y="668.50" width="272.50" height="272.20" fill="none" stroke="#666" stroke-width="0.9"/><line x1="49.80" y1="940.70" x2="49.80" y2="946.70" stroke="#8c8c8c" stroke-width="0.9"/><line x1="88.73" y1="940.70" x2="88.73" y2="946.70" stroke="#8c8c8c" stroke-width="0.9"/><line x1="127.66" y1="940.70" x2="127.66" y2="946.70" stroke="#8c8c8c" stroke-width="0.9"/><line x1="166.59" y1="940.70" x2="166.59" y2="946.70" stroke="#8c8c8c" stroke-width="0.9"/><line x1="205.51" y1="940.70" x2="205.51" y2="946.70" stroke="#8c8c8c" stroke-width="0.9"/><line x1="244.44" y1="940.70" x2="244.44" y2="946.70" stroke="#8c8c8c" stroke-width="0.9"/><line x1="283.37" y1="940.70" x2="283.37" y2="946.70" stroke="#8c8c8c" stroke-width="0.9"/><line x1="322.30" y1="940.70" x2="322.30" y2="946.70" stroke="#8c8c8c" stroke-width="0.9"/><line x1="43.30" y1="940.70" x2="49.80" y2="940.70" stroke="#8c8c8c" stroke-width="0.9"/><line x1="43.30" y1="886.26" x2="49.80" y2="886.26" stroke="#8c8c8c" stroke-width="0.9"/><line x1="43.30" y1="831.82" x2="49.80" y2="831.82" stroke="#8c8c8c" stroke-width="0.9"/><line x1="43.30" y1="777.38" x2="49.80" y2="777.38" stroke="#8c8c8c" stroke-width="0.9"/><line x1="43.30" y1="722.94" x2="49.80" y2="722.94" stroke="#8c8c8c" stroke-width="0.9"/><line x1="43.30" y1="668.50" x2="49.80" y2="668.50" stroke="#8c8c8c" stroke-width="0.9"/><path d="M413.3 941.3 407.6 910.3 402.6 879.4 M438.0 941.3 431.6 905.3 426.1 869.3 421.6 833.7 418.2 799.2 415.8 765.2 414.4 731.6 414.1 699.6 414.8 668.6 M466.1 941.3 459.7 904.3 454.5 867.7 450.5 831.7 447.8 796.7 446.3 762.7 446.1 729.6 447.2 698.1 449.6 668.6 M499.7 941.3 493.2 901.8 488.5 863.7 485.4 826.2 484.2 790.2 484.7 756.2 487.0 724.1 488.8 709.1 491.1 694.6 493.7 681.3 496.7 668.6 M543.9 941.3 538.6 905.3 536.7 887.3 535.4 870.2 534.6 853.7 534.4 837.2 534.7 821.7 535.5 806.7 536.9 792.7 538.8 779.2 541.2 766.7 544.2 754.9 547.7 744.2 551.7 734.6 556.2 726.1 560.9 719.1 566.2 712.9 571.7 708.2 577.7 704.5 584.2 702.0 591.2 700.9 598.2 701.0 605.2 702.4 612.8 705.2 620.3 709.1 628.3 714.4 635.8 720.6 643.8 728.3 651.8 737.1 659.3 746.4 667.3 757.5 674.8 769.0" fill="none" stroke="#1e1e1e" stroke-width="0.75"/><rect x="402.60" y="668.60" width="272.20" height="272.70" fill="none" stroke="#666" stroke-width="0.9"/><line x1="402.60" y1="941.30" x2="402.60" y2="947.30" stroke="#8c8c8c" stroke-width="0.9"/><line x1="441.49" y1="941.30" x2="441.49" y2="947.30" stroke="#8c8c8c" stroke-width="0.9"/><line x1="480.37" y1="941.30" x2="480.37" y2="947.30" stroke="#8c8c8c" stroke-width="0.9"/><line x1="519.26" y1="941.30" x2="519.26" y2="947.30" stroke="#8c8c8c" stroke-width="0.9"/><line x1="558.14" y1="941.30" x2="558.14" y2="947.30" stroke="#8c8c8c" stroke-width="0.9"/><line x1="597.03" y1="941.30" x2="597.03" y2="947.30" stroke="#8c8c8c" stroke-width="0.9"/><line x1="635.91" y1="941.30" x2="635.91" y2="947.30" stroke="#8c8c8c" stroke-width="0.9"/><line x1="674.80" y1="941.30" x2="674.80" y2="947.30" stroke="#8c8c8c" stroke-width="0.9"/><line x1="396.10" y1="941.30" x2="402.60" y2="941.30" stroke="#8c8c8c" stroke-width="0.9"/><line x1="396.10" y1="886.76" x2="402.60" y2="886.76" stroke="#8c8c8c" stroke-width="0.9"/><line x1="396.10" y1="832.22" x2="402.60" y2="832.22" stroke="#8c8c8c" stroke-width="0.9"/><line x1="396.10" y1="777.68" x2="402.60" y2="777.68" stroke="#8c8c8c" stroke-width="0.9"/><line x1="396.10" y1="723.14" x2="402.60" y2="723.14" stroke="#8c8c8c" stroke-width="0.9"/><line x1="396.10" y1="668.60" x2="402.60" y2="668.60" stroke="#8c8c8c" stroke-width="0.9"/><path d="M272.9 998.0 286.6 1009.0 299.2 1020.4 311.1 1032.5 321.7 1044.7 M321.7 1255.8 311.5 1263.8 300.1 1271.3 M225.8 998.0 242.2 1008.6 257.7 1020.2 272.2 1032.9 285.1 1046.1 296.7 1059.9 306.6 1074.1 315.0 1088.6 321.7 1103.3 M321.7 1197.2 318.1 1204.2 313.7 1211.4 308.8 1218.2 303.3 1224.7 297.4 1230.8 291.2 1236.3 284.2 1241.7 276.7 1246.7 268.9 1251.3 260.7 1255.4 251.7 1259.3 242.7 1262.6 233.2 1265.5 223.7 1267.8 213.7 1269.8 203.2 1271.3 M145.5 1271.3 133.1 1269.6 121.1 1267.5 109.1 1264.8 96.6 1261.4 84.6 1257.6 72.6 1253.3 61.1 1248.6 49.6 1243.3 M148.3 998.0 165.6 1003.7 182.6 1010.8 198.8 1019.0 214.3 1028.5 228.7 1039.0 241.7 1050.3 253.6 1062.6 263.6 1075.1 272.0 1088.1 278.9 1101.6 284.0 1115.6 287.0 1129.1 288.2 1142.7 287.5 1155.7 284.9 1168.2 282.9 1174.2 280.3 1180.2 274.1 1191.2 270.2 1196.6 265.8 1201.7 256.2 1210.9 244.7 1219.1 231.7 1226.1 217.7 1231.6 202.7 1235.6 186.7 1238.3 170.1 1239.5 152.6 1239.2 135.1 1237.5 117.1 1234.2 99.6 1229.5 82.1 1223.4 65.6 1216.1 49.6 1207.6 M49.6 1049.8 55.0 1046.6 60.6 1043.8 66.6 1041.4 73.1 1039.3 87.1 1036.6 101.6 1035.6 116.6 1036.5 132.1 1039.1 147.6 1043.5 162.1 1049.4 176.1 1056.9 188.9 1065.6 200.2 1075.3 209.9 1086.1 217.8 1097.6 221.0 1103.6 223.6 1109.6 225.6 1115.6 227.0 1121.6 227.9 1127.6 228.1 1133.1 227.8 1139.2 226.9 1144.7 225.4 1150.2 223.5 1155.2 220.8 1160.2 217.9 1164.7 214.2 1169.2 210.2 1173.2 205.7 1176.9 200.7 1180.3 195.2 1183.4 189.0 1186.2 176.1 1190.3 162.1 1192.6 147.1 1193.1 132.1 1191.9 116.6 1188.9 101.6 1184.2 87.1 1178.0 73.3 1170.2 60.8 1161.2 49.6 1150.9" fill="none" stroke="#1e1e1e" stroke-width="0.75"/><rect x="49.60" y="998.00" width="272.10" height="273.30" fill="none" stroke="#666" stroke-width="0.9"/><line x1="49.60" y1="1271.30" x2="49.60" y2="1277.30" stroke="#8c8c8c" stroke-width="0.9"/><line x1="104.02" y1="1271.30" x2="104.02" y2="1277.30" stroke="#8c8c8c" stroke-width="0.9"/><line x1="158.44" y1="1271.30" x2="158.44" y2="1277.30" stroke="#8c8c8c" stroke-width="0.9"/><line x1="212.86" y1="1271.30" x2="212.86" y2="1277.30" stroke="#8c8c8c" stroke-width="0.9"/><line x1="267.28" y1="1271.30" x2="267.28" y2="1277.30" stroke="#8c8c8c" stroke-width="0.9"/><line x1="321.70" y1="1271.30" x2="321.70" y2="1277.30" stroke="#8c8c8c" stroke-width="0.9"/><line x1="43.10" y1="1271.30" x2="49.60" y2="1271.30" stroke="#8c8c8c" stroke-width="0.9"/><line x1="43.10" y1="1216.64" x2="49.60" y2="1216.64" stroke="#8c8c8c" stroke-width="0.9"/><line x1="43.10" y1="1161.98" x2="49.60" y2="1161.98" stroke="#8c8c8c" stroke-width="0.9"/><line x1="43.10" y1="1107.32" x2="49.60" y2="1107.32" stroke="#8c8c8c" stroke-width="0.9"/><line x1="43.10" y1="1052.66" x2="49.60" y2="1052.66" stroke="#8c8c8c" stroke-width="0.9"/><line x1="43.10" y1="998.00" x2="49.60" y2="998.00" stroke="#8c8c8c" stroke-width="0.9"/><path d="M623.2 996.7 648.5 1007.1 675.0 1016.9 M554.9 996.7 582.9 1011.0 611.9 1023.9 642.5 1035.4 675.0 1045.9 M486.5 996.7 506.8 1011.0 527.8 1024.1 549.3 1035.8 571.8 1046.4 595.4 1055.8 620.4 1064.4 647.0 1072.0 675.0 1078.7 M453.0 1269.7 440.7 1261.5 427.6 1253.4 415.1 1246.3 402.1 1239.5 M417.9 996.7 432.1 1012.8 445.7 1027.0 458.7 1039.5 471.2 1050.4 484.2 1060.5 496.7 1069.1 509.8 1076.8 523.3 1083.7 537.8 1090.0 552.8 1095.4 568.8 1100.2 586.4 1104.6 605.4 1108.4 626.4 1111.8 649.5 1114.9 675.0 1117.6 M526.5 1269.7 510.8 1252.7 495.2 1237.6 480.2 1224.5 465.7 1213.4 450.7 1203.5 435.1 1194.9 419.1 1187.6 402.1 1181.2 M600.2 1269.7 596.6 1257.7 594.2 1247.2 592.8 1237.7 592.4 1228.7 592.9 1220.7 594.6 1213.2 597.2 1206.7 600.9 1200.5 605.5 1195.2 611.4 1190.1 618.4 1185.5 627.0 1181.2 636.9 1177.3 648.0 1173.9 660.8 1170.7 675.0 1167.9" fill="none" stroke="#1e1e1e" stroke-width="0.75"/><rect x="402.10" y="996.70" width="272.90" height="273.00" fill="none" stroke="#666" stroke-width="0.9"/><line x1="402.10" y1="1269.70" x2="402.10" y2="1275.70" stroke="#8c8c8c" stroke-width="0.9"/><line x1="441.09" y1="1269.70" x2="441.09" y2="1275.70" stroke="#8c8c8c" stroke-width="0.9"/><line x1="480.07" y1="1269.70" x2="480.07" y2="1275.70" stroke="#8c8c8c" stroke-width="0.9"/><line x1="519.06" y1="1269.70" x2="519.06" y2="1275.70" stroke="#8c8c8c" stroke-width="0.9"/><line x1="558.04" y1="1269.70" x2="558.04" y2="1275.70" stroke="#8c8c8c" stroke-width="0.9"/><line x1="597.03" y1="1269.70" x2="597.03" y2="1275.70" stroke="#8c8c8c" stroke-width="0.9"/><line x1="636.01" y1="1269.70" x2="636.01" y2="1275.70" stroke="#8c8c8c" stroke-width="0.9"/><line x1="675.00" y1="1269.70" x2="675.00" y2="1275.70" stroke="#8c8c8c" stroke-width="0.9"/><line x1="395.60" y1="1269.70" x2="402.10" y2="1269.70" stroke="#8c8c8c" stroke-width="0.9"/><line x1="395.60" y1="1215.10" x2="402.10" y2="1215.10" stroke="#8c8c8c" stroke-width="0.9"/><line x1="395.60" y1="1160.50" x2="402.10" y2="1160.50" stroke="#8c8c8c" stroke-width="0.9"/><line x1="395.60" y1="1105.90" x2="402.10" y2="1105.90" stroke="#8c8c8c" stroke-width="0.9"/><line x1="395.60" y1="1051.30" x2="402.10" y2="1051.30" stroke="#8c8c8c" stroke-width="0.9"/><line x1="395.60" y1="996.70" x2="402.10" y2="996.70" stroke="#8c8c8c" stroke-width="0.9"/><path d="M55.5 1600.3 47.9 1406.0 M85.0 1600.3 73.1 1327.5 M119.1 1600.3 105.3 1327.5 M161.3 1600.3 143.9 1327.5 M223.3 1600.3 209.6 1472.0 195.9 1327.5" fill="none" stroke="#1e1e1e" stroke-width="0.75"/><rect x="47.90" y="1327.50" width="272.80" height="272.80" fill="none" stroke="#666" stroke-width="0.9"/><line x1="47.90" y1="1600.30" x2="47.90" y2="1606.30" stroke="#8c8c8c" stroke-width="0.9"/><line x1="86.87" y1="1600.30" x2="86.87" y2="1606.30" stroke="#8c8c8c" stroke-width="0.9"/><line x1="125.84" y1="1600.30" x2="125.84" y2="1606.30" stroke="#8c8c8c" stroke-width="0.9"/><line x1="164.81" y1="1600.30" x2="164.81" y2="1606.30" stroke="#8c8c8c" stroke-width="0.9"/><line x1="203.79" y1="1600.30" x2="203.79" y2="1606.30" stroke="#8c8c8c" stroke-width="0.9"/><line x1="242.76" y1="1600.30" x2="242.76" y2="1606.30" stroke="#8c8c8c" stroke-width="0.9"/><line x1="281.73" y1="1600.30" x2="281.73" y2="1606.30" stroke="#8c8c8c" stroke-width="0.9"/><line x1="320.70" y1="1600.30" x2="320.70" y2="1606.30" stroke="#8c8c8c" stroke-width="0.9"/><line x1="41.40" y1="1600.30" x2="47.90" y2="1600.30" stroke="#8c8c8c" stroke-width="0.9"/><line x1="41.40" y1="1545.74" x2="47.90" y2="1545.74" stroke="#8c8c8c" stroke-width="0.9"/><line x1="41.40" y1="1491.18" x2="47.90" y2="1491.18" stroke="#8c8c8c" stroke-width="0.9"/><line x1="41.40" y1="1436.62" x2="47.90" y2="1436.62" stroke="#8c8c8c" stroke-width="0.9"/><line x1="41.40" y1="1382.06" x2="47.90" y2="1382.06" stroke="#8c8c8c" stroke-width="0.9"/><line x1="41.40" y1="1327.50" x2="47.90" y2="1327.50" stroke="#8c8c8c" stroke-width="0.9"/><path d="M416.5 1600.3 411.5 1523.2 410.0 1489.9 409.0 1457.6 408.6 1424.5 408.7 1391.5 409.4 1359.4 410.6 1328.4 M465.8 1600.3 461.9 1577.3 448.0 1504.9 444.0 1478.6 440.7 1452.1 438.0 1421.0 436.5 1390.0 436.1 1358.4 437.0 1328.4 M561.9 1600.3 561.8 1582.3 560.1 1563.6 556.8 1544.7 551.8 1525.2 546.5 1509.2 540.0 1492.1 518.1 1443.5 511.1 1426.8 505.2 1410.0 500.9 1394.5 497.5 1377.0 495.8 1359.9 495.8 1343.4 497.4 1328.4 M675.7 1568.4 673.5 1563.7 671.2 1556.6 668.7 1546.2 666.7 1535.3 663.6 1512.2 662.5 1491.6 662.8 1483.6 663.5 1476.6 664.6 1470.6 666.1 1466.1 667.9 1462.6 670.2 1460.1 672.7 1458.9 675.7 1458.9" fill="none" stroke="#1e1e1e" stroke-width="0.75"/><rect x="403.50" y="1328.40" width="272.20" height="271.90" fill="none" stroke="#666" stroke-width="0.9"/><line x1="403.50" y1="1600.30" x2="403.50" y2="1606.30" stroke="#8c8c8c" stroke-width="0.9"/><line x1="442.39" y1="1600.30" x2="442.39" y2="1606.30" stroke="#8c8c8c" stroke-width="0.9"/><line x1="481.27" y1="1600.30" x2="481.27" y2="1606.30" stroke="#8c8c8c" stroke-width="0.9"/><line x1="520.16" y1="1600.30" x2="520.16" y2="1606.30" stroke="#8c8c8c" stroke-width="0.9"/><line x1="559.04" y1="1600.30" x2="559.04" y2="1606.30" stroke="#8c8c8c" stroke-width="0.9"/><line x1="597.93" y1="1600.30" x2="597.93" y2="1606.30" stroke="#8c8c8c" stroke-width="0.9"/><line x1="636.81" y1="1600.30" x2="636.81" y2="1606.30" stroke="#8c8c8c" stroke-width="0.9"/><line x1="675.70" y1="1600.30" x2="675.70" y2="1606.30" stroke="#8c8c8c" stroke-width="0.9"/><line x1="397.00" y1="1600.30" x2="403.50" y2="1600.30" stroke="#8c8c8c" stroke-width="0.9"/><line x1="397.00" y1="1545.92" x2="403.50" y2="1545.92" stroke="#8c8c8c" stroke-width="0.9"/><line x1="397.00" y1="1491.54" x2="403.50" y2="1491.54" stroke="#8c8c8c" stroke-width="0.9"/><line x1="397.00" y1="1437.16" x2="403.50" y2="1437.16" stroke="#8c8c8c" stroke-width="0.9"/><line x1="397.00" y1="1382.78" x2="403.50" y2="1382.78" stroke="#8c8c8c" stroke-width="0.9"/><line x1="397.00" y1="1328.40" x2="403.50" y2="1328.40" stroke="#8c8c8c" stroke-width="0.9"/></svg><div class="t xt" style="left:48.60px;top:297.30px">0.25</div><div class="t xt" style="left:90.16px;top:297.30px">0.59</div><div class="t xt" style="left:129.11px;top:297.30px">0.93</div><div class="t xt" style="left:168.07px;top:297.30px">1.27</div><div class="t xt" style="left:207.03px;top:297.30px">1.61</div><div class="t xt" style="left:245.99px;top:297.30px">1.95</div><div class="t xt" style="left:284.94px;top:297.30px">2.29</div><div class="t xt" style="left:323.90px;top:297.30px">2.63</div><div class="t yt" style="right:641.90px;top:285.00px">100</div><div class="t yt" style="right:641.90px;top:230.46px">120</div><div class="t yt" style="right:641.90px;top:175.92px">140</div><div class="t yt" style="right:641.90px;top:121.38px">160</div><div class="t yt" style="right:641.90px;top:66.84px">180</div><div class="t yt" style="right:641.90px;top:12.30px">200</div><div class="ttl" style="left:186.10px;top:318.40px;font-size:8.7px">C:&nbsp; Na<sub>2</sub>HPO<sub>4</sub> (% w/v)</div><div class="ttl yl" style="left:13.30px;top:149.50px;font-size:9px">A: Agitation (RPM)</div><div class="lt" style="left:55.30px;top:-0.10px">a</div><div class="lb n" style="left:54.5px;top:114.0px;width:24.0px;height:14.5px;line-height:14.5px">9.1</div><div class="lb n" style="left:89.3px;top:135.1px;width:24.0px;height:14.5px;line-height:14.5px">9.2</div><div class="lb n" style="left:142.1px;top:134.8px;width:24.0px;height:14.5px;line-height:14.5px">9.3</div><div class="lb n" style="left:248.6px;top:211.9px;width:24.0px;height:14.5px;line-height:14.5px">9.4</div><svg style="left:181.6px;top:142.9px" width="12" height="12"><circle cx="6" cy="6" r="3.1" fill="#fff" stroke="#2a0a0a" stroke-width="1.15"/></svg><div class="t" style="left:180.6px;top:146.9px;font-size:4px;line-height:4px;color:#444">5</div><svg style="left:47.2px;top:8.3px" width="8" height="8"><circle cx="4" cy="4" r="2.8" fill="#b40000" stroke="#700000" stroke-width="0.6"/></svg><svg style="left:319.9px;top:8.3px" width="8" height="8"><circle cx="4" cy="4" r="2.8" fill="#b40000" stroke="#700000" stroke-width="0.6"/></svg><svg style="left:47.2px;top:281.0px" width="8" height="8"><circle cx="4" cy="4" r="2.8" fill="#b40000" stroke="#700000" stroke-width="0.6"/></svg><svg style="left:319.9px;top:281.0px" width="8" height="8"><circle cx="4" cy="4" r="2.8" fill="#b40000" stroke="#700000" stroke-width="0.6"/></svg><div class="t xt" style="left:403.40px;top:296.50px">0.25</div><div class="t xt" style="left:442.31px;top:296.50px">0.59</div><div class="t xt" style="left:481.23px;top:296.50px">0.93</div><div class="t xt" style="left:520.14px;top:296.50px">1.27</div><div class="t xt" style="left:559.06px;top:296.50px">1.61</div><div class="t xt" style="left:597.97px;top:296.50px">1.95</div><div class="t xt" style="left:636.89px;top:296.50px">2.29</div><div class="t xt" style="left:675.80px;top:296.50px">2.63</div><div class="t yt" style="right:289.30px;top:283.60px">100</div><div class="t yt" style="right:289.30px;top:228.50px">120</div><div class="t yt" style="right:289.30px;top:174.80px">140</div><div class="t yt" style="right:289.30px;top:120.30px">160</div><div class="t yt" style="right:289.30px;top:65.80px">180</div><div class="t yt" style="right:289.30px;top:12.30px">200</div><div class="ttl" style="left:538.30px;top:318.70px;font-size:8.7px">C:&nbsp; Na<sub>2</sub>HPO<sub>4</sub>(% w/v)</div><div class="ttl yl" style="left:365.00px;top:150.60px;font-size:9px">A: Agitation (RPM)</div><div class="lt" style="left:407.80px;top:-1.40px">b</div><div class="lb n" style="left:419.9px;top:135.2px;width:24.0px;height:14.5px;line-height:14.5px">2.0</div><div class="lb n" style="left:455.6px;top:135.2px;width:24.0px;height:14.5px;line-height:14.5px">4.0</div><div class="lb n" style="left:499.9px;top:135.2px;width:24.0px;height:14.5px;line-height:14.5px">6.0</div><svg style="left:533.5px;top:142.6px" width="12" height="12"><circle cx="6" cy="6" r="3.1" fill="#fff" stroke="#2a0a0a" stroke-width="1.15"/></svg><div class="t" style="left:532.5px;top:146.6px;font-size:4px;line-height:4px;color:#444">5</div><svg style="left:399.4px;top:8.3px" width="8" height="8"><circle cx="4" cy="4" r="2.8" fill="#b40000" stroke="#700000" stroke-width="0.6"/></svg><svg style="left:671.8px;top:8.3px" width="8" height="8"><circle cx="4" cy="4" r="2.8" fill="#b40000" stroke="#700000" stroke-width="0.6"/></svg><svg style="left:399.4px;top:280.8px" width="8" height="8"><circle cx="4" cy="4" r="2.8" fill="#b40000" stroke="#700000" stroke-width="0.6"/></svg><svg style="left:671.8px;top:280.8px" width="8" height="8"><circle cx="4" cy="4" r="2.8" fill="#b40000" stroke="#700000" stroke-width="0.6"/></svg><div class="t xt" style="left:51.20px;top:626.10px">0.25</div><div class="t xt" style="left:90.14px;top:626.10px">0.59</div><div class="t xt" style="left:129.09px;top:626.10px">0.93</div><div class="t xt" style="left:168.03px;top:626.10px">1.27</div><div class="t xt" style="left:206.97px;top:626.10px">1.61</div><div class="t xt" style="left:245.91px;top:626.10px">1.95</div><div class="t xt" style="left:284.86px;top:626.10px">2.29</div><div class="t xt" style="left:323.80px;top:626.10px">2.63</div><div class="t yt" style="right:642.70px;top:611.60px">100</div><div class="t yt" style="right:644.50px;top:557.08px">120</div><div class="t yt" style="right:643.10px;top:502.56px">140</div><div class="t yt" style="right:643.10px;top:448.04px">160</div><div class="t yt" style="right:644.50px;top:393.52px">180</div><div class="t yt" style="right:646.20px;top:340.30px">200</div><div class="ttl" style="left:181.30px;top:649.80px;font-size:8.7px">C:&nbsp; Na<sub>2</sub>HPO<sub>4</sub> (% w/v)</div><div class="ttl yl" style="left:12.00px;top:477.30px;font-size:9px">A: Agitation (RPM)</div><div class="lt" style="left:55.50px;top:327.30px">c</div><div class="lb n" style="left:53.5px;top:340.9px;width:24.0px;height:14.5px;line-height:14.5px">7.0</div><div class="lb n" style="left:68.9px;top:373.1px;width:24.0px;height:14.5px;line-height:14.5px">6.5</div><div class="lb n" style="left:203.9px;top:352.1px;width:24.0px;height:14.5px;line-height:14.5px">6.0</div><div class="lb n" style="left:158.2px;top:457.4px;width:24.0px;height:14.5px;line-height:14.5px">5.5</div><div class="lb n" style="left:131.5px;top:569.8px;width:24.0px;height:14.5px;line-height:14.5px">5.0</div><div class="lb n" style="left:299.3px;top:461.8px;width:24.0px;height:14.5px;line-height:14.5px">6.5</div><svg style="left:181.5px;top:470.1px" width="12" height="12"><circle cx="6" cy="6" r="3.1" fill="#fff" stroke="#2a0a0a" stroke-width="1.15"/></svg><div class="t" style="left:180.5px;top:474.1px;font-size:4px;line-height:4px;color:#444">5</div><svg style="left:47.2px;top:335.8px" width="8" height="8"><circle cx="4" cy="4" r="2.8" fill="#b40000" stroke="#700000" stroke-width="0.6"/></svg><svg style="left:319.8px;top:335.8px" width="8" height="8"><circle cx="4" cy="4" r="2.8" fill="#b40000" stroke="#700000" stroke-width="0.6"/></svg><svg style="left:47.2px;top:608.4px" width="8" height="8"><circle cx="4" cy="4" r="2.8" fill="#b40000" stroke="#700000" stroke-width="0.6"/></svg><svg style="left:319.8px;top:608.4px" width="8" height="8"><circle cx="4" cy="4" r="2.8" fill="#b40000" stroke="#700000" stroke-width="0.6"/></svg><div class="t xt" style="left:402.80px;top:625.50px">0.50</div><div class="t xt" style="left:457.32px;top:625.50px">0.70</div><div class="t xt" style="left:511.84px;top:625.50px">0.90</div><div class="t xt" style="left:566.36px;top:625.50px">1.10</div><div class="t xt" style="left:620.88px;top:625.50px">1.30</div><div class="t xt" style="left:675.40px;top:625.50px">1.50</div><div class="t yt" style="right:294.70px;top:612.10px">100</div><div class="t yt" style="right:294.70px;top:556.54px">120</div><div class="t yt" style="right:294.70px;top:502.98px">140</div><div class="t yt" style="right:294.70px;top:448.42px">160</div><div class="t yt" style="right:294.70px;top:394.76px">180</div><div class="t yt" style="right:294.70px;top:342.80px">200</div><div class="ttl" style="left:532.80px;top:645.50px;font-size:8.8px">B:&nbsp; Yeast extract (% w/v)</div><div class="ttl yl" style="left:359.90px;top:478.50px;font-size:9px">A: Agitation (RPM)</div><div class="lt" style="left:407.80px;top:325.00px">d</div><div class="lb n" style="left:540.1px;top:481.1px;width:24.0px;height:14.5px;line-height:14.5px">5.5</div><div class="lb n" style="left:591.0px;top:439.8px;width:24.0px;height:14.5px;line-height:14.5px">6.0</div><div class="lb n" style="left:624.7px;top:393.9px;width:24.0px;height:14.5px;line-height:14.5px">6.5</div><div class="lb n" style="left:648.9px;top:354.6px;width:24.0px;height:14.5px;line-height:14.5px">7.0</div><div class="lb n" style="left:480.0px;top:577.5px;width:24.0px;height:14.5px;line-height:14.5px">5.0</div><svg style="left:532.7px;top:469.3px" width="12" height="12"><circle cx="6" cy="6" r="3.1" fill="#fff" stroke="#2a0a0a" stroke-width="1.15"/></svg><div class="t" style="left:531.7px;top:473.3px;font-size:4px;line-height:4px;color:#444">5</div><svg style="left:398.8px;top:335.3px" width="8" height="8"><circle cx="4" cy="4" r="2.8" fill="#b40000" stroke="#700000" stroke-width="0.6"/></svg><svg style="left:671.4px;top:335.3px" width="8" height="8"><circle cx="4" cy="4" r="2.8" fill="#b40000" stroke="#700000" stroke-width="0.6"/></svg><svg style="left:398.8px;top:608.1px" width="8" height="8"><circle cx="4" cy="4" r="2.8" fill="#b40000" stroke="#700000" stroke-width="0.6"/></svg><svg style="left:671.4px;top:608.1px" width="8" height="8"><circle cx="4" cy="4" r="2.8" fill="#b40000" stroke="#700000" stroke-width="0.6"/></svg><div class="t xt" style="left:47.90px;top:952.90px">0.25</div><div class="t xt" style="left:88.73px;top:952.90px">0.59</div><div class="t xt" style="left:127.66px;top:952.90px">0.93</div><div class="t xt" style="left:166.59px;top:952.90px">1.27</div><div class="t xt" style="left:205.51px;top:952.90px">1.61</div><div class="t xt" style="left:244.44px;top:952.90px">1.95</div><div class="t xt" style="left:283.37px;top:952.90px">2.29</div><div class="t xt" style="left:322.30px;top:952.90px">2.63</div><div class="t yt" style="right:644.70px;top:940.20px">100</div><div class="t yt" style="right:644.70px;top:885.76px">120</div><div class="t yt" style="right:644.70px;top:831.32px">140</div><div class="t yt" style="right:644.70px;top:776.88px">160</div><div class="t yt" style="right:644.70px;top:722.94px">180</div><div class="t yt" style="right:644.70px;top:668.50px">200</div><div class="ttl" style="left:184.70px;top:973.50px;font-size:8.7px">C:&nbsp; Na<sub>2</sub>HPO<sub>4</sub> (% w/v)</div><div class="ttl yl" style="left:10.30px;top:804.80px;font-size:9px">A: Agitation (RPM)</div><div class="lt" style="left:53.40px;top:654.60px">e</div><div class="lb n" style="left:61.8px;top:829.2px;width:24.0px;height:14.5px;line-height:14.5px">6.0</div><div class="lb n" style="left:116.4px;top:789.5px;width:24.0px;height:14.5px;line-height:14.5px">7.0</div><svg style="left:179.8px;top:798.4px" width="12" height="12"><circle cx="6" cy="6" r="3.1" fill="#fff" stroke="#2a0a0a" stroke-width="1.15"/></svg><div class="t" style="left:178.8px;top:802.4px;font-size:4px;line-height:4px;color:#444">5</div><svg style="left:45.8px;top:664.5px" width="8" height="8"><circle cx="4" cy="4" r="2.8" fill="#b40000" stroke="#700000" stroke-width="0.6"/></svg><svg style="left:318.3px;top:664.5px" width="8" height="8"><circle cx="4" cy="4" r="2.8" fill="#b40000" stroke="#700000" stroke-width="0.6"/></svg><svg style="left:45.8px;top:936.7px" width="8" height="8"><circle cx="4" cy="4" r="2.8" fill="#b40000" stroke="#700000" stroke-width="0.6"/></svg><svg style="left:318.3px;top:936.7px" width="8" height="8"><circle cx="4" cy="4" r="2.8" fill="#b40000" stroke="#700000" stroke-width="0.6"/></svg><div class="lb" style="left:50.0px;top:929.9px;width:5.6px;height:6px;font-size:5px;line-height:5px;border:0.6px solid #666;color:#333;padding:0">5</div><div class="t xt" style="left:402.60px;top:953.00px">0.25</div><div class="t xt" style="left:441.49px;top:953.00px">0.59</div><div class="t xt" style="left:480.37px;top:953.00px">0.93</div><div class="t xt" style="left:519.26px;top:953.00px">1.27</div><div class="t xt" style="left:558.14px;top:953.00px">1.61</div><div class="t xt" style="left:597.03px;top:953.00px">1.95</div><div class="t xt" style="left:635.91px;top:953.00px">2.29</div><div class="t xt" style="left:674.80px;top:953.00px">2.63</div><div class="t yt" style="right:294.90px;top:938.10px">0.50</div><div class="t yt" style="right:294.90px;top:883.56px">0.70</div><div class="t yt" style="right:294.90px;top:829.22px">0.90</div><div class="t yt" style="right:294.90px;top:775.38px">1.10</div><div class="t yt" style="right:294.90px;top:720.44px">1.30</div><div class="t yt" style="right:294.90px;top:668.60px">1.50</div><div class="ttl" style="left:536.80px;top:971.50px;font-size:8.7px">C:&nbsp; Na<sub>2</sub>HPO<sub>4</sub> (% w/v)</div><div class="ttl yl" style="left:360.30px;top:804.30px;font-size:8.8px">B: Yeast extract (% w/v)</div><div class="lt" style="left:406.80px;top:653.40px">f</div><div class="lb n" style="left:407.0px;top:803.1px;width:24.0px;height:14.5px;line-height:14.5px">6.0</div><div class="lb n" style="left:438.3px;top:799.2px;width:24.0px;height:14.5px;line-height:14.5px">6.5</div><div class="lb n" style="left:472.0px;top:796.8px;width:24.0px;height:14.5px;line-height:14.5px">7.0</div><div class="lb n" style="left:541.0px;top:728.4px;width:24.0px;height:14.5px;line-height:14.5px">7.5</div><svg style="left:532.1px;top:798.4px" width="12" height="12"><circle cx="6" cy="6" r="3.1" fill="#fff" stroke="#2a0a0a" stroke-width="1.15"/></svg><div class="t" style="left:531.1px;top:802.4px;font-size:4px;line-height:4px;color:#444">5</div><svg style="left:398.6px;top:664.6px" width="8" height="8"><circle cx="4" cy="4" r="2.8" fill="#b40000" stroke="#700000" stroke-width="0.6"/></svg><svg style="left:670.8px;top:664.6px" width="8" height="8"><circle cx="4" cy="4" r="2.8" fill="#b40000" stroke="#700000" stroke-width="0.6"/></svg><svg style="left:398.6px;top:937.3px" width="8" height="8"><circle cx="4" cy="4" r="2.8" fill="#b40000" stroke="#700000" stroke-width="0.6"/></svg><svg style="left:670.8px;top:937.3px" width="8" height="8"><circle cx="4" cy="4" r="2.8" fill="#b40000" stroke="#700000" stroke-width="0.6"/></svg><div class="lb" style="left:402.9px;top:904.9px;width:9px;height:5.6px;font-size:4.2px;line-height:4.6px;border:0.6px solid #555;color:#333">5.5</div><div class="t xt" style="left:49.60px;top:1283.60px">0.50</div><div class="t xt" style="left:104.02px;top:1283.60px">0.70</div><div class="t xt" style="left:158.44px;top:1283.60px">0.90</div><div class="t xt" style="left:212.86px;top:1283.60px">1.10</div><div class="t xt" style="left:267.28px;top:1283.60px">1.30</div><div class="t xt" style="left:321.70px;top:1283.60px">1.50</div><div class="t yt" style="right:650.80px;top:1271.30px">100</div><div class="t yt" style="right:650.80px;top:1216.64px">120</div><div class="t yt" style="right:650.80px;top:1161.98px">140</div><div class="t yt" style="right:650.80px;top:1107.32px">160</div><div class="t yt" style="right:650.80px;top:1052.66px">180</div><div class="t yt" style="right:650.80px;top:999.20px">200</div><div class="ttl" style="left:176.90px;top:1302.00px;font-size:8.8px">B:&nbsp; Yeast extract (% w/v)</div><div class="ttl yl" style="left:5.00px;top:1135.00px;font-size:9px">A: Agitation (RPM)</div><div class="lt" style="left:55.80px;top:982.90px">g</div><div class="lb n" style="left:213.6px;top:1116.0px;width:24.0px;height:14.5px;line-height:14.5px">13</div><div class="lb n" style="left:267.8px;top:1168.2px;width:24.0px;height:14.5px;line-height:14.5px">12</div><div class="lb n" style="left:270.6px;top:1030.8px;width:24.0px;height:14.5px;line-height:14.5px">11</div><div class="lb n" style="left:279.0px;top:1010.0px;width:24.0px;height:14.5px;line-height:14.5px">10</div><div class="lb n" style="left:308.1px;top:1000.9px;width:12.7px;height:14.5px;line-height:14.5px">9</div><div class="lb n" style="left:266.5px;top:1238.2px;width:24.0px;height:14.5px;line-height:14.5px">11</div><div class="lb n" style="left:295.8px;top:1253.8px;width:24.0px;height:14.5px;line-height:14.5px">10</div><div class="lb n" style="left:80.6px;top:1253.0px;width:24.0px;height:14.5px;line-height:14.5px">11</div><svg style="left:179.8px;top:1128.9px" width="12" height="12"><circle cx="6" cy="6" r="3.1" fill="#fff" stroke="#2a0a0a" stroke-width="1.15"/></svg><div class="t" style="left:178.8px;top:1132.9px;font-size:4px;line-height:4px;color:#444">5</div><svg style="left:45.6px;top:994.0px" width="8" height="8"><circle cx="4" cy="4" r="2.8" fill="#b40000" stroke="#700000" stroke-width="0.6"/></svg><svg style="left:317.7px;top:994.0px" width="8" height="8"><circle cx="4" cy="4" r="2.8" fill="#b40000" stroke="#700000" stroke-width="0.6"/></svg><svg style="left:45.6px;top:1267.3px" width="8" height="8"><circle cx="4" cy="4" r="2.8" fill="#b40000" stroke="#700000" stroke-width="0.6"/></svg><svg style="left:317.7px;top:1267.3px" width="8" height="8"><circle cx="4" cy="4" r="2.8" fill="#b40000" stroke="#700000" stroke-width="0.6"/></svg><div style="position:absolute;left:50px;top:1259px;width:31px;height:1.3px;background:#fff;opacity:0.85"></div><div class="t xt" style="left:402.10px;top:1283.60px">0.25</div><div class="t xt" style="left:441.09px;top:1283.60px">0.59</div><div class="t xt" style="left:480.07px;top:1283.60px">0.93</div><div class="t xt" style="left:519.06px;top:1283.60px">1.27</div><div class="t xt" style="left:558.04px;top:1283.60px">1.61</div><div class="t xt" style="left:597.03px;top:1283.60px">1.95</div><div class="t xt" style="left:636.01px;top:1283.60px">2.29</div><div class="t xt" style="left:675.00px;top:1283.60px">2.63</div><div class="t yt" style="right:294.00px;top:1269.70px">0.50</div><div class="t yt" style="right:294.00px;top:1215.10px">0.70</div><div class="t yt" style="right:294.00px;top:1160.50px">0.90</div><div class="t yt" style="right:294.00px;top:1105.90px">1.10</div><div class="t yt" style="right:294.00px;top:1051.30px">1.30</div><div class="t yt" style="right:294.00px;top:996.70px">1.50</div><div class="ttl" style="left:546.80px;top:1301.50px;font-size:8.7px">C:&nbsp; Na<sub>2</sub>HPO<sub>4</sub> (% w/v)</div><div class="ttl yl" style="left:361.40px;top:1135.00px;font-size:8.8px">B: Yeast extract (% w/v)</div><div class="lt" style="left:406.50px;top:981.80px">h</div><div class="lb n" style="left:515.3px;top:1073.5px;width:24.0px;height:14.5px;line-height:14.5px">13</div><div class="lb n" style="left:558.3px;top:1036.2px;width:24.0px;height:14.5px;line-height:14.5px">12</div><div class="lb n" style="left:606.6px;top:1013.8px;width:24.0px;height:14.5px;line-height:14.5px">11</div><div class="lb n" style="left:640.0px;top:1000.0px;width:24.0px;height:14.5px;line-height:14.5px">10</div><div class="lb n" style="left:457.4px;top:1206.0px;width:24.0px;height:14.5px;line-height:14.5px">13</div><div class="lb n" style="left:423.8px;top:1242.2px;width:24.0px;height:14.5px;line-height:14.5px">12</div><div class="lb n" style="left:599.9px;top:1183.0px;width:24.0px;height:14.5px;line-height:14.5px">14</div><svg style="left:532.1px;top:1127.3px" width="12" height="12"><circle cx="6" cy="6" r="3.1" fill="#fff" stroke="#2a0a0a" stroke-width="1.15"/></svg><div class="t" style="left:531.1px;top:1131.3px;font-size:4px;line-height:4px;color:#444">5</div><svg style="left:398.1px;top:992.7px" width="8" height="8"><circle cx="4" cy="4" r="2.8" fill="#b40000" stroke="#700000" stroke-width="0.6"/></svg><svg style="left:671.0px;top:992.7px" width="8" height="8"><circle cx="4" cy="4" r="2.8" fill="#b40000" stroke="#700000" stroke-width="0.6"/></svg><svg style="left:398.1px;top:1265.7px" width="8" height="8"><circle cx="4" cy="4" r="2.8" fill="#b40000" stroke="#700000" stroke-width="0.6"/></svg><svg style="left:671.0px;top:1265.7px" width="8" height="8"><circle cx="4" cy="4" r="2.8" fill="#b40000" stroke="#700000" stroke-width="0.6"/></svg><div class="t xt" style="left:47.90px;top:1616.00px">0.25</div><div class="t xt" style="left:86.87px;top:1616.00px">0.59</div><div class="t xt" style="left:125.84px;top:1616.00px">0.93</div><div class="t xt" style="left:164.81px;top:1616.00px">1.27</div><div class="t xt" style="left:203.79px;top:1616.00px">1.61</div><div class="t xt" style="left:242.76px;top:1616.00px">1.95</div><div class="t xt" style="left:281.73px;top:1616.00px">2.29</div><div class="t xt" style="left:320.70px;top:1616.00px">2.63</div><div class="t yt" style="right:648.20px;top:1598.30px">0.50</div><div class="t yt" style="right:648.20px;top:1543.74px">0.70</div><div class="t yt" style="right:648.20px;top:1489.98px">0.90</div><div class="t yt" style="right:648.20px;top:1435.92px">1.10</div><div class="t yt" style="right:648.20px;top:1381.06px">1.30</div><div class="t yt" style="right:648.20px;top:1328.70px">1.50</div><div class="ttl" style="left:176.00px;top:1640.30px;font-size:8.7px">C:&nbsp; Na<sub>2</sub>HPO<sub>4</sub> (% w/v)</div><div class="ttl yl" style="left:7.20px;top:1465.10px;font-size:8.8px">B: Yeast extract (% w/v)</div><div class="lt" style="left:54.20px;top:1312.90px">i</div><div class="lb n" style="left:49.0px;top:1506.8px;width:24.0px;height:14.5px;line-height:14.5px">4.5</div><div class="lb n" style="left:67.8px;top:1453.8px;width:24.0px;height:14.5px;line-height:14.5px">5.0</div><div class="lb n" style="left:103.8px;top:1453.8px;width:24.0px;height:14.5px;line-height:14.5px">5.5</div><div class="lb n" style="left:143.2px;top:1453.8px;width:24.0px;height:14.5px;line-height:14.5px">6.0</div><div class="lb n" style="left:195.8px;top:1454.0px;width:24.0px;height:14.5px;line-height:14.5px">6.5</div><svg style="left:178.4px;top:1458.1px" width="12" height="12"><circle cx="6" cy="6" r="3.1" fill="#fff" stroke="#2a0a0a" stroke-width="1.15"/></svg><div class="t" style="left:177.4px;top:1462.1px;font-size:4px;line-height:4px;color:#444">5</div><svg style="left:43.9px;top:1323.5px" width="8" height="8"><circle cx="4" cy="4" r="2.8" fill="#b40000" stroke="#700000" stroke-width="0.6"/></svg><svg style="left:316.7px;top:1323.5px" width="8" height="8"><circle cx="4" cy="4" r="2.8" fill="#b40000" stroke="#700000" stroke-width="0.6"/></svg><svg style="left:43.9px;top:1596.3px" width="8" height="8"><circle cx="4" cy="4" r="2.8" fill="#b40000" stroke="#700000" stroke-width="0.6"/></svg><svg style="left:316.7px;top:1596.3px" width="8" height="8"><circle cx="4" cy="4" r="2.8" fill="#b40000" stroke="#700000" stroke-width="0.6"/></svg><div class="t xt" style="left:403.50px;top:1615.60px">0.25</div><div class="t xt" style="left:442.39px;top:1615.60px">0.59</div><div class="t xt" style="left:481.27px;top:1615.60px">0.93</div><div class="t xt" style="left:520.16px;top:1615.60px">1.27</div><div class="t xt" style="left:559.04px;top:1615.60px">1.61</div><div class="t xt" style="left:597.93px;top:1615.60px">1.95</div><div class="t xt" style="left:636.81px;top:1615.60px">2.29</div><div class="t xt" style="left:675.70px;top:1615.60px">2.63</div><div class="t yt" style="right:293.20px;top:1600.30px">0.50</div><div class="t yt" style="right:293.20px;top:1545.92px">0.70</div><div class="t yt" style="right:293.20px;top:1491.54px">0.90</div><div class="t yt" style="right:293.20px;top:1437.16px">1.10</div><div class="t yt" style="right:293.20px;top:1382.78px">1.30</div><div class="t yt" style="right:293.20px;top:1328.40px">1.50</div><div class="ttl" style="left:526.00px;top:1641.20px;font-size:8.7px">C:&nbsp; Na<sub>2</sub>HPO<sub>4</sub> (% w/v)</div><div class="ttl yl" style="left:359.00px;top:1461.90px;font-size:8.8px">B: Yeast extract (% w/v)</div><div class="lt" style="left:408.20px;top:1312.90px">j</div><div class="lb n" style="left:404.9px;top:1457.8px;width:24.0px;height:14.5px;line-height:14.5px">0.2</div><div class="lb n" style="left:433.9px;top:1462.8px;width:24.0px;height:14.5px;line-height:14.5px">0.4</div><div class="lb n" style="left:514.0px;top:1453.2px;width:24.0px;height:14.5px;line-height:14.5px">0.6</div><div class="lb n" style="left:645.5px;top:1504.3px;width:24.0px;height:14.5px;line-height:14.5px">0.8</div><div class="lb" style="left:592.2px;top:1486.8px;width:83.9px;height:14.6px;line-height:13px;border:0.8px solid #8a8a8a;font-size:9px">Desirability: 0.806</div><div style="position:absolute;left:675px;top:1508.5px;width:2px;height:2px;background:#aaa"></div></body></html>
